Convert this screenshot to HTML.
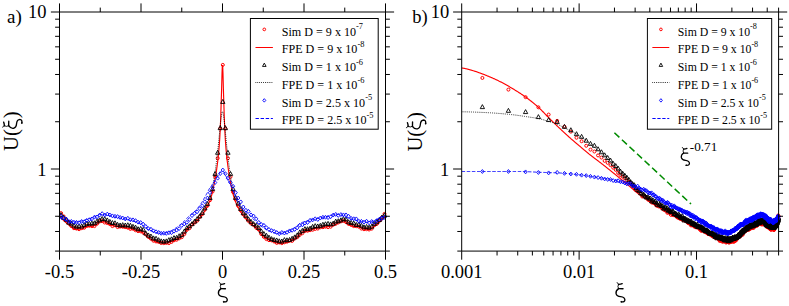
<!DOCTYPE html>
<html><head><meta charset="utf-8"><title>U(xi)</title>
<style>html,body{margin:0;padding:0;background:#fff}body{width:789px;height:306px;overflow:hidden;font-family:"Liberation Serif",serif}</style>
</head><body>
<svg width="789" height="306" viewBox="0 0 789 306" style="display:block">
<rect width="789" height="306" fill="#fff"/>
<defs><clipPath id="ca"><rect x="56.5" y="12" width="332" height="239.09"/></clipPath>
<g id="xi" transform="scale(0.08496) translate(-70.6 -216.6)" fill="none" stroke="#000" stroke-linecap="round" stroke-linejoin="round"><path d="M88 30Q92 46 106 50" stroke-width="10"/><path d="M104 51Q128 52 148 43" stroke-width="16"/><path d="M106 50Q88 76 104 100" stroke-width="11"/><path d="M104 102L158 103" stroke-width="16"/><path d="M106 102Q70 126 76 160Q84 192 130 195Q178 200 180 234Q178 262 138 258" stroke-width="15.5"/><circle cx="137" cy="257" r="6" fill="#000" stroke-width="6"/></g>
<clipPath id="cb"><rect x="461.7" y="12" width="319.9" height="239.09"/></clipPath></defs>
<g clip-path="url(#ca)" fill="none" stroke-width="1">
<g stroke="#ff0000">
<circle cx="61.08" cy="213.14" r="1.5"/>
<circle cx="63.65" cy="216.39" r="1.5"/>
<circle cx="66.22" cy="220.45" r="1.5"/>
<circle cx="68.78" cy="222.58" r="1.5"/>
<circle cx="71.35" cy="226.07" r="1.5"/>
<circle cx="73.92" cy="228.19" r="1.5"/>
<circle cx="76.49" cy="228.59" r="1.5"/>
<circle cx="79.05" cy="229.19" r="1.5"/>
<circle cx="81.62" cy="228.17" r="1.5"/>
<circle cx="84.19" cy="227.75" r="1.5"/>
<circle cx="86.75" cy="225.95" r="1.5"/>
<circle cx="89.32" cy="225.76" r="1.5"/>
<circle cx="91.89" cy="226.14" r="1.5"/>
<circle cx="94.45" cy="226.13" r="1.5"/>
<circle cx="97.02" cy="223.73" r="1.5"/>
<circle cx="99.59" cy="221.49" r="1.5"/>
<circle cx="102.15" cy="221.17" r="1.5"/>
<circle cx="104.72" cy="222.54" r="1.5"/>
<circle cx="107.29" cy="223.04" r="1.5"/>
<circle cx="109.86" cy="224.13" r="1.5"/>
<circle cx="112.42" cy="226.12" r="1.5"/>
<circle cx="114.99" cy="225.27" r="1.5"/>
<circle cx="117.56" cy="227.07" r="1.5"/>
<circle cx="120.12" cy="226.59" r="1.5"/>
<circle cx="122.69" cy="226.76" r="1.5"/>
<circle cx="125.26" cy="227.05" r="1.5"/>
<circle cx="127.82" cy="227.69" r="1.5"/>
<circle cx="130.39" cy="228.95" r="1.5"/>
<circle cx="132.96" cy="228.67" r="1.5"/>
<circle cx="135.52" cy="230.24" r="1.5"/>
<circle cx="138.09" cy="231.14" r="1.5"/>
<circle cx="140.66" cy="231.34" r="1.5"/>
<circle cx="143.23" cy="232.69" r="1.5"/>
<circle cx="145.79" cy="234.3" r="1.5"/>
<circle cx="148.36" cy="236.87" r="1.5"/>
<circle cx="150.93" cy="238.69" r="1.5"/>
<circle cx="153.49" cy="240.78" r="1.5"/>
<circle cx="156.06" cy="241.44" r="1.5"/>
<circle cx="158.63" cy="241.97" r="1.5"/>
<circle cx="161.19" cy="242.97" r="1.5"/>
<circle cx="163.76" cy="243.15" r="1.5"/>
<circle cx="166.33" cy="242.92" r="1.5"/>
<circle cx="168.89" cy="243.11" r="1.5"/>
<circle cx="171.46" cy="241.99" r="1.5"/>
<circle cx="174.03" cy="240.3" r="1.5"/>
<circle cx="176.6" cy="239.76" r="1.5"/>
<circle cx="179.16" cy="238.37" r="1.5"/>
<circle cx="181.73" cy="237.22" r="1.5"/>
<circle cx="184.3" cy="234.12" r="1.5"/>
<circle cx="186.86" cy="229.88" r="1.5"/>
<circle cx="189.43" cy="228.24" r="1.5"/>
<circle cx="192" cy="224.46" r="1.5"/>
<circle cx="194.56" cy="222.64" r="1.5"/>
<circle cx="197.13" cy="220.78" r="1.5"/>
<circle cx="199.7" cy="216.99" r="1.5"/>
<circle cx="202.26" cy="214.2" r="1.5"/>
<circle cx="204.83" cy="209.59" r="1.5"/>
<circle cx="207.4" cy="205.84" r="1.5"/>
<circle cx="209.97" cy="200.21" r="1.5"/>
<circle cx="212.53" cy="191.6" r="1.5"/>
<circle cx="215.1" cy="176.72" r="1.5"/>
<circle cx="217.67" cy="158.23" r="1.5"/>
<circle cx="220.23" cy="128.53" r="1.5"/>
<circle cx="222.8" cy="64.9" r="1.5"/>
<circle cx="225.37" cy="128.53" r="1.5"/>
<circle cx="227.93" cy="158.23" r="1.5"/>
<circle cx="230.5" cy="176.72" r="1.5"/>
<circle cx="233.07" cy="192.08" r="1.5"/>
<circle cx="235.63" cy="199.49" r="1.5"/>
<circle cx="238.2" cy="205.88" r="1.5"/>
<circle cx="240.77" cy="210.48" r="1.5"/>
<circle cx="243.34" cy="214.35" r="1.5"/>
<circle cx="245.9" cy="217.48" r="1.5"/>
<circle cx="248.47" cy="220.92" r="1.5"/>
<circle cx="251.04" cy="223.48" r="1.5"/>
<circle cx="253.6" cy="225.03" r="1.5"/>
<circle cx="256.17" cy="227.74" r="1.5"/>
<circle cx="258.74" cy="229.52" r="1.5"/>
<circle cx="261.3" cy="234.07" r="1.5"/>
<circle cx="263.87" cy="236.86" r="1.5"/>
<circle cx="266.44" cy="239.12" r="1.5"/>
<circle cx="269" cy="240.16" r="1.5"/>
<circle cx="271.57" cy="240.36" r="1.5"/>
<circle cx="274.14" cy="241.49" r="1.5"/>
<circle cx="276.71" cy="242.91" r="1.5"/>
<circle cx="279.27" cy="242.47" r="1.5"/>
<circle cx="281.84" cy="243.16" r="1.5"/>
<circle cx="284.41" cy="242.3" r="1.5"/>
<circle cx="286.97" cy="241.66" r="1.5"/>
<circle cx="289.54" cy="240.85" r="1.5"/>
<circle cx="292.11" cy="240.92" r="1.5"/>
<circle cx="294.67" cy="238.56" r="1.5"/>
<circle cx="297.24" cy="237.17" r="1.5"/>
<circle cx="299.81" cy="234.83" r="1.5"/>
<circle cx="302.37" cy="233.21" r="1.5"/>
<circle cx="304.94" cy="230.88" r="1.5"/>
<circle cx="307.51" cy="230.84" r="1.5"/>
<circle cx="310.08" cy="230.18" r="1.5"/>
<circle cx="312.64" cy="229.79" r="1.5"/>
<circle cx="315.21" cy="228.95" r="1.5"/>
<circle cx="317.78" cy="228.57" r="1.5"/>
<circle cx="320.34" cy="227.3" r="1.5"/>
<circle cx="322.91" cy="227.19" r="1.5"/>
<circle cx="325.48" cy="226.7" r="1.5"/>
<circle cx="328.04" cy="227.11" r="1.5"/>
<circle cx="330.61" cy="226.72" r="1.5"/>
<circle cx="333.18" cy="224.8" r="1.5"/>
<circle cx="335.74" cy="223.78" r="1.5"/>
<circle cx="338.31" cy="222.49" r="1.5"/>
<circle cx="340.88" cy="221.39" r="1.5"/>
<circle cx="343.45" cy="220.94" r="1.5"/>
<circle cx="346.01" cy="222.07" r="1.5"/>
<circle cx="348.58" cy="223.95" r="1.5"/>
<circle cx="351.15" cy="224.82" r="1.5"/>
<circle cx="353.71" cy="226.13" r="1.5"/>
<circle cx="356.28" cy="226.21" r="1.5"/>
<circle cx="358.85" cy="226.75" r="1.5"/>
<circle cx="361.41" cy="228.58" r="1.5"/>
<circle cx="363.98" cy="229.22" r="1.5"/>
<circle cx="366.55" cy="229.21" r="1.5"/>
<circle cx="369.11" cy="229.49" r="1.5"/>
<circle cx="371.68" cy="228.69" r="1.5"/>
<circle cx="374.25" cy="225.3" r="1.5"/>
<circle cx="376.82" cy="223.9" r="1.5"/>
<circle cx="379.38" cy="220.65" r="1.5"/>
<circle cx="381.95" cy="217.55" r="1.5"/>
<circle cx="384.52" cy="213.9" r="1.5"/>
</g>
<path d="M59.5 217.4L59.73 217.4L59.97 217.4L60.2 217.4L60.43 217.4L60.66 217.4L60.9 217.61L61.13 217.86L61.36 218.11L61.6 218.36L61.83 218.6L62.06 218.84L62.29 219.08L62.53 219.32L62.76 219.56L62.99 219.79L63.23 220.03L63.46 220.26L63.69 220.49L63.92 220.71L64.16 220.93L64.39 221.15L64.62 221.37L64.86 221.59L65.09 221.8L65.32 222.01L65.55 222.22L65.79 222.43L66.02 222.63L66.25 222.84L66.49 223.04L66.72 223.25L66.95 223.45L67.18 223.65L67.42 223.85L67.65 224.04L67.88 224.24L68.12 224.43L68.35 224.62L68.58 224.81L68.81 224.99L69.05 225.17L69.28 225.35L69.51 225.53L69.75 225.7L69.98 225.87L70.21 226.03L70.44 226.19L70.68 226.35L70.91 226.51L71.14 226.68L71.38 226.85L71.61 227.03L71.84 227.21L72.07 227.39L72.31 227.56L72.54 227.74L72.77 227.92L73.01 228.09L73.24 228.25L73.47 228.41L73.7 228.56L73.94 228.71L74.17 228.84L74.4 228.96L74.64 229.07L74.87 229.17L75.1 229.25L75.33 229.32L75.57 229.36L75.8 229.39L76.03 229.4L76.27 229.4L76.5 229.4L76.73 229.39L76.96 229.38L77.2 229.38L77.43 229.37L77.66 229.36L77.9 229.34L78.13 229.33L78.36 229.31L78.59 229.29L78.83 229.28L79.06 229.26L79.29 229.24L79.53 229.21L79.76 229.19L79.99 229.17L80.22 229.14L80.46 229.11L80.69 229.09L80.92 229.06L81.16 229.03L81.39 229L81.62 228.96L81.85 228.91L82.09 228.84L82.32 228.76L82.55 228.66L82.79 228.55L83.02 228.44L83.25 228.32L83.48 228.19L83.72 228.05L83.95 227.92L84.18 227.78L84.42 227.65L84.65 227.51L84.88 227.38L85.11 227.26L85.35 227.14L85.58 227.03L85.81 226.94L86.05 226.85L86.28 226.78L86.51 226.73L86.74 226.69L86.98 226.67L87.21 226.64L87.44 226.62L87.68 226.6L87.91 226.58L88.14 226.57L88.37 226.55L88.61 226.54L88.84 226.53L89.07 226.52L89.31 226.5L89.54 226.49L89.77 226.48L90 226.47L90.24 226.46L90.47 226.45L90.7 226.43L90.94 226.41L91.17 226.4L91.4 226.38L91.63 226.35L91.87 226.33L92.1 226.3L92.33 226.27L92.57 226.22L92.8 226.17L93.03 226.11L93.26 226.04L93.5 225.96L93.73 225.88L93.96 225.79L94.2 225.69L94.43 225.59L94.66 225.49L94.89 225.38L95.13 225.27L95.36 225.15L95.59 225.03L95.83 224.91L96.06 224.79L96.29 224.66L96.52 224.54L96.76 224.41L96.99 224.25L97.22 224.08L97.46 223.88L97.69 223.66L97.92 223.43L98.15 223.2L98.39 222.95L98.62 222.71L98.85 222.46L99.09 222.23L99.32 222L99.55 221.79L99.78 221.59L100.02 221.41L100.25 221.26L100.48 221.14L100.72 221.06L100.95 221.01L101.18 221L101.41 221.01L101.65 221.03L101.88 221.07L102.11 221.11L102.35 221.17L102.58 221.23L102.81 221.3L103.04 221.38L103.28 221.46L103.51 221.55L103.74 221.64L103.98 221.73L104.21 221.83L104.44 221.93L104.67 222.03L104.91 222.13L105.14 222.22L105.37 222.31L105.61 222.4L105.84 222.49L106.07 222.59L106.3 222.69L106.54 222.8L106.77 222.91L107 223.02L107.24 223.14L107.47 223.26L107.7 223.39L107.93 223.51L108.17 223.64L108.4 223.77L108.63 223.89L108.87 224.02L109.1 224.15L109.33 224.28L109.56 224.4L109.8 224.52L110.03 224.64L110.26 224.75L110.5 224.86L110.73 224.97L110.96 225.07L111.19 225.16L111.43 225.25L111.66 225.33L111.89 225.4L112.13 225.46L112.36 225.53L112.59 225.59L112.82 225.65L113.06 225.71L113.29 225.77L113.52 225.83L113.76 225.88L113.99 225.94L114.22 225.99L114.45 226.04L114.69 226.09L114.92 226.14L115.15 226.19L115.39 226.24L115.62 226.29L115.85 226.33L116.08 226.38L116.32 226.42L116.55 226.46L116.78 226.51L117.02 226.55L117.25 226.59L117.48 226.63L117.71 226.67L117.95 226.71L118.18 226.75L118.41 226.79L118.65 226.83L118.88 226.87L119.11 226.91L119.34 226.94L119.58 226.98L119.81 227.02L120.04 227.06L120.28 227.1L120.51 227.14L120.74 227.17L120.97 227.21L121.21 227.25L121.44 227.29L121.67 227.32L121.91 227.36L122.14 227.39L122.37 227.42L122.6 227.46L122.84 227.49L123.07 227.52L123.3 227.55L123.54 227.58L123.77 227.61L124 227.64L124.23 227.67L124.47 227.7L124.7 227.73L124.93 227.76L125.17 227.78L125.4 227.81L125.63 227.84L125.86 227.87L126.1 227.9L126.33 227.93L126.56 227.96L126.8 227.99L127.03 228.02L127.26 228.06L127.49 228.09L127.73 228.12L127.96 228.16L128.19 228.19L128.43 228.23L128.66 228.27L128.89 228.31L129.12 228.35L129.36 228.39L129.59 228.44L129.82 228.48L130.06 228.53L130.29 228.58L130.52 228.64L130.75 228.7L130.99 228.76L131.22 228.83L131.45 228.89L131.69 228.96L131.92 229.04L132.15 229.11L132.38 229.19L132.62 229.27L132.85 229.35L133.08 229.43L133.32 229.51L133.55 229.59L133.78 229.68L134.01 229.76L134.25 229.85L134.48 229.93L134.71 230.02L134.95 230.1L135.18 230.19L135.41 230.27L135.64 230.35L135.88 230.44L136.11 230.52L136.34 230.59L136.58 230.67L136.81 230.74L137.04 230.81L137.27 230.88L137.51 230.94L137.74 231.01L137.97 231.07L138.21 231.12L138.44 231.18L138.67 231.23L138.9 231.29L139.14 231.34L139.37 231.4L139.6 231.46L139.84 231.51L140.07 231.57L140.3 231.63L140.53 231.7L140.77 231.77L141 231.84L141.23 231.91L141.47 231.99L141.7 232.08L141.93 232.17L142.16 232.27L142.4 232.39L142.63 232.53L142.86 232.67L143.1 232.84L143.33 233.02L143.56 233.21L143.79 233.41L144.03 233.62L144.26 233.84L144.49 234.06L144.73 234.3L144.96 234.54L145.19 234.78L145.42 235.03L145.66 235.28L145.89 235.53L146.12 235.78L146.36 236.03L146.59 236.28L146.82 236.52L147.05 236.75L147.29 236.98L147.52 237.2L147.75 237.41L147.99 237.61L148.22 237.8L148.45 237.97L148.68 238.13L148.92 238.27L149.15 238.41L149.38 238.54L149.62 238.68L149.85 238.82L150.08 238.95L150.31 239.08L150.55 239.21L150.78 239.34L151.01 239.47L151.25 239.6L151.48 239.72L151.71 239.85L151.94 239.97L152.18 240.09L152.41 240.21L152.64 240.32L152.88 240.44L153.11 240.55L153.34 240.66L153.57 240.77L153.81 240.88L154.04 240.98L154.27 241.08L154.51 241.18L154.74 241.27L154.97 241.37L155.2 241.46L155.44 241.54L155.67 241.63L155.9 241.71L156.14 241.79L156.37 241.86L156.6 241.93L156.83 242L157.07 242.07L157.3 242.13L157.53 242.18L157.77 242.24L158 242.29L158.23 242.35L158.46 242.4L158.7 242.45L158.93 242.51L159.16 242.56L159.4 242.61L159.63 242.66L159.86 242.71L160.09 242.76L160.33 242.81L160.56 242.86L160.79 242.91L161.03 242.95L161.26 243L161.49 243.04L161.72 243.08L161.96 243.12L162.19 243.16L162.42 243.19L162.66 243.23L162.89 243.26L163.12 243.29L163.35 243.31L163.59 243.33L163.82 243.35L164.05 243.37L164.29 243.38L164.52 243.39L164.75 243.4L164.98 243.4L165.22 243.4L165.45 243.39L165.68 243.37L165.92 243.35L166.15 243.32L166.38 243.29L166.61 243.25L166.85 243.21L167.08 243.16L167.31 243.11L167.55 243.05L167.78 242.99L168.01 242.92L168.24 242.85L168.48 242.78L168.71 242.7L168.94 242.62L169.18 242.54L169.41 242.45L169.64 242.37L169.87 242.28L170.11 242.19L170.34 242.1L170.57 242.01L170.81 241.91L171.04 241.82L171.27 241.73L171.5 241.64L171.74 241.55L171.97 241.46L172.2 241.37L172.44 241.29L172.67 241.2L172.9 241.12L173.13 241.03L173.37 240.94L173.6 240.86L173.83 240.77L174.07 240.68L174.3 240.58L174.53 240.49L174.76 240.4L175 240.3L175.23 240.2L175.46 240.1L175.7 240L175.93 239.9L176.16 239.8L176.39 239.69L176.63 239.58L176.86 239.47L177.09 239.36L177.33 239.25L177.56 239.13L177.79 239.01L178.02 238.89L178.26 238.76L178.49 238.63L178.72 238.5L178.96 238.37L179.19 238.23L179.42 238.09L179.65 237.95L179.89 237.8L180.12 237.65L180.35 237.5L180.59 237.34L180.82 237.18L181.05 237.01L181.28 236.84L181.52 236.65L181.75 236.45L181.98 236.24L182.22 236.01L182.45 235.77L182.68 235.52L182.91 235.25L183.15 234.98L183.38 234.7L183.61 234.41L183.85 234.11L184.08 233.8L184.31 233.49L184.54 233.18L184.78 232.86L185.01 232.55L185.24 232.23L185.48 231.91L185.71 231.6L185.94 231.28L186.17 230.98L186.41 230.68L186.64 230.39L186.87 230.1L187.11 229.83L187.34 229.58L187.57 229.33L187.8 229.1L188.04 228.87L188.27 228.64L188.5 228.42L188.74 228.2L188.97 227.97L189.2 227.75L189.43 227.54L189.67 227.32L189.9 227.1L190.13 226.89L190.37 226.68L190.6 226.47L190.83 226.26L191.06 226.05L191.3 225.84L191.53 225.64L191.76 225.43L192 225.23L192.23 225.02L192.46 224.82L192.69 224.62L192.93 224.42L193.16 224.22L193.39 224.02L193.63 223.81L193.86 223.61L194.09 223.41L194.32 223.21L194.56 223.01L194.79 222.8L195.02 222.6L195.26 222.39L195.49 222.19L195.72 221.98L195.95 221.77L196.19 221.56L196.42 221.34L196.65 221.12L196.89 220.9L197.12 220.68L197.35 220.45L197.58 220.22L197.82 219.99L198.05 219.75L198.28 219.51L198.52 219.26L198.75 219.01L198.98 218.75L199.21 218.48L199.45 218.21L199.68 217.94L199.91 217.67L200.15 217.4L200.38 217.12L200.61 216.84L200.84 216.56L201.08 216.27L201.31 215.99L201.54 215.69L201.78 215.4L202.01 215.1L202.24 214.8L202.47 214.49L202.71 214.18L202.94 213.86L203.17 213.54L203.41 213.21L203.64 212.88L203.87 212.54L204.1 212.19L204.34 211.83L204.57 211.47L204.8 211.1L205.04 210.72L205.27 210.34L205.5 209.95L205.73 209.55L205.97 209.15L206.2 208.73L206.43 208.31L206.67 207.88L206.9 207.44L207.13 206.99L207.36 206.53L207.6 206.05L207.83 205.57L208.06 205.07L208.3 204.56L208.53 204.04L208.76 203.5L208.99 202.95L209.23 202.39L209.46 201.8L209.69 201.21L209.93 200.59L210.16 199.95L210.39 199.29L210.62 198.61L210.86 197.91L211.09 197.17L211.32 196.41L211.56 195.61L211.79 194.76L212.02 193.88L212.25 192.96L212.49 191.99L212.72 190.99L212.95 189.95L213.19 188.88L213.42 187.78L213.65 186.65L213.88 185.49L214.12 184.32L214.35 183.13L214.58 181.92L214.82 180.68L215.05 179.4L215.28 178.07L215.51 176.71L215.75 175.3L215.98 173.85L216.21 172.35L216.45 170.79L216.68 169.19L216.91 167.52L217.14 165.8L217.38 164.02L217.61 162.2L217.84 160.32L218.08 158.35L218.31 156.25L218.54 153.95L218.77 151.41L219.01 148.63L219.24 145.65L219.47 142.47L219.71 138.96L219.94 134.99L220.17 130.49L220.4 125.39L220.64 119.57L220.87 112.58L221.1 105.13L221.34 97.78L221.57 90.21L221.8 81.83L222.03 72.96L222.27 66.7L222.5 65L222.73 66.7L222.97 72.96L223.2 81.83L223.43 90.21L223.66 97.78L223.9 105.13L224.13 112.58L224.36 119.57L224.6 125.39L224.83 130.49L225.06 134.99L225.29 138.96L225.53 142.47L225.76 145.65L225.99 148.63L226.23 151.41L226.46 153.95L226.69 156.25L226.92 158.35L227.16 160.32L227.39 162.2L227.62 164.02L227.86 165.8L228.09 167.52L228.32 169.19L228.55 170.79L228.79 172.35L229.02 173.85L229.25 175.3L229.49 176.71L229.72 178.07L229.95 179.4L230.18 180.68L230.42 181.92L230.65 183.13L230.88 184.32L231.12 185.49L231.35 186.65L231.58 187.78L231.81 188.88L232.05 189.95L232.28 190.99L232.51 191.99L232.75 192.96L232.98 193.88L233.21 194.76L233.44 195.61L233.68 196.41L233.91 197.17L234.14 197.91L234.38 198.61L234.61 199.29L234.84 199.95L235.07 200.59L235.31 201.21L235.54 201.8L235.77 202.39L236.01 202.95L236.24 203.5L236.47 204.04L236.7 204.56L236.94 205.07L237.17 205.57L237.4 206.05L237.64 206.53L237.87 206.99L238.1 207.44L238.33 207.88L238.57 208.31L238.8 208.73L239.03 209.15L239.27 209.55L239.5 209.95L239.73 210.34L239.96 210.72L240.2 211.1L240.43 211.47L240.66 211.83L240.9 212.19L241.13 212.54L241.36 212.88L241.59 213.21L241.83 213.54L242.06 213.86L242.29 214.18L242.53 214.49L242.76 214.8L242.99 215.1L243.22 215.4L243.46 215.69L243.69 215.99L243.92 216.27L244.16 216.56L244.39 216.84L244.62 217.12L244.85 217.4L245.09 217.67L245.32 217.94L245.55 218.21L245.79 218.48L246.02 218.75L246.25 219.01L246.48 219.26L246.72 219.51L246.95 219.75L247.18 219.99L247.42 220.22L247.65 220.45L247.88 220.68L248.11 220.9L248.35 221.12L248.58 221.34L248.81 221.56L249.05 221.77L249.28 221.98L249.51 222.19L249.74 222.39L249.98 222.6L250.21 222.8L250.44 223.01L250.68 223.21L250.91 223.41L251.14 223.61L251.37 223.81L251.61 224.02L251.84 224.22L252.07 224.42L252.31 224.62L252.54 224.82L252.77 225.02L253 225.23L253.24 225.43L253.47 225.64L253.7 225.84L253.94 226.05L254.17 226.26L254.4 226.47L254.63 226.68L254.87 226.89L255.1 227.1L255.33 227.32L255.57 227.54L255.8 227.75L256.03 227.97L256.26 228.2L256.5 228.42L256.73 228.64L256.96 228.87L257.2 229.1L257.43 229.33L257.66 229.58L257.89 229.83L258.13 230.1L258.36 230.39L258.59 230.68L258.83 230.98L259.06 231.28L259.29 231.6L259.52 231.91L259.76 232.23L259.99 232.55L260.22 232.86L260.46 233.18L260.69 233.49L260.92 233.8L261.15 234.11L261.39 234.41L261.62 234.7L261.85 234.98L262.09 235.25L262.32 235.52L262.55 235.77L262.78 236.01L263.02 236.24L263.25 236.45L263.48 236.65L263.72 236.84L263.95 237.01L264.18 237.18L264.41 237.34L264.65 237.5L264.88 237.65L265.11 237.8L265.35 237.95L265.58 238.09L265.81 238.23L266.04 238.37L266.28 238.5L266.51 238.63L266.74 238.76L266.98 238.89L267.21 239.01L267.44 239.13L267.67 239.25L267.91 239.36L268.14 239.47L268.37 239.58L268.61 239.69L268.84 239.8L269.07 239.9L269.3 240L269.54 240.1L269.77 240.2L270 240.3L270.24 240.4L270.47 240.49L270.7 240.58L270.93 240.68L271.17 240.77L271.4 240.86L271.63 240.94L271.87 241.03L272.1 241.12L272.33 241.2L272.56 241.29L272.8 241.37L273.03 241.46L273.26 241.55L273.5 241.64L273.73 241.73L273.96 241.82L274.19 241.91L274.43 242.01L274.66 242.1L274.89 242.19L275.13 242.28L275.36 242.37L275.59 242.45L275.82 242.54L276.06 242.62L276.29 242.7L276.52 242.78L276.76 242.85L276.99 242.92L277.22 242.99L277.45 243.05L277.69 243.11L277.92 243.16L278.15 243.21L278.39 243.25L278.62 243.29L278.85 243.32L279.08 243.35L279.32 243.37L279.55 243.39L279.78 243.4L280.02 243.4L280.25 243.4L280.48 243.39L280.71 243.38L280.95 243.37L281.18 243.35L281.41 243.33L281.65 243.31L281.88 243.29L282.11 243.26L282.34 243.23L282.58 243.19L282.81 243.16L283.04 243.12L283.28 243.08L283.51 243.04L283.74 243L283.97 242.95L284.21 242.91L284.44 242.86L284.67 242.81L284.91 242.76L285.14 242.71L285.37 242.66L285.6 242.61L285.84 242.56L286.07 242.51L286.3 242.45L286.54 242.4L286.77 242.35L287 242.29L287.23 242.24L287.47 242.18L287.7 242.13L287.93 242.07L288.17 242L288.4 241.93L288.63 241.86L288.86 241.79L289.1 241.71L289.33 241.63L289.56 241.54L289.8 241.46L290.03 241.37L290.26 241.27L290.49 241.18L290.73 241.08L290.96 240.98L291.19 240.88L291.43 240.77L291.66 240.66L291.89 240.55L292.12 240.44L292.36 240.32L292.59 240.21L292.82 240.09L293.06 239.97L293.29 239.85L293.52 239.72L293.75 239.6L293.99 239.47L294.22 239.34L294.45 239.21L294.69 239.08L294.92 238.95L295.15 238.82L295.38 238.68L295.62 238.54L295.85 238.41L296.08 238.27L296.32 238.13L296.55 237.97L296.78 237.8L297.01 237.61L297.25 237.41L297.48 237.2L297.71 236.98L297.95 236.75L298.18 236.52L298.41 236.28L298.64 236.03L298.88 235.78L299.11 235.53L299.34 235.28L299.58 235.03L299.81 234.78L300.04 234.54L300.27 234.3L300.51 234.06L300.74 233.84L300.97 233.62L301.21 233.41L301.44 233.21L301.67 233.02L301.9 232.84L302.14 232.67L302.37 232.53L302.6 232.39L302.84 232.27L303.07 232.17L303.3 232.08L303.53 231.99L303.77 231.91L304 231.84L304.23 231.77L304.47 231.7L304.7 231.63L304.93 231.57L305.16 231.51L305.4 231.46L305.63 231.4L305.86 231.34L306.1 231.29L306.33 231.23L306.56 231.18L306.79 231.12L307.03 231.07L307.26 231.01L307.49 230.94L307.73 230.88L307.96 230.81L308.19 230.74L308.42 230.67L308.66 230.59L308.89 230.52L309.12 230.44L309.36 230.35L309.59 230.27L309.82 230.19L310.05 230.1L310.29 230.02L310.52 229.93L310.75 229.85L310.99 229.76L311.22 229.68L311.45 229.59L311.68 229.51L311.92 229.43L312.15 229.35L312.38 229.27L312.62 229.19L312.85 229.11L313.08 229.04L313.31 228.96L313.55 228.89L313.78 228.83L314.01 228.76L314.25 228.7L314.48 228.64L314.71 228.58L314.94 228.53L315.18 228.48L315.41 228.44L315.64 228.39L315.88 228.35L316.11 228.31L316.34 228.27L316.57 228.23L316.81 228.19L317.04 228.16L317.27 228.12L317.51 228.09L317.74 228.06L317.97 228.02L318.2 227.99L318.44 227.96L318.67 227.93L318.9 227.9L319.14 227.87L319.37 227.84L319.6 227.81L319.83 227.78L320.07 227.76L320.3 227.73L320.53 227.7L320.77 227.67L321 227.64L321.23 227.61L321.46 227.58L321.7 227.55L321.93 227.52L322.16 227.49L322.4 227.46L322.63 227.42L322.86 227.39L323.09 227.36L323.33 227.32L323.56 227.29L323.79 227.25L324.03 227.21L324.26 227.17L324.49 227.14L324.72 227.1L324.96 227.06L325.19 227.02L325.42 226.98L325.66 226.94L325.89 226.91L326.12 226.87L326.35 226.83L326.59 226.79L326.82 226.75L327.05 226.71L327.29 226.67L327.52 226.63L327.75 226.59L327.98 226.55L328.22 226.51L328.45 226.46L328.68 226.42L328.92 226.38L329.15 226.33L329.38 226.29L329.61 226.24L329.85 226.19L330.08 226.14L330.31 226.09L330.55 226.04L330.78 225.99L331.01 225.94L331.24 225.88L331.48 225.83L331.71 225.77L331.94 225.71L332.18 225.65L332.41 225.59L332.64 225.53L332.87 225.46L333.11 225.4L333.34 225.33L333.57 225.25L333.81 225.16L334.04 225.07L334.27 224.97L334.5 224.86L334.74 224.75L334.97 224.64L335.2 224.52L335.44 224.4L335.67 224.28L335.9 224.15L336.13 224.02L336.37 223.89L336.6 223.77L336.83 223.64L337.07 223.51L337.3 223.39L337.53 223.26L337.76 223.14L338 223.02L338.23 222.91L338.46 222.8L338.7 222.69L338.93 222.59L339.16 222.49L339.39 222.4L339.63 222.31L339.86 222.22L340.09 222.13L340.33 222.03L340.56 221.93L340.79 221.83L341.02 221.73L341.26 221.64L341.49 221.55L341.72 221.46L341.96 221.38L342.19 221.3L342.42 221.23L342.65 221.17L342.89 221.11L343.12 221.07L343.35 221.03L343.59 221.01L343.82 221L344.05 221.01L344.28 221.06L344.52 221.14L344.75 221.26L344.98 221.41L345.22 221.59L345.45 221.79L345.68 222L345.91 222.23L346.15 222.46L346.38 222.71L346.61 222.95L346.85 223.2L347.08 223.43L347.31 223.66L347.54 223.88L347.78 224.08L348.01 224.25L348.24 224.41L348.48 224.54L348.71 224.66L348.94 224.79L349.17 224.91L349.41 225.03L349.64 225.15L349.87 225.27L350.11 225.38L350.34 225.49L350.57 225.59L350.8 225.69L351.04 225.79L351.27 225.88L351.5 225.96L351.74 226.04L351.97 226.11L352.2 226.17L352.43 226.22L352.67 226.27L352.9 226.3L353.13 226.33L353.37 226.35L353.6 226.38L353.83 226.4L354.06 226.41L354.3 226.43L354.53 226.45L354.76 226.46L355 226.47L355.23 226.48L355.46 226.49L355.69 226.5L355.93 226.52L356.16 226.53L356.39 226.54L356.63 226.55L356.86 226.57L357.09 226.58L357.32 226.6L357.56 226.62L357.79 226.64L358.02 226.67L358.26 226.69L358.49 226.73L358.72 226.78L358.95 226.85L359.19 226.94L359.42 227.03L359.65 227.14L359.89 227.26L360.12 227.38L360.35 227.51L360.58 227.65L360.82 227.78L361.05 227.92L361.28 228.05L361.52 228.19L361.75 228.32L361.98 228.44L362.21 228.55L362.45 228.66L362.68 228.76L362.91 228.84L363.15 228.91L363.38 228.96L363.61 229L363.84 229.03L364.08 229.06L364.31 229.09L364.54 229.11L364.78 229.14L365.01 229.17L365.24 229.19L365.47 229.21L365.71 229.24L365.94 229.26L366.17 229.28L366.41 229.29L366.64 229.31L366.87 229.33L367.1 229.34L367.34 229.36L367.57 229.37L367.8 229.38L368.04 229.38L368.27 229.39L368.5 229.4L368.73 229.4L368.97 229.4L369.2 229.39L369.43 229.36L369.67 229.32L369.9 229.25L370.13 229.17L370.36 229.07L370.6 228.96L370.83 228.84L371.06 228.71L371.3 228.56L371.53 228.41L371.76 228.25L371.99 228.09L372.23 227.92L372.46 227.74L372.69 227.56L372.93 227.39L373.16 227.21L373.39 227.03L373.62 226.85L373.86 226.68L374.09 226.51L374.32 226.35L374.56 226.19L374.79 226.03L375.02 225.87L375.25 225.7L375.49 225.53L375.72 225.35L375.95 225.17L376.19 224.99L376.42 224.81L376.65 224.62L376.88 224.43L377.12 224.24L377.35 224.04L377.58 223.85L377.82 223.65L378.05 223.45L378.28 223.25L378.51 223.04L378.75 222.84L378.98 222.63L379.21 222.43L379.45 222.22L379.68 222.01L379.91 221.8L380.14 221.59L380.38 221.37L380.61 221.15L380.84 220.93L381.08 220.71L381.31 220.49L381.54 220.26L381.77 220.03L382.01 219.79L382.24 219.56L382.47 219.32L382.71 219.08L382.94 218.84L383.17 218.6L383.4 218.36L383.64 218.11L383.87 217.86L384.1 217.61L384.34 217.4L384.57 217.4L384.8 217.4L385.03 217.4L385.27 217.4L385.5 217.4" stroke="#ff0000" stroke-width="1.15"/>
<g stroke="#000000" stroke-width="0.9">
<path d="M61.08 212.59L58.93 216.57L63.23 216.57Z"/>
<path d="M63.65 215.26L61.5 219.24L65.8 219.24Z"/>
<path d="M66.22 217.24L64.07 221.21L68.37 221.21Z"/>
<path d="M68.78 220.17L66.63 224.14L70.93 224.14Z"/>
<path d="M71.35 221.25L69.2 225.23L73.5 225.23Z"/>
<path d="M73.92 223.15L71.77 227.13L76.07 227.13Z"/>
<path d="M76.49 224.24L74.34 228.22L78.64 228.22Z"/>
<path d="M79.05 224.06L76.9 228.04L81.2 228.04Z"/>
<path d="M81.62 224.04L79.47 228.01L83.77 228.01Z"/>
<path d="M84.19 222.58L82.04 226.56L86.34 226.56Z"/>
<path d="M86.75 221.29L84.6 225.27L88.9 225.27Z"/>
<path d="M89.32 221.28L87.17 225.26L91.47 225.26Z"/>
<path d="M91.89 221.05L89.74 225.03L94.04 225.03Z"/>
<path d="M94.45 220.77L92.3 224.75L96.6 224.75Z"/>
<path d="M97.02 219.02L94.87 223L99.17 223Z"/>
<path d="M99.59 217.8L97.44 221.78L101.74 221.78Z"/>
<path d="M102.15 216.47L100 220.45L104.3 220.45Z"/>
<path d="M104.72 216.68L102.57 220.66L106.87 220.66Z"/>
<path d="M107.29 217.92L105.14 221.9L109.44 221.9Z"/>
<path d="M109.86 219.43L107.71 223.41L112.01 223.41Z"/>
<path d="M112.42 220.52L110.27 224.5L114.57 224.5Z"/>
<path d="M114.99 220.81L112.84 224.79L117.14 224.79Z"/>
<path d="M117.56 222.33L115.41 226.31L119.71 226.31Z"/>
<path d="M120.12 222.96L117.97 226.94L122.27 226.94Z"/>
<path d="M122.69 222.63L120.54 226.61L124.84 226.61Z"/>
<path d="M125.26 222.99L123.11 226.96L127.41 226.96Z"/>
<path d="M127.82 222.76L125.67 226.74L129.97 226.74Z"/>
<path d="M130.39 223.23L128.24 227.21L132.54 227.21Z"/>
<path d="M132.96 224.31L130.81 228.29L135.11 228.29Z"/>
<path d="M135.52 225.13L133.37 229.1L137.67 229.1Z"/>
<path d="M138.09 226.73L135.94 230.71L140.24 230.71Z"/>
<path d="M140.66 226.43L138.51 230.4L142.81 230.4Z"/>
<path d="M143.23 227.3L141.08 231.28L145.38 231.28Z"/>
<path d="M145.79 230.99L143.64 234.96L147.94 234.96Z"/>
<path d="M148.36 232.96L146.21 236.94L150.51 236.94Z"/>
<path d="M150.93 234.01L148.78 237.99L153.08 237.99Z"/>
<path d="M153.49 235.9L151.34 239.88L155.64 239.88Z"/>
<path d="M156.06 236.25L153.91 240.23L158.21 240.23Z"/>
<path d="M158.63 237.66L156.48 241.64L160.78 241.64Z"/>
<path d="M161.19 238.85L159.04 242.83L163.34 242.83Z"/>
<path d="M163.76 239.08L161.61 243.06L165.91 243.06Z"/>
<path d="M166.33 238.86L164.18 242.84L168.48 242.84Z"/>
<path d="M168.89 237.65L166.74 241.63L171.04 241.63Z"/>
<path d="M171.46 236.84L169.31 240.81L173.61 240.81Z"/>
<path d="M174.03 235.59L171.88 239.57L176.18 239.57Z"/>
<path d="M176.6 235.36L174.45 239.34L178.75 239.34Z"/>
<path d="M179.16 233.71L177.01 237.69L181.31 237.69Z"/>
<path d="M181.73 232.37L179.58 236.34L183.88 236.34Z"/>
<path d="M184.3 229.05L182.15 233.02L186.45 233.02Z"/>
<path d="M186.86 225.62L184.71 229.6L189.01 229.6Z"/>
<path d="M189.43 223.8L187.28 227.77L191.58 227.77Z"/>
<path d="M192 221.66L189.85 225.64L194.15 225.64Z"/>
<path d="M194.56 219.16L192.41 223.14L196.71 223.14Z"/>
<path d="M197.13 216.67L194.98 220.65L199.28 220.65Z"/>
<path d="M199.7 213.85L197.55 217.82L201.85 217.82Z"/>
<path d="M202.26 210.41L200.11 214.38L204.41 214.38Z"/>
<path d="M204.83 205.8L202.68 209.78L206.98 209.78Z"/>
<path d="M207.4 201.44L205.25 205.41L209.55 205.41Z"/>
<path d="M209.97 195.49L207.82 199.46L212.12 199.46Z"/>
<path d="M212.53 186.62L210.38 190.6L214.68 190.6Z"/>
<path d="M215.1 171.43L212.95 175.41L217.25 175.41Z"/>
<path d="M217.67 150.3L215.52 154.28L219.82 154.28Z"/>
<path d="M220.23 125.68L218.08 129.66L222.38 129.66Z"/>
<path d="M222.8 99.45L220.65 103.43L224.95 103.43Z"/>
<path d="M225.37 125.68L223.22 129.66L227.52 129.66Z"/>
<path d="M227.93 150.3L225.78 154.28L230.08 154.28Z"/>
<path d="M230.5 171.43L228.35 175.41L232.65 175.41Z"/>
<path d="M233.07 186.62L230.92 190.6L235.22 190.6Z"/>
<path d="M235.63 195.38L233.48 199.36L237.78 199.36Z"/>
<path d="M238.2 201.07L236.05 205.05L240.35 205.05Z"/>
<path d="M240.77 206.45L238.62 210.43L242.92 210.43Z"/>
<path d="M243.34 210.71L241.19 214.69L245.49 214.69Z"/>
<path d="M245.9 213.33L243.75 217.3L248.05 217.3Z"/>
<path d="M248.47 216.85L246.32 220.83L250.62 220.83Z"/>
<path d="M251.04 219.35L248.89 223.33L253.19 223.33Z"/>
<path d="M253.6 221.62L251.45 225.6L255.75 225.6Z"/>
<path d="M256.17 223.17L254.02 227.15L258.32 227.15Z"/>
<path d="M258.74 225.62L256.59 229.6L260.89 229.6Z"/>
<path d="M261.3 228.9L259.15 232.88L263.45 232.88Z"/>
<path d="M263.87 231.55L261.72 235.53L266.02 235.53Z"/>
<path d="M266.44 233.25L264.29 237.23L268.59 237.23Z"/>
<path d="M269 235.15L266.85 239.13L271.15 239.13Z"/>
<path d="M271.57 236.62L269.42 240.59L273.72 240.59Z"/>
<path d="M274.14 237.5L271.99 241.48L276.29 241.48Z"/>
<path d="M276.71 237.96L274.56 241.94L278.86 241.94Z"/>
<path d="M279.27 238.8L277.12 242.78L281.42 242.78Z"/>
<path d="M281.84 238.99L279.69 242.97L283.99 242.97Z"/>
<path d="M284.41 237.6L282.26 241.58L286.56 241.58Z"/>
<path d="M286.97 237.84L284.82 241.82L289.12 241.82Z"/>
<path d="M289.54 237.48L287.39 241.46L291.69 241.46Z"/>
<path d="M292.11 236.24L289.96 240.21L294.26 240.21Z"/>
<path d="M294.67 234.86L292.52 238.83L296.82 238.83Z"/>
<path d="M297.24 232.89L295.09 236.87L299.39 236.87Z"/>
<path d="M299.81 229.9L297.66 233.88L301.96 233.88Z"/>
<path d="M302.37 228.37L300.22 232.35L304.52 232.35Z"/>
<path d="M304.94 226.66L302.79 230.64L307.09 230.64Z"/>
<path d="M307.51 226.69L305.36 230.67L309.66 230.67Z"/>
<path d="M310.08 226.12L307.93 230.09L312.23 230.09Z"/>
<path d="M312.64 224.38L310.49 228.36L314.79 228.36Z"/>
<path d="M315.21 223.65L313.06 227.63L317.36 227.63Z"/>
<path d="M317.78 223.97L315.63 227.95L319.93 227.95Z"/>
<path d="M320.34 223.32L318.19 227.3L322.49 227.3Z"/>
<path d="M322.91 222.22L320.76 226.19L325.06 226.19Z"/>
<path d="M325.48 221.75L323.33 225.73L327.63 225.73Z"/>
<path d="M328.04 221.35L325.89 225.33L330.19 225.33Z"/>
<path d="M330.61 221.91L328.46 225.89L332.76 225.89Z"/>
<path d="M333.18 221.14L331.03 225.12L335.33 225.12Z"/>
<path d="M335.74 219.15L333.59 223.13L337.89 223.13Z"/>
<path d="M338.31 218.72L336.16 222.7L340.46 222.7Z"/>
<path d="M340.88 217.84L338.73 221.82L343.03 221.82Z"/>
<path d="M343.45 216.53L341.3 220.51L345.6 220.51Z"/>
<path d="M346.01 217.07L343.86 221.05L348.16 221.05Z"/>
<path d="M348.58 219.75L346.43 223.73L350.73 223.73Z"/>
<path d="M351.15 220.44L349 224.42L353.3 224.42Z"/>
<path d="M353.71 220.93L351.56 224.91L355.86 224.91Z"/>
<path d="M356.28 222.43L354.13 226.41L358.43 226.41Z"/>
<path d="M358.85 222.2L356.7 226.18L361 226.18Z"/>
<path d="M361.41 223.24L359.26 227.22L363.56 227.22Z"/>
<path d="M363.98 224.87L361.83 228.84L366.13 228.84Z"/>
<path d="M366.55 224.44L364.4 228.42L368.7 228.42Z"/>
<path d="M369.11 225.17L366.96 229.15L371.26 229.15Z"/>
<path d="M371.68 224.22L369.53 228.19L373.83 228.19Z"/>
<path d="M374.25 221.46L372.1 225.44L376.4 225.44Z"/>
<path d="M376.82 219.63L374.67 223.61L378.97 223.61Z"/>
<path d="M379.38 217.5L377.23 221.48L381.53 221.48Z"/>
<path d="M381.95 215.04L379.8 219.01L384.1 219.01Z"/>
<path d="M384.52 212.86L382.37 216.84L386.67 216.84Z"/>
</g>
<path d="M59.5 215.1L59.73 215.1L59.97 215.1L60.2 215.1L60.43 215.1L60.66 215.1L60.9 215.31L61.13 215.56L61.36 215.81L61.6 216.06L61.83 216.3L62.06 216.54L62.29 216.78L62.53 217.02L62.76 217.26L62.99 217.49L63.23 217.73L63.46 217.96L63.69 218.19L63.92 218.41L64.16 218.63L64.39 218.85L64.62 219.07L64.86 219.29L65.09 219.5L65.32 219.71L65.55 219.92L65.79 220.13L66.02 220.33L66.25 220.54L66.49 220.74L66.72 220.95L66.95 221.15L67.18 221.35L67.42 221.55L67.65 221.74L67.88 221.94L68.12 222.13L68.35 222.32L68.58 222.51L68.81 222.69L69.05 222.87L69.28 223.05L69.51 223.23L69.75 223.4L69.98 223.57L70.21 223.73L70.44 223.89L70.68 224.05L70.91 224.21L71.14 224.38L71.38 224.55L71.61 224.73L71.84 224.91L72.07 225.09L72.31 225.26L72.54 225.44L72.77 225.62L73.01 225.79L73.24 225.95L73.47 226.11L73.7 226.26L73.94 226.41L74.17 226.54L74.4 226.66L74.64 226.77L74.87 226.87L75.1 226.95L75.33 227.02L75.57 227.06L75.8 227.09L76.03 227.1L76.27 227.1L76.5 227.1L76.73 227.09L76.96 227.08L77.2 227.08L77.43 227.07L77.66 227.06L77.9 227.04L78.13 227.03L78.36 227.01L78.59 226.99L78.83 226.98L79.06 226.96L79.29 226.94L79.53 226.91L79.76 226.89L79.99 226.87L80.22 226.84L80.46 226.81L80.69 226.79L80.92 226.76L81.16 226.73L81.39 226.7L81.62 226.66L81.85 226.61L82.09 226.54L82.32 226.46L82.55 226.36L82.79 226.25L83.02 226.14L83.25 226.02L83.48 225.89L83.72 225.75L83.95 225.62L84.18 225.48L84.42 225.35L84.65 225.21L84.88 225.08L85.11 224.96L85.35 224.84L85.58 224.73L85.81 224.64L86.05 224.55L86.28 224.48L86.51 224.43L86.74 224.39L86.98 224.37L87.21 224.34L87.44 224.32L87.68 224.3L87.91 224.28L88.14 224.27L88.37 224.25L88.61 224.24L88.84 224.23L89.07 224.22L89.31 224.2L89.54 224.19L89.77 224.18L90 224.17L90.24 224.16L90.47 224.15L90.7 224.13L90.94 224.11L91.17 224.1L91.4 224.08L91.63 224.05L91.87 224.03L92.1 224L92.33 223.97L92.57 223.92L92.8 223.87L93.03 223.81L93.26 223.74L93.5 223.66L93.73 223.58L93.96 223.49L94.2 223.39L94.43 223.29L94.66 223.19L94.89 223.08L95.13 222.97L95.36 222.85L95.59 222.73L95.83 222.61L96.06 222.49L96.29 222.36L96.52 222.24L96.76 222.11L96.99 221.95L97.22 221.78L97.46 221.58L97.69 221.36L97.92 221.13L98.15 220.9L98.39 220.65L98.62 220.41L98.85 220.16L99.09 219.93L99.32 219.7L99.55 219.49L99.78 219.29L100.02 219.11L100.25 218.96L100.48 218.84L100.72 218.76L100.95 218.71L101.18 218.7L101.41 218.71L101.65 218.73L101.88 218.77L102.11 218.81L102.35 218.87L102.58 218.93L102.81 219L103.04 219.08L103.28 219.16L103.51 219.25L103.74 219.34L103.98 219.43L104.21 219.53L104.44 219.63L104.67 219.73L104.91 219.83L105.14 219.92L105.37 220.01L105.61 220.1L105.84 220.19L106.07 220.29L106.3 220.39L106.54 220.5L106.77 220.61L107 220.72L107.24 220.84L107.47 220.96L107.7 221.09L107.93 221.21L108.17 221.34L108.4 221.47L108.63 221.59L108.87 221.72L109.1 221.85L109.33 221.98L109.56 222.1L109.8 222.22L110.03 222.34L110.26 222.45L110.5 222.56L110.73 222.67L110.96 222.77L111.19 222.86L111.43 222.95L111.66 223.03L111.89 223.1L112.13 223.16L112.36 223.23L112.59 223.29L112.82 223.35L113.06 223.41L113.29 223.47L113.52 223.53L113.76 223.58L113.99 223.64L114.22 223.69L114.45 223.74L114.69 223.79L114.92 223.84L115.15 223.89L115.39 223.94L115.62 223.99L115.85 224.03L116.08 224.08L116.32 224.12L116.55 224.16L116.78 224.21L117.02 224.25L117.25 224.29L117.48 224.33L117.71 224.37L117.95 224.41L118.18 224.45L118.41 224.49L118.65 224.53L118.88 224.57L119.11 224.61L119.34 224.64L119.58 224.68L119.81 224.72L120.04 224.76L120.28 224.8L120.51 224.84L120.74 224.87L120.97 224.91L121.21 224.95L121.44 224.99L121.67 225.02L121.91 225.06L122.14 225.09L122.37 225.12L122.6 225.16L122.84 225.19L123.07 225.22L123.3 225.25L123.54 225.28L123.77 225.31L124 225.34L124.23 225.37L124.47 225.4L124.7 225.43L124.93 225.46L125.17 225.48L125.4 225.51L125.63 225.54L125.86 225.57L126.1 225.6L126.33 225.63L126.56 225.66L126.8 225.69L127.03 225.72L127.26 225.76L127.49 225.79L127.73 225.82L127.96 225.86L128.19 225.89L128.43 225.93L128.66 225.97L128.89 226.01L129.12 226.05L129.36 226.09L129.59 226.14L129.82 226.18L130.06 226.23L130.29 226.28L130.52 226.34L130.75 226.4L130.99 226.46L131.22 226.53L131.45 226.59L131.69 226.66L131.92 226.74L132.15 226.81L132.38 226.89L132.62 226.97L132.85 227.05L133.08 227.13L133.32 227.21L133.55 227.29L133.78 227.38L134.01 227.46L134.25 227.55L134.48 227.63L134.71 227.72L134.95 227.8L135.18 227.89L135.41 227.97L135.64 228.05L135.88 228.14L136.11 228.22L136.34 228.29L136.58 228.37L136.81 228.44L137.04 228.51L137.27 228.58L137.51 228.64L137.74 228.71L137.97 228.77L138.21 228.82L138.44 228.88L138.67 228.93L138.9 228.99L139.14 229.04L139.37 229.1L139.6 229.16L139.84 229.21L140.07 229.27L140.3 229.33L140.53 229.4L140.77 229.47L141 229.54L141.23 229.61L141.47 229.69L141.7 229.78L141.93 229.87L142.16 229.97L142.4 230.09L142.63 230.23L142.86 230.37L143.1 230.54L143.33 230.72L143.56 230.91L143.79 231.11L144.03 231.32L144.26 231.54L144.49 231.76L144.73 232L144.96 232.24L145.19 232.48L145.42 232.73L145.66 232.98L145.89 233.23L146.12 233.48L146.36 233.73L146.59 233.98L146.82 234.22L147.05 234.45L147.29 234.68L147.52 234.9L147.75 235.11L147.99 235.31L148.22 235.5L148.45 235.67L148.68 235.83L148.92 235.97L149.15 236.11L149.38 236.24L149.62 236.38L149.85 236.52L150.08 236.65L150.31 236.78L150.55 236.91L150.78 237.04L151.01 237.17L151.25 237.3L151.48 237.42L151.71 237.55L151.94 237.67L152.18 237.79L152.41 237.91L152.64 238.02L152.88 238.14L153.11 238.25L153.34 238.36L153.57 238.47L153.81 238.58L154.04 238.68L154.27 238.78L154.51 238.88L154.74 238.97L154.97 239.07L155.2 239.16L155.44 239.24L155.67 239.33L155.9 239.41L156.14 239.49L156.37 239.56L156.6 239.63L156.83 239.7L157.07 239.77L157.3 239.83L157.53 239.88L157.77 239.94L158 239.99L158.23 240.05L158.46 240.1L158.7 240.15L158.93 240.21L159.16 240.26L159.4 240.31L159.63 240.36L159.86 240.41L160.09 240.46L160.33 240.51L160.56 240.56L160.79 240.61L161.03 240.65L161.26 240.7L161.49 240.74L161.72 240.78L161.96 240.82L162.19 240.86L162.42 240.89L162.66 240.93L162.89 240.96L163.12 240.99L163.35 241.01L163.59 241.03L163.82 241.05L164.05 241.07L164.29 241.08L164.52 241.09L164.75 241.1L164.98 241.1L165.22 241.1L165.45 241.09L165.68 241.07L165.92 241.05L166.15 241.02L166.38 240.99L166.61 240.95L166.85 240.91L167.08 240.86L167.31 240.81L167.55 240.75L167.78 240.69L168.01 240.62L168.24 240.55L168.48 240.48L168.71 240.4L168.94 240.32L169.18 240.24L169.41 240.15L169.64 240.07L169.87 239.98L170.11 239.89L170.34 239.8L170.57 239.71L170.81 239.61L171.04 239.52L171.27 239.43L171.5 239.34L171.74 239.25L171.97 239.16L172.2 239.07L172.44 238.99L172.67 238.9L172.9 238.82L173.13 238.73L173.37 238.64L173.6 238.55L173.83 238.47L174.07 238.37L174.3 238.28L174.53 238.19L174.76 238.09L175 238L175.23 237.9L175.46 237.8L175.7 237.7L175.93 237.6L176.16 237.49L176.39 237.39L176.63 237.28L176.86 237.17L177.09 237.05L177.33 236.94L177.56 236.82L177.79 236.7L178.02 236.58L178.26 236.45L178.49 236.33L178.72 236.2L178.96 236.06L179.19 235.93L179.42 235.79L179.65 235.64L179.89 235.5L180.12 235.35L180.35 235.19L180.59 235.03L180.82 234.87L181.05 234.71L181.28 234.54L181.52 234.35L181.75 234.16L181.98 233.95L182.22 233.73L182.45 233.49L182.68 233.25L182.91 232.99L183.15 232.73L183.38 232.46L183.61 232.17L183.85 231.89L184.08 231.59L184.31 231.3L184.54 230.99L184.78 230.69L185.01 230.38L185.24 230.07L185.48 229.77L185.71 229.46L185.94 229.16L186.17 228.86L186.41 228.57L186.64 228.28L186.87 228L187.11 227.73L187.34 227.48L187.57 227.23L187.8 227L188.04 226.77L188.27 226.54L188.5 226.31L188.74 226.08L188.97 225.86L189.2 225.63L189.43 225.41L189.67 225.19L189.9 224.97L190.13 224.76L190.37 224.54L190.6 224.32L190.83 224.11L191.06 223.89L191.3 223.68L191.53 223.47L191.76 223.26L192 223.05L192.23 222.84L192.46 222.63L192.69 222.42L192.93 222.21L193.16 222L193.39 221.79L193.63 221.58L193.86 221.37L194.09 221.16L194.32 220.95L194.56 220.74L194.79 220.53L195.02 220.31L195.26 220.1L195.49 219.88L195.72 219.66L195.95 219.44L196.19 219.22L196.42 218.99L196.65 218.76L196.89 218.53L197.12 218.3L197.35 218.06L197.58 217.81L197.82 217.57L198.05 217.32L198.28 217.06L198.52 216.8L198.75 216.53L198.98 216.25L199.21 215.97L199.45 215.69L199.68 215.4L199.91 215.11L200.15 214.82L200.38 214.53L200.61 214.23L200.84 213.93L201.08 213.62L201.31 213.31L201.54 213L201.78 212.68L202.01 212.36L202.24 212.03L202.47 211.7L202.71 211.37L202.94 211.03L203.17 210.68L203.41 210.33L203.64 209.97L203.87 209.6L204.1 209.23L204.34 208.85L204.57 208.47L204.8 208.07L205.04 207.67L205.27 207.26L205.5 206.85L205.73 206.42L205.97 205.99L206.2 205.55L206.43 205.1L206.67 204.64L206.9 204.17L207.13 203.69L207.36 203.21L207.6 202.71L207.83 202.21L208.06 201.7L208.3 201.17L208.53 200.64L208.76 200.1L208.99 199.57L209.23 199.04L209.46 198.51L209.69 197.97L209.93 197.42L210.16 196.85L210.39 196.26L210.62 195.64L210.86 194.99L211.09 194.28L211.32 193.53L211.56 192.71L211.79 191.81L212.02 190.75L212.25 189.53L212.49 188.2L212.72 186.79L212.95 185.38L213.19 184.02L213.42 182.66L213.65 181.27L213.88 179.85L214.12 178.4L214.35 176.92L214.58 175.41L214.82 173.86L215.05 172.28L215.28 170.65L215.51 168.97L215.75 167.22L215.98 165.41L216.21 163.54L216.45 161.63L216.68 159.67L216.91 157.67L217.14 155.66L217.38 153.64L217.61 151.65L217.84 149.66L218.08 147.65L218.31 145.53L218.54 143.24L218.77 140.75L219.01 138.23L219.24 135.84L219.47 133.5L219.71 131.23L219.94 129.03L220.17 126.56L220.4 123.91L220.64 121.99L220.87 119.91L221.1 118.11L221.34 116.68L221.57 115.03L221.8 113.56L222.03 112.32L222.27 111.68L222.5 111.5L222.73 111.68L222.97 112.32L223.2 113.56L223.43 115.03L223.66 116.68L223.9 118.11L224.13 119.91L224.36 121.99L224.6 123.91L224.83 126.56L225.06 129.03L225.29 131.23L225.53 133.5L225.76 135.84L225.99 138.23L226.23 140.75L226.46 143.24L226.69 145.53L226.92 147.65L227.16 149.66L227.39 151.65L227.62 153.64L227.86 155.66L228.09 157.67L228.32 159.67L228.55 161.63L228.79 163.54L229.02 165.41L229.25 167.22L229.49 168.97L229.72 170.65L229.95 172.28L230.18 173.86L230.42 175.41L230.65 176.92L230.88 178.4L231.12 179.85L231.35 181.27L231.58 182.66L231.81 184.02L232.05 185.38L232.28 186.79L232.51 188.2L232.75 189.53L232.98 190.75L233.21 191.81L233.44 192.71L233.68 193.53L233.91 194.28L234.14 194.99L234.38 195.64L234.61 196.26L234.84 196.85L235.07 197.42L235.31 197.97L235.54 198.51L235.77 199.04L236.01 199.57L236.24 200.1L236.47 200.64L236.7 201.17L236.94 201.7L237.17 202.21L237.4 202.71L237.64 203.21L237.87 203.69L238.1 204.17L238.33 204.64L238.57 205.1L238.8 205.55L239.03 205.99L239.27 206.42L239.5 206.85L239.73 207.26L239.96 207.67L240.2 208.07L240.43 208.47L240.66 208.85L240.9 209.23L241.13 209.6L241.36 209.97L241.59 210.33L241.83 210.68L242.06 211.03L242.29 211.37L242.53 211.7L242.76 212.03L242.99 212.36L243.22 212.68L243.46 213L243.69 213.31L243.92 213.62L244.16 213.93L244.39 214.23L244.62 214.53L244.85 214.82L245.09 215.11L245.32 215.4L245.55 215.69L245.79 215.97L246.02 216.25L246.25 216.53L246.48 216.8L246.72 217.06L246.95 217.32L247.18 217.57L247.42 217.81L247.65 218.06L247.88 218.3L248.11 218.53L248.35 218.76L248.58 218.99L248.81 219.22L249.05 219.44L249.28 219.66L249.51 219.88L249.74 220.1L249.98 220.31L250.21 220.53L250.44 220.74L250.68 220.95L250.91 221.16L251.14 221.37L251.37 221.58L251.61 221.79L251.84 222L252.07 222.21L252.31 222.42L252.54 222.63L252.77 222.84L253 223.05L253.24 223.26L253.47 223.47L253.7 223.68L253.94 223.89L254.17 224.11L254.4 224.32L254.63 224.54L254.87 224.76L255.1 224.97L255.33 225.19L255.57 225.41L255.8 225.63L256.03 225.86L256.26 226.08L256.5 226.31L256.73 226.54L256.96 226.77L257.2 227L257.43 227.23L257.66 227.48L257.89 227.73L258.13 228L258.36 228.28L258.59 228.57L258.83 228.86L259.06 229.16L259.29 229.46L259.52 229.77L259.76 230.07L259.99 230.38L260.22 230.69L260.46 230.99L260.69 231.3L260.92 231.59L261.15 231.89L261.39 232.17L261.62 232.46L261.85 232.73L262.09 232.99L262.32 233.25L262.55 233.49L262.78 233.73L263.02 233.95L263.25 234.16L263.48 234.35L263.72 234.54L263.95 234.71L264.18 234.87L264.41 235.03L264.65 235.19L264.88 235.35L265.11 235.5L265.35 235.64L265.58 235.79L265.81 235.93L266.04 236.06L266.28 236.2L266.51 236.33L266.74 236.45L266.98 236.58L267.21 236.7L267.44 236.82L267.67 236.94L267.91 237.05L268.14 237.17L268.37 237.28L268.61 237.39L268.84 237.49L269.07 237.6L269.3 237.7L269.54 237.8L269.77 237.9L270 238L270.24 238.09L270.47 238.19L270.7 238.28L270.93 238.37L271.17 238.47L271.4 238.55L271.63 238.64L271.87 238.73L272.1 238.82L272.33 238.9L272.56 238.99L272.8 239.07L273.03 239.16L273.26 239.25L273.5 239.34L273.73 239.43L273.96 239.52L274.19 239.61L274.43 239.71L274.66 239.8L274.89 239.89L275.13 239.98L275.36 240.07L275.59 240.15L275.82 240.24L276.06 240.32L276.29 240.4L276.52 240.48L276.76 240.55L276.99 240.62L277.22 240.69L277.45 240.75L277.69 240.81L277.92 240.86L278.15 240.91L278.39 240.95L278.62 240.99L278.85 241.02L279.08 241.05L279.32 241.07L279.55 241.09L279.78 241.1L280.02 241.1L280.25 241.1L280.48 241.09L280.71 241.08L280.95 241.07L281.18 241.05L281.41 241.03L281.65 241.01L281.88 240.99L282.11 240.96L282.34 240.93L282.58 240.89L282.81 240.86L283.04 240.82L283.28 240.78L283.51 240.74L283.74 240.7L283.97 240.65L284.21 240.61L284.44 240.56L284.67 240.51L284.91 240.46L285.14 240.41L285.37 240.36L285.6 240.31L285.84 240.26L286.07 240.21L286.3 240.15L286.54 240.1L286.77 240.05L287 239.99L287.23 239.94L287.47 239.88L287.7 239.83L287.93 239.77L288.17 239.7L288.4 239.63L288.63 239.56L288.86 239.49L289.1 239.41L289.33 239.33L289.56 239.24L289.8 239.16L290.03 239.07L290.26 238.97L290.49 238.88L290.73 238.78L290.96 238.68L291.19 238.58L291.43 238.47L291.66 238.36L291.89 238.25L292.12 238.14L292.36 238.02L292.59 237.91L292.82 237.79L293.06 237.67L293.29 237.55L293.52 237.42L293.75 237.3L293.99 237.17L294.22 237.04L294.45 236.91L294.69 236.78L294.92 236.65L295.15 236.52L295.38 236.38L295.62 236.24L295.85 236.11L296.08 235.97L296.32 235.83L296.55 235.67L296.78 235.5L297.01 235.31L297.25 235.11L297.48 234.9L297.71 234.68L297.95 234.45L298.18 234.22L298.41 233.98L298.64 233.73L298.88 233.48L299.11 233.23L299.34 232.98L299.58 232.73L299.81 232.48L300.04 232.24L300.27 232L300.51 231.76L300.74 231.54L300.97 231.32L301.21 231.11L301.44 230.91L301.67 230.72L301.9 230.54L302.14 230.37L302.37 230.23L302.6 230.09L302.84 229.97L303.07 229.87L303.3 229.78L303.53 229.69L303.77 229.61L304 229.54L304.23 229.47L304.47 229.4L304.7 229.33L304.93 229.27L305.16 229.21L305.4 229.16L305.63 229.1L305.86 229.04L306.1 228.99L306.33 228.93L306.56 228.88L306.79 228.82L307.03 228.77L307.26 228.71L307.49 228.64L307.73 228.58L307.96 228.51L308.19 228.44L308.42 228.37L308.66 228.29L308.89 228.22L309.12 228.14L309.36 228.05L309.59 227.97L309.82 227.89L310.05 227.8L310.29 227.72L310.52 227.63L310.75 227.55L310.99 227.46L311.22 227.38L311.45 227.29L311.68 227.21L311.92 227.13L312.15 227.05L312.38 226.97L312.62 226.89L312.85 226.81L313.08 226.74L313.31 226.66L313.55 226.59L313.78 226.53L314.01 226.46L314.25 226.4L314.48 226.34L314.71 226.28L314.94 226.23L315.18 226.18L315.41 226.14L315.64 226.09L315.88 226.05L316.11 226.01L316.34 225.97L316.57 225.93L316.81 225.89L317.04 225.86L317.27 225.82L317.51 225.79L317.74 225.76L317.97 225.72L318.2 225.69L318.44 225.66L318.67 225.63L318.9 225.6L319.14 225.57L319.37 225.54L319.6 225.51L319.83 225.48L320.07 225.46L320.3 225.43L320.53 225.4L320.77 225.37L321 225.34L321.23 225.31L321.46 225.28L321.7 225.25L321.93 225.22L322.16 225.19L322.4 225.16L322.63 225.12L322.86 225.09L323.09 225.06L323.33 225.02L323.56 224.99L323.79 224.95L324.03 224.91L324.26 224.87L324.49 224.84L324.72 224.8L324.96 224.76L325.19 224.72L325.42 224.68L325.66 224.64L325.89 224.61L326.12 224.57L326.35 224.53L326.59 224.49L326.82 224.45L327.05 224.41L327.29 224.37L327.52 224.33L327.75 224.29L327.98 224.25L328.22 224.21L328.45 224.16L328.68 224.12L328.92 224.08L329.15 224.03L329.38 223.99L329.61 223.94L329.85 223.89L330.08 223.84L330.31 223.79L330.55 223.74L330.78 223.69L331.01 223.64L331.24 223.58L331.48 223.53L331.71 223.47L331.94 223.41L332.18 223.35L332.41 223.29L332.64 223.23L332.87 223.16L333.11 223.1L333.34 223.03L333.57 222.95L333.81 222.86L334.04 222.77L334.27 222.67L334.5 222.56L334.74 222.45L334.97 222.34L335.2 222.22L335.44 222.1L335.67 221.98L335.9 221.85L336.13 221.72L336.37 221.59L336.6 221.47L336.83 221.34L337.07 221.21L337.3 221.09L337.53 220.96L337.76 220.84L338 220.72L338.23 220.61L338.46 220.5L338.7 220.39L338.93 220.29L339.16 220.19L339.39 220.1L339.63 220.01L339.86 219.92L340.09 219.83L340.33 219.73L340.56 219.63L340.79 219.53L341.02 219.43L341.26 219.34L341.49 219.25L341.72 219.16L341.96 219.08L342.19 219L342.42 218.93L342.65 218.87L342.89 218.81L343.12 218.77L343.35 218.73L343.59 218.71L343.82 218.7L344.05 218.71L344.28 218.76L344.52 218.84L344.75 218.96L344.98 219.11L345.22 219.29L345.45 219.49L345.68 219.7L345.91 219.93L346.15 220.16L346.38 220.41L346.61 220.65L346.85 220.9L347.08 221.13L347.31 221.36L347.54 221.58L347.78 221.78L348.01 221.95L348.24 222.11L348.48 222.24L348.71 222.36L348.94 222.49L349.17 222.61L349.41 222.73L349.64 222.85L349.87 222.97L350.11 223.08L350.34 223.19L350.57 223.29L350.8 223.39L351.04 223.49L351.27 223.58L351.5 223.66L351.74 223.74L351.97 223.81L352.2 223.87L352.43 223.92L352.67 223.97L352.9 224L353.13 224.03L353.37 224.05L353.6 224.08L353.83 224.1L354.06 224.11L354.3 224.13L354.53 224.15L354.76 224.16L355 224.17L355.23 224.18L355.46 224.19L355.69 224.2L355.93 224.22L356.16 224.23L356.39 224.24L356.63 224.25L356.86 224.27L357.09 224.28L357.32 224.3L357.56 224.32L357.79 224.34L358.02 224.37L358.26 224.39L358.49 224.43L358.72 224.48L358.95 224.55L359.19 224.64L359.42 224.73L359.65 224.84L359.89 224.96L360.12 225.08L360.35 225.21L360.58 225.35L360.82 225.48L361.05 225.62L361.28 225.75L361.52 225.89L361.75 226.02L361.98 226.14L362.21 226.25L362.45 226.36L362.68 226.46L362.91 226.54L363.15 226.61L363.38 226.66L363.61 226.7L363.84 226.73L364.08 226.76L364.31 226.79L364.54 226.81L364.78 226.84L365.01 226.87L365.24 226.89L365.47 226.91L365.71 226.94L365.94 226.96L366.17 226.98L366.41 226.99L366.64 227.01L366.87 227.03L367.1 227.04L367.34 227.06L367.57 227.07L367.8 227.08L368.04 227.08L368.27 227.09L368.5 227.1L368.73 227.1L368.97 227.1L369.2 227.09L369.43 227.06L369.67 227.02L369.9 226.95L370.13 226.87L370.36 226.77L370.6 226.66L370.83 226.54L371.06 226.41L371.3 226.26L371.53 226.11L371.76 225.95L371.99 225.79L372.23 225.62L372.46 225.44L372.69 225.26L372.93 225.09L373.16 224.91L373.39 224.73L373.62 224.55L373.86 224.38L374.09 224.21L374.32 224.05L374.56 223.89L374.79 223.73L375.02 223.57L375.25 223.4L375.49 223.23L375.72 223.05L375.95 222.87L376.19 222.69L376.42 222.51L376.65 222.32L376.88 222.13L377.12 221.94L377.35 221.74L377.58 221.55L377.82 221.35L378.05 221.15L378.28 220.95L378.51 220.74L378.75 220.54L378.98 220.33L379.21 220.13L379.45 219.92L379.68 219.71L379.91 219.5L380.14 219.29L380.38 219.07L380.61 218.85L380.84 218.63L381.08 218.41L381.31 218.19L381.54 217.96L381.77 217.73L382.01 217.49L382.24 217.26L382.47 217.02L382.71 216.78L382.94 216.54L383.17 216.3L383.4 216.06L383.64 215.81L383.87 215.56L384.1 215.31L384.34 215.1L384.57 215.1L384.8 215.1L385.03 215.1L385.27 215.1L385.5 215.1" stroke="#000000" stroke-dasharray="0.75 1.15"/>
<g stroke="#0000ff" stroke-width="0.9">
<path d="M61.08 214.27L59.43 216.22L61.08 218.17L62.74 216.22Z"/>
<path d="M63.65 216.17L61.99 218.12L63.65 220.07L65.31 218.12Z"/>
<path d="M66.22 217.02L64.56 218.97L66.22 220.92L67.87 218.97Z"/>
<path d="M68.78 219.5L67.13 221.45L68.78 223.4L70.44 221.45Z"/>
<path d="M71.35 219.49L69.69 221.44L71.35 223.39L73.01 221.44Z"/>
<path d="M73.92 220.25L72.26 222.2L73.92 224.15L75.58 222.2Z"/>
<path d="M76.49 220.43L74.83 222.38L76.49 224.33L78.14 222.38Z"/>
<path d="M79.05 220.74L77.39 222.69L79.05 224.64L80.71 222.69Z"/>
<path d="M81.62 219.52L79.96 221.47L81.62 223.42L83.28 221.47Z"/>
<path d="M84.19 219.91L82.53 221.86L84.19 223.81L85.84 221.86Z"/>
<path d="M86.75 218.45L85.1 220.4L86.75 222.35L88.41 220.4Z"/>
<path d="M89.32 217.76L87.66 219.71L89.32 221.66L90.98 219.71Z"/>
<path d="M91.89 216.98L90.23 218.93L91.89 220.88L93.54 218.93Z"/>
<path d="M94.45 215.23L92.8 217.18L94.45 219.13L96.11 217.18Z"/>
<path d="M97.02 215L95.36 216.95L97.02 218.9L98.68 216.95Z"/>
<path d="M99.59 213.13L97.93 215.08L99.59 217.03L101.24 215.08Z"/>
<path d="M102.15 211.69L100.5 213.64L102.15 215.59L103.81 213.64Z"/>
<path d="M104.72 213.03L103.06 214.98L104.72 216.93L106.38 214.98Z"/>
<path d="M107.29 212.14L105.63 214.09L107.29 216.04L108.95 214.09Z"/>
<path d="M109.86 213.02L108.2 214.97L109.86 216.92L111.51 214.97Z"/>
<path d="M112.42 213.95L110.76 215.9L112.42 217.85L114.08 215.9Z"/>
<path d="M114.99 214.36L113.33 216.31L114.99 218.26L116.65 216.31Z"/>
<path d="M117.56 214.63L115.9 216.58L117.56 218.53L119.21 216.58Z"/>
<path d="M120.12 215.5L118.47 217.45L120.12 219.4L121.78 217.45Z"/>
<path d="M122.69 216.06L121.03 218.01L122.69 219.96L124.35 218.01Z"/>
<path d="M125.26 216.97L123.6 218.92L125.26 220.87L126.91 218.92Z"/>
<path d="M127.82 216.32L126.17 218.27L127.82 220.22L129.48 218.27Z"/>
<path d="M130.39 217.78L128.73 219.73L130.39 221.68L132.05 219.73Z"/>
<path d="M132.96 217.9L131.3 219.85L132.96 221.8L134.61 219.85Z"/>
<path d="M135.52 218.66L133.87 220.61L135.52 222.56L137.18 220.61Z"/>
<path d="M138.09 220.23L136.43 222.18L138.09 224.13L139.75 222.18Z"/>
<path d="M140.66 220.61L139 222.56L140.66 224.51L142.32 222.56Z"/>
<path d="M143.23 222.22L141.57 224.17L143.23 226.12L144.88 224.17Z"/>
<path d="M145.79 224.52L144.13 226.47L145.79 228.42L147.45 226.47Z"/>
<path d="M148.36 226.66L146.7 228.61L148.36 230.56L150.02 228.61Z"/>
<path d="M150.93 227.24L149.27 229.19L150.93 231.14L152.58 229.19Z"/>
<path d="M153.49 228.88L151.84 230.83L153.49 232.78L155.15 230.83Z"/>
<path d="M156.06 229.82L154.4 231.77L156.06 233.72L157.72 231.77Z"/>
<path d="M158.63 230.53L156.97 232.48L158.63 234.43L160.28 232.48Z"/>
<path d="M161.19 231.37L159.54 233.32L161.19 235.27L162.85 233.32Z"/>
<path d="M163.76 231.29L162.1 233.24L163.76 235.19L165.42 233.24Z"/>
<path d="M166.33 231.45L164.67 233.4L166.33 235.35L167.99 233.4Z"/>
<path d="M168.89 230.8L167.24 232.75L168.89 234.7L170.55 232.75Z"/>
<path d="M171.46 230.72L169.8 232.67L171.46 234.62L173.12 232.67Z"/>
<path d="M174.03 229.25L172.37 231.2L174.03 233.15L175.69 231.2Z"/>
<path d="M176.6 228.2L174.94 230.15L176.6 232.1L178.25 230.15Z"/>
<path d="M179.16 226.63L177.5 228.58L179.16 230.53L180.82 228.58Z"/>
<path d="M181.73 223.55L180.07 225.5L181.73 227.45L183.39 225.5Z"/>
<path d="M184.3 222.02L182.64 223.97L184.3 225.92L185.95 223.97Z"/>
<path d="M186.86 220.36L185.21 222.31L186.86 224.26L188.52 222.31Z"/>
<path d="M189.43 217.55L187.77 219.5L189.43 221.45L191.09 219.5Z"/>
<path d="M192 213.66L190.34 215.61L192 217.56L193.65 215.61Z"/>
<path d="M194.56 211.41L192.91 213.36L194.56 215.31L196.22 213.36Z"/>
<path d="M197.13 209.83L195.47 211.78L197.13 213.73L198.79 211.78Z"/>
<path d="M199.7 206.66L198.04 208.61L199.7 210.56L201.36 208.61Z"/>
<path d="M202.26 203.86L200.61 205.81L202.26 207.76L203.92 205.81Z"/>
<path d="M204.83 199.81L203.17 201.76L204.83 203.71L206.49 201.76Z"/>
<path d="M207.4 196.08L205.74 198.03L207.4 199.98L209.06 198.03Z"/>
<path d="M209.97 190.8L208.31 192.75L209.97 194.7L211.62 192.75Z"/>
<path d="M212.53 185.63L210.87 187.58L212.53 189.53L214.19 187.58Z"/>
<path d="M215.1 180.61L213.44 182.56L215.1 184.51L216.76 182.56Z"/>
<path d="M217.67 176.23L216.01 178.18L217.67 180.13L219.32 178.18Z"/>
<path d="M220.23 171.69L218.58 173.64L220.23 175.59L221.89 173.64Z"/>
<path d="M222.8 168.05L221.14 170L222.8 171.95L224.46 170Z"/>
<path d="M225.37 171.69L223.71 173.64L225.37 175.59L227.02 173.64Z"/>
<path d="M227.93 176.23L226.28 178.18L227.93 180.13L229.59 178.18Z"/>
<path d="M230.5 180.61L228.84 182.56L230.5 184.51L232.16 182.56Z"/>
<path d="M233.07 184.29L231.41 186.24L233.07 188.19L234.73 186.24Z"/>
<path d="M235.63 190.68L233.98 192.63L235.63 194.58L237.29 192.63Z"/>
<path d="M238.2 196.06L236.54 198.01L238.2 199.96L239.86 198.01Z"/>
<path d="M240.77 199.94L239.11 201.89L240.77 203.84L242.43 201.89Z"/>
<path d="M243.34 205.01L241.68 206.96L243.34 208.91L244.99 206.96Z"/>
<path d="M245.9 208.28L244.24 210.23L245.9 212.18L247.56 210.23Z"/>
<path d="M248.47 209.43L246.81 211.38L248.47 213.33L250.13 211.38Z"/>
<path d="M251.04 212.91L249.38 214.86L251.04 216.81L252.69 214.86Z"/>
<path d="M253.6 214.13L251.95 216.08L253.6 218.03L255.26 216.08Z"/>
<path d="M256.17 216.92L254.51 218.87L256.17 220.82L257.83 218.87Z"/>
<path d="M258.74 220.44L257.08 222.39L258.74 224.34L260.39 222.39Z"/>
<path d="M261.3 222.51L259.65 224.46L261.3 226.41L262.96 224.46Z"/>
<path d="M263.87 223.37L262.21 225.32L263.87 227.27L265.53 225.32Z"/>
<path d="M266.44 225.71L264.78 227.66L266.44 229.61L268.1 227.66Z"/>
<path d="M269 227.55L267.35 229.5L269 231.45L270.66 229.5Z"/>
<path d="M271.57 228.61L269.91 230.56L271.57 232.51L273.23 230.56Z"/>
<path d="M274.14 229.38L272.48 231.33L274.14 233.28L275.8 231.33Z"/>
<path d="M276.71 230.52L275.05 232.47L276.71 234.42L278.36 232.47Z"/>
<path d="M279.27 231.79L277.61 233.74L279.27 235.69L280.93 233.74Z"/>
<path d="M281.84 230.51L280.18 232.46L281.84 234.41L283.5 232.46Z"/>
<path d="M284.41 231.12L282.75 233.07L284.41 235.02L286.06 233.07Z"/>
<path d="M286.97 230.4L285.32 232.35L286.97 234.3L288.63 232.35Z"/>
<path d="M289.54 228.94L287.88 230.89L289.54 232.84L291.2 230.89Z"/>
<path d="M292.11 228.38L290.45 230.33L292.11 232.28L293.76 230.33Z"/>
<path d="M294.67 227.56L293.02 229.51L294.67 231.46L296.33 229.51Z"/>
<path d="M297.24 225.94L295.58 227.89L297.24 229.84L298.9 227.89Z"/>
<path d="M299.81 223.27L298.15 225.22L299.81 227.17L301.47 225.22Z"/>
<path d="M302.37 222.98L300.72 224.93L302.37 226.88L304.03 224.93Z"/>
<path d="M304.94 221.12L303.28 223.07L304.94 225.02L306.6 223.07Z"/>
<path d="M307.51 220.58L305.85 222.53L307.51 224.48L309.17 222.53Z"/>
<path d="M310.08 218.35L308.42 220.3L310.08 222.25L311.73 220.3Z"/>
<path d="M312.64 217.93L310.99 219.88L312.64 221.83L314.3 219.88Z"/>
<path d="M315.21 216.84L313.55 218.79L315.21 220.74L316.87 218.79Z"/>
<path d="M317.78 217.54L316.12 219.49L317.78 221.44L319.43 219.49Z"/>
<path d="M320.34 216.05L318.69 218L320.34 219.95L322 218Z"/>
<path d="M322.91 215.29L321.25 217.24L322.91 219.19L324.57 217.24Z"/>
<path d="M325.48 215.33L323.82 217.28L325.48 219.23L327.13 217.28Z"/>
<path d="M328.04 215.68L326.39 217.63L328.04 219.58L329.7 217.63Z"/>
<path d="M330.61 214.83L328.95 216.78L330.61 218.73L332.27 216.78Z"/>
<path d="M333.18 213.11L331.52 215.06L333.18 217.01L334.84 215.06Z"/>
<path d="M335.74 212.44L334.09 214.39L335.74 216.34L337.4 214.39Z"/>
<path d="M338.31 213.48L336.65 215.43L338.31 217.38L339.97 215.43Z"/>
<path d="M340.88 212.62L339.22 214.57L340.88 216.52L342.54 214.57Z"/>
<path d="M343.45 212.95L341.79 214.9L343.45 216.85L345.1 214.9Z"/>
<path d="M346.01 212.96L344.36 214.91L346.01 216.86L347.67 214.91Z"/>
<path d="M348.58 214.31L346.92 216.26L348.58 218.21L350.24 216.26Z"/>
<path d="M351.15 216.44L349.49 218.39L351.15 220.34L352.8 218.39Z"/>
<path d="M353.71 216.8L352.06 218.75L353.71 220.7L355.37 218.75Z"/>
<path d="M356.28 216.93L354.62 218.88L356.28 220.83L357.94 218.88Z"/>
<path d="M358.85 219.24L357.19 221.19L358.85 223.14L360.5 221.19Z"/>
<path d="M361.41 219.4L359.76 221.35L361.41 223.3L363.07 221.35Z"/>
<path d="M363.98 220.2L362.32 222.15L363.98 224.1L365.64 222.15Z"/>
<path d="M366.55 219.27L364.89 221.22L366.55 223.17L368.21 221.22Z"/>
<path d="M369.11 220.92L367.46 222.87L369.11 224.82L370.77 222.87Z"/>
<path d="M371.68 219.55L370.02 221.5L371.68 223.45L373.34 221.5Z"/>
<path d="M374.25 220.41L372.59 222.36L374.25 224.31L375.91 222.36Z"/>
<path d="M376.82 218.67L375.16 220.62L376.82 222.57L378.47 220.62Z"/>
<path d="M379.38 217.39L377.73 219.34L379.38 221.29L381.04 219.34Z"/>
<path d="M381.95 216.42L380.29 218.37L381.95 220.32L383.61 218.37Z"/>
<path d="M384.52 215.47L382.86 217.42L384.52 219.37L386.17 217.42Z"/>
</g>
<path d="M59.5 217.63L59.73 217.78L59.97 217.92L60.2 218.06L60.43 218.2L60.66 218.34L60.9 218.47L61.13 218.6L61.36 218.74L61.6 218.86L61.83 218.99L62.06 219.11L62.29 219.23L62.53 219.35L62.76 219.46L62.99 219.58L63.23 219.68L63.46 219.79L63.69 219.89L63.92 219.99L64.16 220.08L64.39 220.18L64.62 220.27L64.86 220.36L65.09 220.46L65.32 220.56L65.55 220.65L65.79 220.75L66.02 220.85L66.25 220.94L66.49 221.04L66.72 221.13L66.95 221.23L67.18 221.32L67.42 221.41L67.65 221.49L67.88 221.58L68.12 221.66L68.35 221.74L68.58 221.81L68.81 221.88L69.05 221.95L69.28 222.01L69.51 222.07L69.75 222.12L69.98 222.16L70.21 222.2L70.44 222.24L70.68 222.26L70.91 222.28L71.14 222.3L71.38 222.3L71.61 222.3L71.84 222.3L72.07 222.29L72.31 222.28L72.54 222.27L72.77 222.26L73.01 222.25L73.24 222.24L73.47 222.22L73.7 222.2L73.94 222.18L74.17 222.16L74.4 222.14L74.64 222.12L74.87 222.09L75.1 222.07L75.33 222.04L75.57 222.01L75.8 221.99L76.03 221.96L76.27 221.93L76.5 221.89L76.73 221.86L76.96 221.83L77.2 221.8L77.43 221.77L77.66 221.73L77.9 221.7L78.13 221.67L78.36 221.63L78.59 221.6L78.83 221.57L79.06 221.53L79.29 221.49L79.53 221.45L79.76 221.4L79.99 221.36L80.22 221.31L80.46 221.25L80.69 221.2L80.92 221.15L81.16 221.09L81.39 221.03L81.62 220.97L81.85 220.91L82.09 220.85L82.32 220.78L82.55 220.72L82.79 220.65L83.02 220.58L83.25 220.52L83.48 220.45L83.72 220.38L83.95 220.31L84.18 220.24L84.42 220.17L84.65 220.1L84.88 220.04L85.11 219.97L85.35 219.9L85.58 219.83L85.81 219.77L86.05 219.7L86.28 219.64L86.51 219.57L86.74 219.5L86.98 219.43L87.21 219.36L87.44 219.29L87.68 219.23L87.91 219.16L88.14 219.08L88.37 219.01L88.61 218.94L88.84 218.87L89.07 218.8L89.31 218.72L89.54 218.65L89.77 218.58L90 218.5L90.24 218.42L90.47 218.35L90.7 218.27L90.94 218.19L91.17 218.11L91.4 218.03L91.63 217.95L91.87 217.87L92.1 217.79L92.33 217.71L92.57 217.62L92.8 217.54L93.03 217.45L93.26 217.36L93.5 217.26L93.73 217.15L93.96 217.04L94.2 216.92L94.43 216.8L94.66 216.68L94.89 216.55L95.13 216.42L95.36 216.29L95.59 216.15L95.83 216.02L96.06 215.89L96.29 215.75L96.52 215.63L96.76 215.5L96.99 215.37L97.22 215.25L97.46 215.14L97.69 215.03L97.92 214.92L98.15 214.83L98.39 214.74L98.62 214.66L98.85 214.59L99.09 214.53L99.32 214.48L99.55 214.44L99.78 214.41L100.02 214.4L100.25 214.4L100.48 214.4L100.72 214.41L100.95 214.41L101.18 214.42L101.41 214.43L101.65 214.45L101.88 214.46L102.11 214.47L102.35 214.49L102.58 214.51L102.81 214.53L103.04 214.55L103.28 214.58L103.51 214.6L103.74 214.63L103.98 214.65L104.21 214.68L104.44 214.71L104.67 214.74L104.91 214.77L105.14 214.8L105.37 214.83L105.61 214.86L105.84 214.89L106.07 214.93L106.3 214.96L106.54 214.99L106.77 215.02L107 215.06L107.24 215.09L107.47 215.12L107.7 215.16L107.93 215.2L108.17 215.25L108.4 215.29L108.63 215.34L108.87 215.39L109.1 215.45L109.33 215.5L109.56 215.56L109.8 215.62L110.03 215.68L110.26 215.74L110.5 215.81L110.73 215.87L110.96 215.94L111.19 216.01L111.43 216.07L111.66 216.14L111.89 216.21L112.13 216.27L112.36 216.34L112.59 216.41L112.82 216.47L113.06 216.54L113.29 216.6L113.52 216.66L113.76 216.72L113.99 216.78L114.22 216.84L114.45 216.89L114.69 216.94L114.92 216.99L115.15 217.04L115.39 217.09L115.62 217.14L115.85 217.19L116.08 217.24L116.32 217.28L116.55 217.33L116.78 217.37L117.02 217.42L117.25 217.47L117.48 217.51L117.71 217.56L117.95 217.6L118.18 217.64L118.41 217.69L118.65 217.73L118.88 217.78L119.11 217.82L119.34 217.86L119.58 217.91L119.81 217.95L120.04 218L120.28 218.04L120.51 218.08L120.74 218.13L120.97 218.17L121.21 218.22L121.44 218.27L121.67 218.31L121.91 218.36L122.14 218.41L122.37 218.46L122.6 218.5L122.84 218.55L123.07 218.6L123.3 218.66L123.54 218.71L123.77 218.76L124 218.81L124.23 218.87L124.47 218.92L124.7 218.98L124.93 219.03L125.17 219.09L125.4 219.15L125.63 219.2L125.86 219.26L126.1 219.32L126.33 219.38L126.56 219.43L126.8 219.49L127.03 219.55L127.26 219.61L127.49 219.67L127.73 219.73L127.96 219.79L128.19 219.85L128.43 219.92L128.66 219.98L128.89 220.04L129.12 220.1L129.36 220.16L129.59 220.23L129.82 220.29L130.06 220.35L130.29 220.42L130.52 220.48L130.75 220.54L130.99 220.61L131.22 220.67L131.45 220.74L131.69 220.8L131.92 220.87L132.15 220.93L132.38 221L132.62 221.06L132.85 221.12L133.08 221.18L133.32 221.25L133.55 221.31L133.78 221.37L134.01 221.43L134.25 221.49L134.48 221.55L134.71 221.61L134.95 221.67L135.18 221.74L135.41 221.8L135.64 221.87L135.88 221.94L136.11 222.02L136.34 222.09L136.58 222.17L136.81 222.25L137.04 222.34L137.27 222.43L137.51 222.53L137.74 222.63L137.97 222.74L138.21 222.86L138.44 222.99L138.67 223.12L138.9 223.26L139.14 223.4L139.37 223.55L139.6 223.7L139.84 223.85L140.07 224.02L140.3 224.18L140.53 224.35L140.77 224.52L141 224.69L141.23 224.87L141.47 225.05L141.7 225.23L141.93 225.41L142.16 225.59L142.4 225.77L142.63 225.96L142.86 226.14L143.1 226.32L143.33 226.5L143.56 226.68L143.79 226.85L144.03 227.02L144.26 227.19L144.49 227.36L144.73 227.52L144.96 227.67L145.19 227.82L145.42 227.97L145.66 228.11L145.89 228.24L146.12 228.37L146.36 228.49L146.59 228.62L146.82 228.74L147.05 228.87L147.29 229L147.52 229.12L147.75 229.25L147.99 229.37L148.22 229.5L148.45 229.63L148.68 229.75L148.92 229.87L149.15 230L149.38 230.12L149.62 230.24L149.85 230.36L150.08 230.48L150.31 230.59L150.55 230.71L150.78 230.82L151.01 230.93L151.25 231.04L151.48 231.15L151.71 231.25L151.94 231.35L152.18 231.45L152.41 231.54L152.64 231.64L152.88 231.72L153.11 231.81L153.34 231.89L153.57 231.97L153.81 232.04L154.04 232.11L154.27 232.17L154.51 232.23L154.74 232.29L154.97 232.34L155.2 232.39L155.44 232.44L155.67 232.49L155.9 232.54L156.14 232.59L156.37 232.64L156.6 232.68L156.83 232.73L157.07 232.78L157.3 232.82L157.53 232.87L157.77 232.91L158 232.96L158.23 233L158.46 233.04L158.7 233.08L158.93 233.11L159.16 233.15L159.4 233.18L159.63 233.21L159.86 233.24L160.09 233.27L160.33 233.3L160.56 233.32L160.79 233.34L161.03 233.36L161.26 233.37L161.49 233.38L161.72 233.39L161.96 233.4L162.19 233.4L162.42 233.4L162.66 233.39L162.89 233.37L163.12 233.36L163.35 233.33L163.59 233.3L163.82 233.27L164.05 233.23L164.29 233.18L164.52 233.13L164.75 233.08L164.98 233.02L165.22 232.96L165.45 232.9L165.68 232.83L165.92 232.76L166.15 232.68L166.38 232.61L166.61 232.53L166.85 232.44L167.08 232.36L167.31 232.27L167.55 232.19L167.78 232.1L168.01 232.01L168.24 231.92L168.48 231.83L168.71 231.74L168.94 231.65L169.18 231.56L169.41 231.47L169.64 231.38L169.87 231.3L170.11 231.2L170.34 231.11L170.57 231.01L170.81 230.9L171.04 230.79L171.27 230.68L171.5 230.57L171.74 230.45L171.97 230.33L172.2 230.21L172.44 230.08L172.67 229.95L172.9 229.82L173.13 229.69L173.37 229.55L173.6 229.41L173.83 229.27L174.07 229.12L174.3 228.97L174.53 228.82L174.76 228.67L175 228.51L175.23 228.36L175.46 228.2L175.7 228.04L175.93 227.88L176.16 227.72L176.39 227.55L176.63 227.39L176.86 227.22L177.09 227.05L177.33 226.88L177.56 226.71L177.79 226.54L178.02 226.37L178.26 226.2L178.49 226.03L178.72 225.86L178.96 225.69L179.19 225.51L179.42 225.33L179.65 225.14L179.89 224.96L180.12 224.77L180.35 224.58L180.59 224.38L180.82 224.18L181.05 223.98L181.28 223.78L181.52 223.58L181.75 223.37L181.98 223.16L182.22 222.95L182.45 222.74L182.68 222.53L182.91 222.31L183.15 222.09L183.38 221.87L183.61 221.65L183.85 221.43L184.08 221.21L184.31 220.98L184.54 220.75L184.78 220.53L185.01 220.3L185.24 220.06L185.48 219.82L185.71 219.57L185.94 219.32L186.17 219.06L186.41 218.81L186.64 218.55L186.87 218.29L187.11 218.04L187.34 217.79L187.57 217.54L187.8 217.3L188.04 217.06L188.27 216.84L188.5 216.62L188.74 216.41L188.97 216.19L189.2 215.98L189.43 215.78L189.67 215.57L189.9 215.37L190.13 215.17L190.37 214.97L190.6 214.77L190.83 214.57L191.06 214.38L191.3 214.18L191.53 213.99L191.76 213.79L192 213.6L192.23 213.41L192.46 213.21L192.69 213.02L192.93 212.83L193.16 212.63L193.39 212.43L193.63 212.24L193.86 212.04L194.09 211.83L194.32 211.63L194.56 211.42L194.79 211.21L195.02 210.99L195.26 210.77L195.49 210.54L195.72 210.31L195.95 210.08L196.19 209.83L196.42 209.58L196.65 209.32L196.89 209.06L197.12 208.79L197.35 208.52L197.58 208.25L197.82 207.97L198.05 207.69L198.28 207.4L198.52 207.11L198.75 206.82L198.98 206.51L199.21 206.21L199.45 205.9L199.68 205.58L199.91 205.26L200.15 204.93L200.38 204.6L200.61 204.26L200.84 203.91L201.08 203.56L201.31 203.2L201.54 202.83L201.78 202.46L202.01 202.08L202.24 201.68L202.47 201.27L202.71 200.85L202.94 200.42L203.17 200.04L203.41 199.66L203.64 199.26L203.87 198.87L204.1 198.46L204.34 198.06L204.57 197.64L204.8 197.23L205.04 196.81L205.27 196.39L205.5 195.97L205.73 195.55L205.97 195.13L206.2 194.72L206.43 194.3L206.67 193.88L206.9 193.44L207.13 193L207.36 192.55L207.6 192.09L207.83 191.64L208.06 191.18L208.3 190.72L208.53 190.26L208.76 189.81L208.99 189.36L209.23 188.93L209.46 188.51L209.69 188.11L209.93 187.73L210.16 187.37L210.39 187.04L210.62 186.71L210.86 186.4L211.09 186.1L211.32 185.79L211.56 185.47L211.79 185.14L212.02 184.8L212.25 184.46L212.49 184.12L212.72 183.77L212.95 183.42L213.19 183.06L213.42 182.71L213.65 182.35L213.88 182L214.12 181.65L214.35 181.3L214.58 180.95L214.82 180.6L215.05 180.24L215.28 179.9L215.51 179.55L215.75 179.22L215.98 178.89L216.21 178.57L216.45 178.26L216.68 177.94L216.91 177.61L217.14 177.27L217.38 176.92L217.61 176.55L217.84 176.17L218.08 175.79L218.31 175.41L218.54 175.03L218.77 174.67L219.01 174.3L219.24 173.92L219.47 173.54L219.71 173.21L219.94 172.95L220.17 172.75L220.4 172.58L220.64 172.39L220.87 172.12L221.1 171.71L221.34 171.5L221.57 171.5L221.8 171.5L222.03 171.5L222.27 171.5L222.5 171.5L222.73 171.5L222.97 171.5L223.2 171.5L223.43 171.52L223.66 171.99L223.9 172.4L224.13 172.63L224.36 172.88L224.6 173.21L224.83 173.67L225.06 174.18L225.29 174.68L225.53 175.16L225.76 175.66L225.99 176.18L226.23 176.68L226.46 177.16L226.69 177.62L226.92 178.05L227.16 178.47L227.39 178.9L227.62 179.34L227.86 179.79L228.09 180.25L228.32 180.72L228.55 181.19L228.79 181.66L229.02 182.12L229.25 182.6L229.49 183.07L229.72 183.54L229.95 184.01L230.18 184.47L230.42 184.92L230.65 185.37L230.88 185.8L231.12 186.21L231.35 186.62L231.58 187.05L231.81 187.5L232.05 187.99L232.28 188.52L232.51 189.09L232.75 189.67L232.98 190.28L233.21 190.89L233.44 191.5L233.68 192.11L233.91 192.72L234.14 193.31L234.38 193.89L234.61 194.46L234.84 195.01L235.07 195.57L235.31 196.13L235.54 196.69L235.77 197.25L236.01 197.8L236.24 198.35L236.47 198.89L236.7 199.41L236.94 199.93L237.17 200.44L237.4 200.93L237.64 201.41L237.87 201.87L238.1 202.31L238.33 202.74L238.57 203.16L238.8 203.57L239.03 203.98L239.27 204.37L239.5 204.76L239.73 205.13L239.96 205.5L240.2 205.87L240.43 206.22L240.66 206.57L240.9 206.92L241.13 207.25L241.36 207.58L241.59 207.91L241.83 208.22L242.06 208.54L242.29 208.81L242.53 209.07L242.76 209.34L242.99 209.59L243.22 209.84L243.46 210.09L243.69 210.32L243.92 210.56L244.16 210.78L244.39 211L244.62 211.22L244.85 211.43L245.09 211.64L245.32 211.84L245.55 212.05L245.79 212.25L246.02 212.44L246.25 212.64L246.48 212.84L246.72 213.03L246.95 213.22L247.18 213.42L247.42 213.61L247.65 213.8L247.88 214L248.11 214.19L248.35 214.39L248.58 214.58L248.81 214.78L249.05 214.98L249.28 215.18L249.51 215.38L249.74 215.58L249.98 215.79L250.21 215.99L250.44 216.2L250.68 216.42L250.91 216.63L251.14 216.85L251.37 217.08L251.61 217.31L251.84 217.55L252.07 217.8L252.31 218.05L252.54 218.3L252.77 218.56L253 218.82L253.24 219.07L253.47 219.33L253.7 219.58L253.94 219.83L254.17 220.07L254.4 220.31L254.63 220.54L254.87 220.77L255.1 220.99L255.33 221.22L255.57 221.44L255.8 221.66L256.03 221.88L256.26 222.1L256.5 222.32L256.73 222.54L256.96 222.75L257.2 222.96L257.43 223.17L257.66 223.38L257.89 223.59L258.13 223.79L258.36 223.99L258.59 224.19L258.83 224.39L259.06 224.59L259.29 224.78L259.52 224.97L259.76 225.15L259.99 225.34L260.22 225.52L260.46 225.69L260.69 225.87L260.92 226.04L261.15 226.21L261.39 226.38L261.62 226.55L261.85 226.72L262.09 226.89L262.32 227.06L262.55 227.23L262.78 227.39L263.02 227.56L263.25 227.72L263.48 227.89L263.72 228.05L263.95 228.21L264.18 228.37L264.41 228.52L264.65 228.68L264.88 228.83L265.11 228.98L265.35 229.13L265.58 229.27L265.81 229.42L266.04 229.56L266.28 229.69L266.51 229.83L266.74 229.96L266.98 230.09L267.21 230.22L267.44 230.34L267.67 230.46L267.91 230.58L268.14 230.69L268.37 230.8L268.61 230.91L268.84 231.01L269.07 231.11L269.3 231.21L269.54 231.3L269.77 231.39L270 231.48L270.24 231.56L270.47 231.65L270.7 231.74L270.93 231.83L271.17 231.92L271.4 232.01L271.63 232.1L271.87 232.19L272.1 232.28L272.33 232.36L272.56 232.45L272.8 232.53L273.03 232.61L273.26 232.69L273.5 232.76L273.73 232.83L273.96 232.9L274.19 232.96L274.43 233.02L274.66 233.08L274.89 233.13L275.13 233.18L275.36 233.23L275.59 233.27L275.82 233.3L276.06 233.33L276.29 233.36L276.52 233.38L276.76 233.39L276.99 233.4L277.22 233.4L277.45 233.4L277.69 233.39L277.92 233.38L278.15 233.37L278.39 233.36L278.62 233.34L278.85 233.32L279.08 233.3L279.32 233.27L279.55 233.24L279.78 233.21L280.02 233.18L280.25 233.15L280.48 233.11L280.71 233.07L280.95 233.04L281.18 233L281.41 232.95L281.65 232.91L281.88 232.87L282.11 232.82L282.34 232.78L282.58 232.73L282.81 232.68L283.04 232.63L283.28 232.58L283.51 232.53L283.74 232.49L283.97 232.44L284.21 232.38L284.44 232.33L284.67 232.28L284.91 232.23L285.14 232.17L285.37 232.11L285.6 232.04L285.84 231.96L286.07 231.89L286.3 231.81L286.54 231.72L286.77 231.63L287 231.54L287.23 231.44L287.47 231.35L287.7 231.24L287.93 231.14L288.17 231.03L288.4 230.93L288.63 230.82L288.86 230.7L289.1 230.59L289.33 230.47L289.56 230.35L289.8 230.23L290.03 230.11L290.26 229.99L290.49 229.87L290.73 229.74L290.96 229.62L291.19 229.49L291.43 229.37L291.66 229.24L291.89 229.12L292.12 228.99L292.36 228.86L292.59 228.74L292.82 228.61L293.06 228.49L293.29 228.36L293.52 228.23L293.75 228.1L293.99 227.96L294.22 227.82L294.45 227.67L294.69 227.51L294.92 227.35L295.15 227.18L295.38 227.01L295.62 226.84L295.85 226.67L296.08 226.49L296.32 226.31L296.55 226.13L296.78 225.95L297.01 225.77L297.25 225.58L297.48 225.4L297.71 225.22L297.95 225.04L298.18 224.86L298.41 224.69L298.64 224.51L298.88 224.34L299.11 224.17L299.34 224.01L299.58 223.85L299.81 223.69L300.04 223.54L300.27 223.39L300.51 223.25L300.74 223.11L300.97 222.98L301.21 222.86L301.44 222.74L301.67 222.63L301.9 222.52L302.14 222.42L302.37 222.33L302.6 222.25L302.84 222.17L303.07 222.09L303.3 222.01L303.53 221.94L303.77 221.87L304 221.8L304.23 221.73L304.47 221.67L304.7 221.61L304.93 221.55L305.16 221.48L305.4 221.42L305.63 221.36L305.86 221.3L306.1 221.24L306.33 221.18L306.56 221.12L306.79 221.06L307.03 220.99L307.26 220.93L307.49 220.86L307.73 220.8L307.96 220.73L308.19 220.67L308.42 220.61L308.66 220.54L308.89 220.48L309.12 220.41L309.36 220.35L309.59 220.29L309.82 220.22L310.05 220.16L310.29 220.1L310.52 220.04L310.75 219.97L310.99 219.91L311.22 219.85L311.45 219.79L311.68 219.73L311.92 219.67L312.15 219.61L312.38 219.55L312.62 219.49L312.85 219.43L313.08 219.37L313.31 219.31L313.55 219.26L313.78 219.2L314.01 219.14L314.25 219.09L314.48 219.03L314.71 218.98L314.94 218.92L315.18 218.87L315.41 218.81L315.64 218.76L315.88 218.71L316.11 218.65L316.34 218.6L316.57 218.55L316.81 218.5L317.04 218.45L317.27 218.4L317.51 218.36L317.74 218.31L317.97 218.26L318.2 218.22L318.44 218.17L318.67 218.13L318.9 218.08L319.14 218.04L319.37 217.99L319.6 217.95L319.83 217.91L320.07 217.86L320.3 217.82L320.53 217.77L320.77 217.73L321 217.69L321.23 217.64L321.46 217.6L321.7 217.55L321.93 217.51L322.16 217.46L322.4 217.42L322.63 217.37L322.86 217.33L323.09 217.28L323.33 217.23L323.56 217.19L323.79 217.14L324.03 217.09L324.26 217.04L324.49 216.99L324.72 216.94L324.96 216.89L325.19 216.83L325.42 216.78L325.66 216.72L325.89 216.66L326.12 216.6L326.35 216.53L326.59 216.47L326.82 216.4L327.05 216.34L327.29 216.27L327.52 216.2L327.75 216.14L327.98 216.07L328.22 216L328.45 215.94L328.68 215.87L328.92 215.8L329.15 215.74L329.38 215.68L329.61 215.62L329.85 215.56L330.08 215.5L330.31 215.44L330.55 215.39L330.78 215.34L331.01 215.29L331.24 215.24L331.48 215.2L331.71 215.16L331.94 215.12L332.18 215.09L332.41 215.06L332.64 215.02L332.87 214.99L333.11 214.96L333.34 214.92L333.57 214.89L333.81 214.86L334.04 214.83L334.27 214.8L334.5 214.77L334.74 214.74L334.97 214.71L335.2 214.68L335.44 214.65L335.67 214.62L335.9 214.6L336.13 214.57L336.37 214.55L336.6 214.53L336.83 214.51L337.07 214.49L337.3 214.47L337.53 214.46L337.76 214.44L338 214.43L338.23 214.42L338.46 214.41L338.7 214.41L338.93 214.4L339.16 214.4L339.39 214.4L339.63 214.41L339.86 214.44L340.09 214.48L340.33 214.53L340.56 214.59L340.79 214.66L341.02 214.74L341.26 214.83L341.49 214.93L341.72 215.03L341.96 215.14L342.19 215.26L342.42 215.38L342.65 215.5L342.89 215.63L343.12 215.76L343.35 215.89L343.59 216.03L343.82 216.16L344.05 216.29L344.28 216.42L344.52 216.55L344.75 216.68L344.98 216.81L345.22 216.93L345.45 217.04L345.68 217.16L345.91 217.26L346.15 217.36L346.38 217.45L346.61 217.54L346.85 217.63L347.08 217.71L347.31 217.79L347.54 217.87L347.78 217.96L348.01 218.04L348.24 218.12L348.48 218.2L348.71 218.27L348.94 218.35L349.17 218.43L349.41 218.5L349.64 218.58L349.87 218.65L350.11 218.73L350.34 218.8L350.57 218.87L350.8 218.95L351.04 219.02L351.27 219.09L351.5 219.16L351.74 219.23L351.97 219.3L352.2 219.37L352.43 219.44L352.67 219.5L352.9 219.57L353.13 219.64L353.37 219.71L353.6 219.77L353.83 219.84L354.06 219.9L354.3 219.97L354.53 220.04L354.76 220.11L355 220.18L355.23 220.25L355.46 220.31L355.69 220.38L355.93 220.45L356.16 220.52L356.39 220.59L356.63 220.65L356.86 220.72L357.09 220.78L357.32 220.85L357.56 220.91L357.79 220.97L358.02 221.03L358.26 221.09L358.49 221.15L358.72 221.2L358.95 221.26L359.19 221.31L359.42 221.36L359.65 221.4L359.89 221.45L360.12 221.49L360.35 221.53L360.58 221.57L360.82 221.6L361.05 221.64L361.28 221.67L361.52 221.7L361.75 221.73L361.98 221.77L362.21 221.8L362.45 221.83L362.68 221.86L362.91 221.9L363.15 221.93L363.38 221.96L363.61 221.99L363.84 222.02L364.08 222.04L364.31 222.07L364.54 222.09L364.78 222.12L365.01 222.14L365.24 222.16L365.47 222.19L365.71 222.2L365.94 222.22L366.17 222.24L366.41 222.25L366.64 222.26L366.87 222.28L367.1 222.28L367.34 222.29L367.57 222.3L367.8 222.3L368.04 222.3L368.27 222.29L368.5 222.28L368.73 222.26L368.97 222.23L369.2 222.2L369.43 222.16L369.67 222.11L369.9 222.06L370.13 222.01L370.36 221.94L370.6 221.88L370.83 221.81L371.06 221.73L371.3 221.66L371.53 221.57L371.76 221.49L371.99 221.4L372.23 221.31L372.46 221.22L372.69 221.13L372.93 221.03L373.16 220.94L373.39 220.84L373.62 220.75L373.86 220.65L374.09 220.55L374.32 220.46L374.56 220.36L374.79 220.26L375.02 220.17L375.25 220.08L375.49 219.98L375.72 219.89L375.95 219.78L376.19 219.68L376.42 219.57L376.65 219.46L376.88 219.34L377.12 219.23L377.35 219.11L377.58 218.98L377.82 218.86L378.05 218.73L378.28 218.6L378.51 218.47L378.75 218.33L378.98 218.19L379.21 218.05L379.45 217.91L379.68 217.77L379.91 217.62L380.14 217.48L380.38 217.33L380.61 217.18L380.84 217.03L381.08 216.88L381.31 216.73L381.54 216.6L381.77 216.6L382.01 216.6L382.24 216.6L382.47 216.6L382.71 216.6L382.94 216.6L383.17 216.6L383.4 216.6L383.64 216.6L383.87 216.6L384.1 216.6L384.34 216.6L384.57 216.6L384.8 216.6L385.03 216.6L385.27 216.6L385.5 216.6" stroke="#0000ff" stroke-dasharray="3.4 1.7"/>
</g>
<g clip-path="url(#cb)" fill="none" stroke-width="1">
<g stroke="#ff0000">
<circle cx="482.38" cy="77.95" r="1.5"/>
<circle cx="508.42" cy="89.61" r="1.5"/>
<circle cx="525.58" cy="97.16" r="1.5"/>
<circle cx="538.4" cy="107.32" r="1.5"/>
<circle cx="548.63" cy="114.55" r="1.5"/>
<circle cx="557.15" cy="120.88" r="1.5"/>
<circle cx="564.45" cy="126.68" r="1.5"/>
<circle cx="570.83" cy="131.62" r="1.5"/>
<circle cx="576.5" cy="137.72" r="1.5"/>
<circle cx="581.6" cy="141.22" r="1.5"/>
<circle cx="586.24" cy="145.75" r="1.5"/>
<circle cx="590.49" cy="149.64" r="1.5"/>
<circle cx="594.42" cy="151.53" r="1.5"/>
<circle cx="598.06" cy="155.41" r="1.5"/>
<circle cx="601.46" cy="157.58" r="1.5"/>
<circle cx="604.65" cy="160.86" r="1.5"/>
<circle cx="607.65" cy="162.84" r="1.5"/>
<circle cx="610.49" cy="165.14" r="1.5"/>
<circle cx="613.17" cy="167.66" r="1.5"/>
<circle cx="615.72" cy="169.88" r="1.5"/>
<circle cx="618.15" cy="172.9" r="1.5"/>
<circle cx="620.47" cy="175.17" r="1.5"/>
<circle cx="622.68" cy="176.69" r="1.5"/>
<circle cx="624.81" cy="178.3" r="1.5"/>
<circle cx="626.85" cy="180.56" r="1.5"/>
<circle cx="628.81" cy="181.84" r="1.5"/>
<circle cx="630.7" cy="183.28" r="1.5"/>
<circle cx="632.52" cy="186.14" r="1.5"/>
<circle cx="634.28" cy="187.42" r="1.5"/>
<circle cx="635.98" cy="190.21" r="1.5"/>
<circle cx="637.62" cy="190.93" r="1.5"/>
<circle cx="639.22" cy="191.56" r="1.5"/>
<circle cx="640.76" cy="193.77" r="1.5"/>
<circle cx="642.26" cy="196.52" r="1.5"/>
<circle cx="643.72" cy="196.3" r="1.5"/>
<circle cx="645.14" cy="196.57" r="1.5"/>
<circle cx="646.52" cy="197.82" r="1.5"/>
<circle cx="647.86" cy="199.5" r="1.5"/>
<circle cx="649.16" cy="200.26" r="1.5"/>
<circle cx="650.44" cy="200.8" r="1.5"/>
<circle cx="651.68" cy="202.46" r="1.5"/>
<circle cx="652.9" cy="202.67" r="1.5"/>
<circle cx="654.08" cy="202.91" r="1.5"/>
<circle cx="655.24" cy="204.07" r="1.5"/>
<circle cx="656.38" cy="205.52" r="1.5"/>
<circle cx="657.48" cy="205.74" r="1.5"/>
<circle cx="658.57" cy="206.45" r="1.5"/>
<circle cx="659.63" cy="205.63" r="1.5"/>
<circle cx="660.67" cy="206.93" r="1.5"/>
<circle cx="661.69" cy="208.17" r="1.5"/>
<circle cx="662.69" cy="208.06" r="1.5"/>
<circle cx="663.67" cy="209.6" r="1.5"/>
<circle cx="664.63" cy="209.85" r="1.5"/>
<circle cx="665.58" cy="210.63" r="1.5"/>
<circle cx="666.51" cy="210.39" r="1.5"/>
<circle cx="667.42" cy="212.85" r="1.5"/>
<circle cx="668.31" cy="212.45" r="1.5"/>
<circle cx="669.19" cy="211.94" r="1.5"/>
<circle cx="670.06" cy="212.65" r="1.5"/>
<circle cx="670.91" cy="214.88" r="1.5"/>
<circle cx="671.74" cy="213.3" r="1.5"/>
<circle cx="672.56" cy="214.61" r="1.5"/>
<circle cx="673.37" cy="215.14" r="1.5"/>
<circle cx="674.17" cy="214.9" r="1.5"/>
<circle cx="674.95" cy="214.51" r="1.5"/>
<circle cx="675.73" cy="215.89" r="1.5"/>
<circle cx="676.49" cy="216.43" r="1.5"/>
<circle cx="677.24" cy="217.38" r="1.5"/>
<circle cx="677.98" cy="217.55" r="1.5"/>
<circle cx="678.71" cy="217.42" r="1.5"/>
<circle cx="679.42" cy="218.4" r="1.5"/>
<circle cx="680.13" cy="218.57" r="1.5"/>
<circle cx="680.83" cy="218.72" r="1.5"/>
<circle cx="681.52" cy="219" r="1.5"/>
<circle cx="682.2" cy="219.16" r="1.5"/>
<circle cx="682.87" cy="220.18" r="1.5"/>
<circle cx="683.53" cy="219.33" r="1.5"/>
<circle cx="684.19" cy="219.98" r="1.5"/>
<circle cx="684.83" cy="220.78" r="1.5"/>
<circle cx="685.47" cy="220.09" r="1.5"/>
<circle cx="686.1" cy="221.16" r="1.5"/>
<circle cx="686.72" cy="220.39" r="1.5"/>
<circle cx="687.34" cy="221.65" r="1.5"/>
<circle cx="687.94" cy="222.86" r="1.5"/>
<circle cx="688.54" cy="223.18" r="1.5"/>
<circle cx="689.14" cy="223.07" r="1.5"/>
<circle cx="689.72" cy="223.26" r="1.5"/>
<circle cx="690.3" cy="222.75" r="1.5"/>
<circle cx="690.87" cy="225.33" r="1.5"/>
<circle cx="691.44" cy="224.72" r="1.5"/>
<circle cx="692" cy="225.42" r="1.5"/>
<circle cx="692.55" cy="224.34" r="1.5"/>
<circle cx="693.1" cy="225.12" r="1.5"/>
<circle cx="693.65" cy="224.27" r="1.5"/>
<circle cx="694.18" cy="226.38" r="1.5"/>
<circle cx="694.71" cy="226.78" r="1.5"/>
<circle cx="695.24" cy="225.08" r="1.5"/>
<circle cx="695.76" cy="226.66" r="1.5"/>
<circle cx="696.27" cy="227.41" r="1.5"/>
<circle cx="696.78" cy="226.01" r="1.5"/>
<circle cx="697.29" cy="226.24" r="1.5"/>
<circle cx="697.79" cy="227.05" r="1.5"/>
<circle cx="698.28" cy="227.62" r="1.5"/>
<circle cx="698.77" cy="227.35" r="1.5"/>
<circle cx="699.26" cy="228.62" r="1.5"/>
<circle cx="699.74" cy="229.03" r="1.5"/>
<circle cx="700.22" cy="229.56" r="1.5"/>
<circle cx="700.69" cy="229.87" r="1.5"/>
<circle cx="701.16" cy="230.69" r="1.5"/>
<circle cx="701.62" cy="230.71" r="1.5"/>
<circle cx="702.08" cy="229.24" r="1.5"/>
<circle cx="702.54" cy="230.06" r="1.5"/>
<circle cx="702.99" cy="229.92" r="1.5"/>
<circle cx="703.43" cy="230.17" r="1.5"/>
<circle cx="703.88" cy="231.11" r="1.5"/>
<circle cx="704.32" cy="231.42" r="1.5"/>
<circle cx="704.75" cy="232.01" r="1.5"/>
<circle cx="705.19" cy="230.8" r="1.5"/>
<circle cx="705.61" cy="231.29" r="1.5"/>
<circle cx="706.04" cy="232.38" r="1.5"/>
<circle cx="706.46" cy="232.5" r="1.5"/>
<circle cx="706.88" cy="232.65" r="1.5"/>
<circle cx="707.29" cy="233.06" r="1.5"/>
<circle cx="707.7" cy="232.8" r="1.5"/>
<circle cx="708.11" cy="234.05" r="1.5"/>
<circle cx="708.52" cy="234.03" r="1.5"/>
<circle cx="708.92" cy="233.95" r="1.5"/>
<circle cx="709.32" cy="233.75" r="1.5"/>
<circle cx="709.71" cy="234.32" r="1.5"/>
<circle cx="710.1" cy="232.75" r="1.5"/>
<circle cx="710.49" cy="234.17" r="1.5"/>
<circle cx="710.88" cy="235.09" r="1.5"/>
<circle cx="711.26" cy="234.21" r="1.5"/>
<circle cx="711.64" cy="235.6" r="1.5"/>
<circle cx="712.02" cy="235.76" r="1.5"/>
<circle cx="712.4" cy="234.88" r="1.5"/>
<circle cx="712.77" cy="235.86" r="1.5"/>
<circle cx="713.14" cy="236" r="1.5"/>
<circle cx="713.51" cy="236.72" r="1.5"/>
<circle cx="713.87" cy="237.02" r="1.5"/>
<circle cx="714.23" cy="236.75" r="1.5"/>
<circle cx="714.59" cy="236.36" r="1.5"/>
<circle cx="714.95" cy="237.04" r="1.5"/>
<circle cx="715.3" cy="237.28" r="1.5"/>
<circle cx="715.65" cy="238.02" r="1.5"/>
<circle cx="716" cy="237.89" r="1.5"/>
<circle cx="716.35" cy="237.36" r="1.5"/>
<circle cx="716.69" cy="237.09" r="1.5"/>
<circle cx="717.04" cy="237.95" r="1.5"/>
<circle cx="717.38" cy="237.85" r="1.5"/>
<circle cx="717.71" cy="237.76" r="1.5"/>
<circle cx="718.05" cy="238.61" r="1.5"/>
<circle cx="718.38" cy="238.49" r="1.5"/>
<circle cx="718.71" cy="239.06" r="1.5"/>
<circle cx="719.04" cy="239.49" r="1.5"/>
<circle cx="719.37" cy="238.96" r="1.5"/>
<circle cx="719.69" cy="241" r="1.5"/>
<circle cx="720.02" cy="239.27" r="1.5"/>
<circle cx="720.34" cy="240.37" r="1.5"/>
<circle cx="720.66" cy="239.79" r="1.5"/>
<circle cx="720.97" cy="240.57" r="1.5"/>
<circle cx="721.29" cy="238.22" r="1.5"/>
<circle cx="721.6" cy="239.44" r="1.5"/>
<circle cx="721.91" cy="240.23" r="1.5"/>
<circle cx="722.22" cy="240.57" r="1.5"/>
<circle cx="722.53" cy="241.87" r="1.5"/>
<circle cx="722.83" cy="240.54" r="1.5"/>
<circle cx="723.14" cy="241.29" r="1.5"/>
<circle cx="723.44" cy="241.02" r="1.5"/>
<circle cx="723.74" cy="241.22" r="1.5"/>
<circle cx="724.04" cy="240.99" r="1.5"/>
<circle cx="724.33" cy="240.6" r="1.5"/>
<circle cx="724.63" cy="241.14" r="1.5"/>
<circle cx="724.92" cy="240.09" r="1.5"/>
<circle cx="725.21" cy="241.74" r="1.5"/>
<circle cx="725.5" cy="240.26" r="1.5"/>
<circle cx="725.79" cy="241.2" r="1.5"/>
<circle cx="726.08" cy="242.56" r="1.5"/>
<circle cx="726.36" cy="240.97" r="1.5"/>
<circle cx="726.64" cy="241.18" r="1.5"/>
<circle cx="726.93" cy="242.02" r="1.5"/>
<circle cx="727.21" cy="241.25" r="1.5"/>
<circle cx="727.49" cy="240.69" r="1.5"/>
<circle cx="727.76" cy="241.46" r="1.5"/>
<circle cx="728.04" cy="241.7" r="1.5"/>
<circle cx="728.31" cy="241.8" r="1.5"/>
<circle cx="728.58" cy="240.76" r="1.5"/>
<circle cx="728.86" cy="242.52" r="1.5"/>
<circle cx="729.13" cy="242.45" r="1.5"/>
<circle cx="729.39" cy="241.27" r="1.5"/>
<circle cx="729.66" cy="241.42" r="1.5"/>
<circle cx="729.93" cy="240.9" r="1.5"/>
<circle cx="730.19" cy="242.16" r="1.5"/>
<circle cx="730.45" cy="240.63" r="1.5"/>
<circle cx="730.72" cy="241.55" r="1.5"/>
<circle cx="730.98" cy="240.69" r="1.5"/>
<circle cx="731.23" cy="240.48" r="1.5"/>
<circle cx="731.49" cy="241.41" r="1.5"/>
<circle cx="731.75" cy="241.78" r="1.5"/>
<circle cx="732" cy="240.78" r="1.5"/>
<circle cx="732.26" cy="240.24" r="1.5"/>
<circle cx="732.51" cy="241.21" r="1.5"/>
<circle cx="732.76" cy="240.53" r="1.5"/>
<circle cx="733.01" cy="240.71" r="1.5"/>
<circle cx="733.26" cy="241.48" r="1.5"/>
<circle cx="733.51" cy="241.13" r="1.5"/>
<circle cx="733.75" cy="239.89" r="1.5"/>
<circle cx="734" cy="241.77" r="1.5"/>
<circle cx="734.24" cy="240.09" r="1.5"/>
<circle cx="734.49" cy="240.56" r="1.5"/>
<circle cx="734.73" cy="239.46" r="1.5"/>
<circle cx="734.97" cy="239.78" r="1.5"/>
<circle cx="735.21" cy="238.46" r="1.5"/>
<circle cx="735.44" cy="240.81" r="1.5"/>
<circle cx="735.68" cy="240.37" r="1.5"/>
<circle cx="735.92" cy="238.4" r="1.5"/>
<circle cx="736.15" cy="238.04" r="1.5"/>
<circle cx="736.39" cy="237.78" r="1.5"/>
<circle cx="736.62" cy="239.56" r="1.5"/>
<circle cx="736.85" cy="238.22" r="1.5"/>
<circle cx="737.08" cy="238.31" r="1.5"/>
<circle cx="737.31" cy="237.93" r="1.5"/>
<circle cx="737.54" cy="237.86" r="1.5"/>
<circle cx="737.77" cy="236.98" r="1.5"/>
<circle cx="738" cy="237.55" r="1.5"/>
<circle cx="738.22" cy="236.31" r="1.5"/>
<circle cx="738.45" cy="237.06" r="1.5"/>
<circle cx="738.67" cy="237.12" r="1.5"/>
<circle cx="738.89" cy="237.02" r="1.5"/>
<circle cx="739.11" cy="236.32" r="1.5"/>
<circle cx="739.33" cy="235.64" r="1.5"/>
<circle cx="739.55" cy="236.15" r="1.5"/>
<circle cx="739.77" cy="235.46" r="1.5"/>
<circle cx="739.99" cy="236.63" r="1.5"/>
<circle cx="740.21" cy="235.81" r="1.5"/>
<circle cx="740.42" cy="234.93" r="1.5"/>
<circle cx="740.64" cy="234.42" r="1.5"/>
<circle cx="740.85" cy="234" r="1.5"/>
<circle cx="741.07" cy="233.59" r="1.5"/>
<circle cx="741.28" cy="233.77" r="1.5"/>
<circle cx="741.49" cy="234.02" r="1.5"/>
<circle cx="741.7" cy="233.97" r="1.5"/>
<circle cx="741.91" cy="233.82" r="1.5"/>
<circle cx="742.12" cy="234.7" r="1.5"/>
<circle cx="742.33" cy="232.55" r="1.5"/>
<circle cx="742.54" cy="232.87" r="1.5"/>
<circle cx="742.74" cy="234.63" r="1.5"/>
<circle cx="742.95" cy="231.19" r="1.5"/>
<circle cx="743.15" cy="231.96" r="1.5"/>
<circle cx="743.36" cy="232.27" r="1.5"/>
<circle cx="743.56" cy="232.09" r="1.5"/>
<circle cx="743.76" cy="232.1" r="1.5"/>
<circle cx="743.96" cy="231.48" r="1.5"/>
<circle cx="744.16" cy="231.74" r="1.5"/>
<circle cx="744.36" cy="231.36" r="1.5"/>
<circle cx="744.56" cy="231.71" r="1.5"/>
<circle cx="744.76" cy="229.69" r="1.5"/>
<circle cx="744.96" cy="230.25" r="1.5"/>
<circle cx="745.16" cy="230.72" r="1.5"/>
<circle cx="745.35" cy="229.86" r="1.5"/>
<circle cx="745.55" cy="229.71" r="1.5"/>
<circle cx="745.74" cy="230.74" r="1.5"/>
<circle cx="745.94" cy="229.71" r="1.5"/>
<circle cx="746.13" cy="230.47" r="1.5"/>
<circle cx="746.32" cy="230.42" r="1.5"/>
<circle cx="746.51" cy="229.98" r="1.5"/>
<circle cx="746.7" cy="230" r="1.5"/>
<circle cx="746.89" cy="229.45" r="1.5"/>
<circle cx="747.08" cy="228.42" r="1.5"/>
<circle cx="747.27" cy="229.26" r="1.5"/>
<circle cx="747.46" cy="229.49" r="1.5"/>
<circle cx="747.65" cy="228.69" r="1.5"/>
<circle cx="747.84" cy="228.88" r="1.5"/>
<circle cx="748.02" cy="229.37" r="1.5"/>
<circle cx="748.21" cy="228.13" r="1.5"/>
<circle cx="748.39" cy="229.09" r="1.5"/>
<circle cx="748.58" cy="229.85" r="1.5"/>
<circle cx="748.76" cy="228.06" r="1.5"/>
<circle cx="748.94" cy="228.46" r="1.5"/>
<circle cx="749.12" cy="228.16" r="1.5"/>
<circle cx="749.31" cy="229.25" r="1.5"/>
<circle cx="749.49" cy="228.31" r="1.5"/>
<circle cx="749.67" cy="228.64" r="1.5"/>
<circle cx="749.85" cy="227.44" r="1.5"/>
<circle cx="750.03" cy="227.84" r="1.5"/>
<circle cx="750.2" cy="227.76" r="1.5"/>
<circle cx="750.38" cy="226.45" r="1.5"/>
<circle cx="750.56" cy="228.62" r="1.5"/>
<circle cx="750.73" cy="228.17" r="1.5"/>
<circle cx="750.91" cy="226.24" r="1.5"/>
<circle cx="751.09" cy="227.92" r="1.5"/>
<circle cx="751.26" cy="227.23" r="1.5"/>
<circle cx="751.43" cy="227.57" r="1.5"/>
<circle cx="751.61" cy="227.44" r="1.5"/>
<circle cx="751.78" cy="226.06" r="1.5"/>
<circle cx="751.95" cy="226.89" r="1.5"/>
<circle cx="752.12" cy="228.02" r="1.5"/>
<circle cx="752.3" cy="226.5" r="1.5"/>
<circle cx="752.47" cy="226.12" r="1.5"/>
<circle cx="752.64" cy="225.81" r="1.5"/>
<circle cx="752.81" cy="225.84" r="1.5"/>
<circle cx="752.97" cy="226.86" r="1.5"/>
<circle cx="753.14" cy="227.74" r="1.5"/>
<circle cx="753.31" cy="226.78" r="1.5"/>
<circle cx="753.48" cy="226.58" r="1.5"/>
<circle cx="753.64" cy="227.9" r="1.5"/>
<circle cx="753.81" cy="225.9" r="1.5"/>
<circle cx="753.98" cy="225.72" r="1.5"/>
<circle cx="754.14" cy="226.49" r="1.5"/>
<circle cx="754.31" cy="226.42" r="1.5"/>
<circle cx="754.47" cy="225.25" r="1.5"/>
<circle cx="754.63" cy="225.06" r="1.5"/>
<circle cx="754.8" cy="226.01" r="1.5"/>
<circle cx="754.96" cy="225.89" r="1.5"/>
<circle cx="755.12" cy="224.72" r="1.5"/>
<circle cx="755.28" cy="225.41" r="1.5"/>
<circle cx="755.44" cy="225.08" r="1.5"/>
<circle cx="755.6" cy="225.69" r="1.5"/>
<circle cx="755.76" cy="225.2" r="1.5"/>
<circle cx="755.92" cy="225.13" r="1.5"/>
<circle cx="756.08" cy="224.85" r="1.5"/>
<circle cx="756.24" cy="225.74" r="1.5"/>
<circle cx="756.4" cy="225.88" r="1.5"/>
<circle cx="756.55" cy="224.56" r="1.5"/>
<circle cx="756.71" cy="225.32" r="1.5"/>
<circle cx="756.87" cy="224.11" r="1.5"/>
<circle cx="757.02" cy="224.6" r="1.5"/>
<circle cx="757.18" cy="224.99" r="1.5"/>
<circle cx="757.33" cy="225.44" r="1.5"/>
<circle cx="757.49" cy="224.02" r="1.5"/>
<circle cx="757.64" cy="224.16" r="1.5"/>
<circle cx="757.8" cy="224.27" r="1.5"/>
<circle cx="757.95" cy="223" r="1.5"/>
<circle cx="758.1" cy="223.99" r="1.5"/>
<circle cx="758.25" cy="223.43" r="1.5"/>
<circle cx="758.41" cy="224.1" r="1.5"/>
<circle cx="758.56" cy="222.98" r="1.5"/>
<circle cx="758.71" cy="222.33" r="1.5"/>
<circle cx="758.86" cy="223.68" r="1.5"/>
<circle cx="759.01" cy="223.78" r="1.5"/>
<circle cx="759.16" cy="223.16" r="1.5"/>
<circle cx="759.31" cy="224.11" r="1.5"/>
<circle cx="759.46" cy="223.24" r="1.5"/>
<circle cx="759.6" cy="222.96" r="1.5"/>
<circle cx="759.75" cy="223.66" r="1.5"/>
<circle cx="759.9" cy="222.17" r="1.5"/>
<circle cx="760.05" cy="222.74" r="1.5"/>
<circle cx="760.19" cy="223.15" r="1.5"/>
<circle cx="760.34" cy="223.7" r="1.5"/>
<circle cx="760.48" cy="222.94" r="1.5"/>
<circle cx="760.63" cy="223.22" r="1.5"/>
<circle cx="760.78" cy="222.5" r="1.5"/>
<circle cx="760.92" cy="223.13" r="1.5"/>
<circle cx="761.06" cy="224.04" r="1.5"/>
<circle cx="761.21" cy="222.35" r="1.5"/>
<circle cx="761.35" cy="224.45" r="1.5"/>
<circle cx="761.49" cy="222.31" r="1.5"/>
<circle cx="761.64" cy="222.74" r="1.5"/>
<circle cx="761.78" cy="222.82" r="1.5"/>
<circle cx="761.92" cy="223.39" r="1.5"/>
<circle cx="762.06" cy="221.78" r="1.5"/>
<circle cx="762.2" cy="221.16" r="1.5"/>
<circle cx="762.34" cy="223.04" r="1.5"/>
<circle cx="762.48" cy="223.16" r="1.5"/>
<circle cx="762.62" cy="223.04" r="1.5"/>
<circle cx="762.76" cy="224.44" r="1.5"/>
<circle cx="762.9" cy="222.76" r="1.5"/>
<circle cx="763.04" cy="222.82" r="1.5"/>
<circle cx="763.18" cy="223.32" r="1.5"/>
<circle cx="763.31" cy="222.98" r="1.5"/>
<circle cx="763.45" cy="223.94" r="1.5"/>
<circle cx="763.59" cy="221.98" r="1.5"/>
<circle cx="763.73" cy="222.66" r="1.5"/>
<circle cx="763.86" cy="220.59" r="1.5"/>
<circle cx="764" cy="223.67" r="1.5"/>
<circle cx="764.13" cy="222.93" r="1.5"/>
<circle cx="764.27" cy="223.95" r="1.5"/>
<circle cx="764.4" cy="224.92" r="1.5"/>
<circle cx="764.54" cy="223.52" r="1.5"/>
<circle cx="764.67" cy="223.47" r="1.5"/>
<circle cx="764.81" cy="223.42" r="1.5"/>
<circle cx="764.94" cy="223.31" r="1.5"/>
<circle cx="765.07" cy="223.58" r="1.5"/>
<circle cx="765.21" cy="224.61" r="1.5"/>
<circle cx="765.34" cy="224.32" r="1.5"/>
<circle cx="765.47" cy="224.47" r="1.5"/>
<circle cx="765.6" cy="224.44" r="1.5"/>
<circle cx="765.73" cy="225.34" r="1.5"/>
<circle cx="765.86" cy="225.18" r="1.5"/>
<circle cx="766" cy="224.86" r="1.5"/>
<circle cx="766.13" cy="225.56" r="1.5"/>
<circle cx="766.26" cy="225.12" r="1.5"/>
<circle cx="766.39" cy="224.55" r="1.5"/>
<circle cx="766.52" cy="226.5" r="1.5"/>
<circle cx="766.64" cy="225.92" r="1.5"/>
<circle cx="766.77" cy="225.04" r="1.5"/>
<circle cx="766.9" cy="226.58" r="1.5"/>
<circle cx="767.03" cy="226.17" r="1.5"/>
<circle cx="767.16" cy="224.94" r="1.5"/>
<circle cx="767.28" cy="227.26" r="1.5"/>
<circle cx="767.41" cy="226.45" r="1.5"/>
<circle cx="767.54" cy="226.93" r="1.5"/>
<circle cx="767.67" cy="226.52" r="1.5"/>
<circle cx="767.79" cy="226.35" r="1.5"/>
<circle cx="767.92" cy="225.44" r="1.5"/>
<circle cx="768.04" cy="227.28" r="1.5"/>
<circle cx="768.17" cy="226.69" r="1.5"/>
<circle cx="768.29" cy="226.54" r="1.5"/>
<circle cx="768.42" cy="227.06" r="1.5"/>
<circle cx="768.54" cy="226.95" r="1.5"/>
<circle cx="768.67" cy="227.44" r="1.5"/>
<circle cx="768.79" cy="226.78" r="1.5"/>
<circle cx="768.91" cy="227.09" r="1.5"/>
<circle cx="769.04" cy="225.69" r="1.5"/>
<circle cx="769.16" cy="226.96" r="1.5"/>
<circle cx="769.28" cy="227.81" r="1.5"/>
<circle cx="769.4" cy="228.34" r="1.5"/>
<circle cx="769.53" cy="227.22" r="1.5"/>
<circle cx="769.65" cy="227.46" r="1.5"/>
<circle cx="769.77" cy="228.72" r="1.5"/>
<circle cx="769.89" cy="227.45" r="1.5"/>
<circle cx="770.01" cy="228.26" r="1.5"/>
<circle cx="770.13" cy="228.99" r="1.5"/>
<circle cx="770.25" cy="227.9" r="1.5"/>
<circle cx="770.37" cy="228.8" r="1.5"/>
<circle cx="770.49" cy="227.5" r="1.5"/>
<circle cx="770.61" cy="228.2" r="1.5"/>
<circle cx="770.73" cy="228.05" r="1.5"/>
<circle cx="770.85" cy="228.24" r="1.5"/>
<circle cx="770.97" cy="229" r="1.5"/>
<circle cx="771.09" cy="229.93" r="1.5"/>
<circle cx="771.2" cy="227.84" r="1.5"/>
<circle cx="771.32" cy="227.94" r="1.5"/>
<circle cx="771.44" cy="228.73" r="1.5"/>
<circle cx="771.56" cy="227.68" r="1.5"/>
<circle cx="771.67" cy="228.8" r="1.5"/>
<circle cx="771.79" cy="228.88" r="1.5"/>
<circle cx="771.91" cy="228.32" r="1.5"/>
<circle cx="772.02" cy="228.91" r="1.5"/>
<circle cx="772.14" cy="227.47" r="1.5"/>
<circle cx="772.25" cy="229.1" r="1.5"/>
<circle cx="772.37" cy="227.5" r="1.5"/>
<circle cx="772.49" cy="228.11" r="1.5"/>
<circle cx="772.6" cy="228.21" r="1.5"/>
<circle cx="772.71" cy="228.32" r="1.5"/>
<circle cx="772.83" cy="229.2" r="1.5"/>
<circle cx="772.94" cy="228.64" r="1.5"/>
<circle cx="773.06" cy="228.29" r="1.5"/>
<circle cx="773.17" cy="228.93" r="1.5"/>
<circle cx="773.28" cy="229.63" r="1.5"/>
<circle cx="773.4" cy="228.5" r="1.5"/>
<circle cx="773.51" cy="228.71" r="1.5"/>
<circle cx="773.62" cy="229.28" r="1.5"/>
<circle cx="773.73" cy="228.56" r="1.5"/>
<circle cx="773.85" cy="227.42" r="1.5"/>
<circle cx="773.96" cy="230.01" r="1.5"/>
<circle cx="774.07" cy="229.75" r="1.5"/>
<circle cx="774.18" cy="226.76" r="1.5"/>
<circle cx="774.29" cy="228.05" r="1.5"/>
<circle cx="774.4" cy="228.25" r="1.5"/>
<circle cx="774.51" cy="228.45" r="1.5"/>
<circle cx="774.62" cy="228.06" r="1.5"/>
<circle cx="774.73" cy="227.21" r="1.5"/>
<circle cx="774.84" cy="226.47" r="1.5"/>
<circle cx="774.95" cy="227.09" r="1.5"/>
<circle cx="775.06" cy="227.55" r="1.5"/>
<circle cx="775.17" cy="225.86" r="1.5"/>
<circle cx="775.28" cy="225.71" r="1.5"/>
<circle cx="775.39" cy="226.21" r="1.5"/>
<circle cx="775.5" cy="224.67" r="1.5"/>
<circle cx="775.61" cy="225.64" r="1.5"/>
<circle cx="775.72" cy="225.31" r="1.5"/>
<circle cx="775.82" cy="225.71" r="1.5"/>
<circle cx="775.93" cy="224.66" r="1.5"/>
<circle cx="776.04" cy="224.28" r="1.5"/>
<circle cx="776.15" cy="224.35" r="1.5"/>
<circle cx="776.25" cy="224.29" r="1.5"/>
<circle cx="776.36" cy="223.56" r="1.5"/>
<circle cx="776.47" cy="223.71" r="1.5"/>
<circle cx="776.57" cy="223.89" r="1.5"/>
<circle cx="776.68" cy="223.84" r="1.5"/>
<circle cx="776.78" cy="223.84" r="1.5"/>
<circle cx="776.89" cy="221.73" r="1.5"/>
<circle cx="776.99" cy="221.6" r="1.5"/>
<circle cx="777.1" cy="219.76" r="1.5"/>
<circle cx="777.2" cy="222.42" r="1.5"/>
<circle cx="777.31" cy="220.17" r="1.5"/>
<circle cx="777.41" cy="220.23" r="1.5"/>
<circle cx="777.52" cy="220.19" r="1.5"/>
<circle cx="777.62" cy="218.44" r="1.5"/>
<circle cx="777.73" cy="219.27" r="1.5"/>
<circle cx="777.83" cy="218.48" r="1.5"/>
<circle cx="777.93" cy="216.77" r="1.5"/>
<circle cx="778.04" cy="217.8" r="1.5"/>
<circle cx="778.14" cy="217.98" r="1.5"/>
<circle cx="778.24" cy="215.38" r="1.5"/>
<circle cx="778.34" cy="216.94" r="1.5"/>
<circle cx="778.45" cy="216.41" r="1.5"/>
<circle cx="778.55" cy="216.49" r="1.5"/>
</g>
<path d="M461.7 67.99L462.15 68.04L462.61 68.1L463.06 68.17L463.51 68.24L463.96 68.32L464.42 68.41L464.87 68.5L465.32 68.6L465.77 68.7L466.23 68.8L466.68 68.91L467.13 69.03L467.59 69.14L468.04 69.26L468.49 69.38L468.94 69.51L469.4 69.63L469.85 69.76L470.3 69.89L470.75 70.02L471.21 70.15L471.66 70.28L472.11 70.42L472.57 70.55L473.02 70.68L473.47 70.81L473.92 70.94L474.38 71.08L474.83 71.22L475.28 71.36L475.73 71.51L476.19 71.65L476.64 71.81L477.09 71.96L477.55 72.12L478 72.27L478.45 72.43L478.9 72.6L479.36 72.76L479.81 72.93L480.26 73.09L480.71 73.26L481.17 73.44L481.62 73.61L482.07 73.78L482.52 73.96L482.98 74.13L483.43 74.31L483.88 74.48L484.34 74.66L484.79 74.84L485.24 75.02L485.69 75.2L486.15 75.38L486.6 75.56L487.05 75.74L487.5 75.92L487.96 76.11L488.41 76.29L488.86 76.48L489.32 76.67L489.77 76.86L490.22 77.05L490.67 77.24L491.13 77.43L491.58 77.63L492.03 77.83L492.48 78.02L492.94 78.22L493.39 78.43L493.84 78.63L494.3 78.83L494.75 79.04L495.2 79.25L495.65 79.46L496.11 79.67L496.56 79.88L497.01 80.09L497.46 80.31L497.92 80.53L498.37 80.74L498.82 80.97L499.28 81.19L499.73 81.41L500.18 81.64L500.63 81.87L501.09 82.1L501.54 82.34L501.99 82.57L502.44 82.81L502.9 83.05L503.35 83.3L503.8 83.54L504.26 83.79L504.71 84.04L505.16 84.29L505.61 84.54L506.07 84.8L506.52 85.06L506.97 85.31L507.42 85.57L507.88 85.83L508.33 86.1L508.78 86.36L509.24 86.62L509.69 86.89L510.14 87.16L510.59 87.42L511.05 87.69L511.5 87.96L511.95 88.23L512.4 88.5L512.86 88.77L513.31 89.05L513.76 89.32L514.21 89.59L514.67 89.87L515.12 90.15L515.57 90.42L516.03 90.7L516.48 90.98L516.93 91.26L517.38 91.55L517.84 91.83L518.29 92.12L518.74 92.41L519.19 92.7L519.65 92.99L520.1 93.29L520.55 93.58L521.01 93.88L521.46 94.18L521.91 94.48L522.36 94.79L522.82 95.1L523.27 95.41L523.72 95.72L524.17 96.03L524.63 96.35L525.08 96.67L525.53 97L525.99 97.32L526.44 97.65L526.89 97.98L527.34 98.31L527.8 98.65L528.25 98.99L528.7 99.33L529.15 99.67L529.61 100.02L530.06 100.37L530.51 100.72L530.97 101.07L531.42 101.43L531.87 101.79L532.32 102.15L532.78 102.52L533.23 102.89L533.68 103.26L534.13 103.63L534.59 104.01L535.04 104.39L535.49 104.78L535.95 105.16L536.4 105.55L536.85 105.94L537.3 106.34L537.76 106.74L538.21 107.14L538.66 107.55L539.11 107.96L539.57 108.38L540.02 108.81L540.47 109.24L540.92 109.69L541.38 110.14L541.83 110.59L542.28 111.05L542.74 111.51L543.19 111.98L543.64 112.45L544.09 112.92L544.55 113.39L545 113.87L545.45 114.34L545.9 114.82L546.36 115.29L546.81 115.76L547.26 116.23L547.72 116.7L548.17 117.16L548.62 117.63L549.07 118.08L549.53 118.53L549.98 118.98L550.43 119.42L550.88 119.86L551.34 120.31L551.79 120.75L552.24 121.19L552.7 121.63L553.15 122.07L553.6 122.51L554.05 122.95L554.51 123.39L554.96 123.82L555.41 124.26L555.86 124.7L556.32 125.13L556.77 125.57L557.22 126L557.68 126.43L558.13 126.87L558.58 127.3L559.03 127.73L559.49 128.16L559.94 128.59L560.39 129.02L560.84 129.45L561.3 129.87L561.75 130.3L562.2 130.72L562.66 131.15L563.11 131.57L563.56 131.99L564.01 132.41L564.47 132.83L564.92 133.25L565.37 133.67L565.82 134.08L566.28 134.5L566.73 134.91L567.18 135.32L567.64 135.73L568.09 136.14L568.54 136.55L568.99 136.96L569.45 137.36L569.9 137.77L570.35 138.17L570.8 138.57L571.26 138.96L571.71 139.36L572.16 139.75L572.62 140.14L573.07 140.53L573.52 140.92L573.97 141.31L574.43 141.69L574.88 142.08L575.33 142.46L575.78 142.84L576.24 143.23L576.69 143.61L577.14 143.99L577.59 144.37L578.05 144.75L578.5 145.13L578.95 145.52L579.41 145.9L579.86 146.28L580.31 146.66L580.76 147.05L581.22 147.43L581.67 147.82L582.12 148.2L582.57 148.58L583.03 148.97L583.48 149.35L583.93 149.74L584.39 150.12L584.84 150.5L585.29 150.88L585.74 151.26L586.2 151.64L586.65 152.02L587.1 152.39L587.55 152.76L588.01 153.13L588.46 153.5L588.91 153.87L589.37 154.23L589.82 154.59L590.27 154.95L590.72 155.31L591.18 155.66L591.63 156.01L592.08 156.36L592.53 156.71L592.99 157.06L593.44 157.41L593.89 157.75L594.35 158.09L594.8 158.44L595.25 158.78L595.7 159.12L596.16 159.46L596.61 159.8L597.06 160.14L597.51 160.48L597.97 160.82L598.42 161.16L598.87 161.51L599.33 161.85L599.78 162.19L600.23 162.54L600.68 162.88L601.14 163.23L601.59 163.58L602.04 163.93L602.49 164.28L602.95 164.64L603.4 164.99L603.85 165.35L604.31 165.71L604.76 166.06L605.21 166.42L605.66 166.78L606.12 167.14L606.57 167.5L607.02 167.86L607.47 168.22L607.93 168.58L608.38 168.94L608.83 169.31L609.28 169.67L609.74 170.03L610.19 170.4L610.64 170.76L611.1 171.13L611.55 171.49L612 171.86L612.45 172.22L612.91 172.59L613.36 172.96L613.81 173.32L614.26 173.69L614.72 174.06L615.17 174.42L615.62 174.79L616.08 175.16L616.53 175.53L616.98 175.9L617.43 176.27L617.89 176.64L618.34 177L618.79 177.37L619.24 177.74L619.7 178.11L620.15 178.48L620.6 178.85L621.06 179.22L621.51 179.59L621.96 179.96L622.41 180.33L622.87 180.7L623.32 181.07L623.77 181.44L624.22 181.81L624.68 182.18L625.13 182.55L625.58 182.92L626.04 183.29L626.49 183.67L626.94 184.05L627.39 184.43L627.85 184.81L628.3 185.2L628.75 185.59L629.2 185.99L629.66 186.38L630.11 186.78L630.56 187.18L631.02 187.57L631.47 187.97L631.92 188.37L632.37 188.77L632.83 189.17L633.28 189.56L633.73 189.96L634.18 190.35L634.64 190.74L635.09 191.13L635.54 191.51L636 191.89L636.45 192.27L636.9 192.64L637.35 193.01L637.81 193.37L638.26 193.73L638.71 194.08L639.16 194.43L639.62 194.77L640.07 195.1L640.52 195.43L640.97 195.74L641.43 196.05L641.88 196.35L642.33 196.65L642.79 196.93L643.24 197.21L643.69 197.48L644.14 197.74L644.6 198L645.05 198.26L645.5 198.51L645.95 198.76L646.41 199L646.86 199.24L647.31 199.48L647.77 199.72L648.22 199.96L648.67 200.19L649.12 200.43L649.58 200.67L650.03 200.91L650.48 201.15L650.93 201.39L651.39 201.63L651.84 201.88L652.29 202.14L652.75 202.39L653.2 202.66L653.65 202.92L654.1 203.19L654.56 203.46L655.01 203.74L655.46 204.01L655.91 204.29L656.37 204.57L656.82 204.85L657.27 205.13L657.73 205.42L658.18 205.7L658.63 205.98L659.08 206.27L659.54 206.55L659.99 206.84L660.44 207.12L660.89 207.41L661.35 207.69L661.8 207.98L662.25 208.26L662.71 208.54L663.16 208.82L663.61 209.1L664.06 209.38L664.52 209.65L664.97 209.93L665.42 210.2L665.87 210.47L666.33 210.73L666.78 211L667.23 211.26L667.69 211.52L668.14 211.79L668.59 212.05L669.04 212.31L669.5 212.57L669.95 212.82L670.4 213.08L670.85 213.34L671.31 213.59L671.76 213.85L672.21 214.1L672.66 214.35L673.12 214.61L673.57 214.86L674.02 215.11L674.48 215.36L674.93 215.61L675.38 215.87L675.83 216.12L676.29 216.37L676.74 216.62L677.19 216.87L677.64 217.12L678.1 217.37L678.55 217.62L679 217.87L679.46 218.12L679.91 218.37L680.36 218.62L680.81 218.87L681.27 219.12L681.72 219.37L682.17 219.62L682.62 219.87L683.08 220.11L683.53 220.36L683.98 220.61L684.44 220.86L684.89 221.1L685.34 221.35L685.79 221.6L686.25 221.84L686.7 222.09L687.15 222.33L687.6 222.58L688.06 222.82L688.51 223.07L688.96 223.31L689.42 223.56L689.87 223.8L690.32 224.05L690.77 224.29L691.23 224.54L691.68 224.78L692.13 225.03L692.58 225.27L693.04 225.52L693.49 225.76L693.94 226.01L694.4 226.25L694.85 226.5L695.3 226.74L695.75 226.99L696.21 227.23L696.66 227.48L697.11 227.73L697.56 227.97L698.02 228.22L698.47 228.46L698.92 228.71L699.38 228.96L699.83 229.21L700.28 229.45L700.73 229.7L701.19 229.95L701.64 230.21L702.09 230.46L702.54 230.72L703 230.97L703.45 231.23L703.9 231.48L704.35 231.74L704.81 232L705.26 232.26L705.71 232.51L706.17 232.77L706.62 233.02L707.07 233.28L707.52 233.53L707.98 233.79L708.43 234.04L708.88 234.29L709.33 234.53L709.79 234.78L710.24 235.02L710.69 235.26L711.15 235.5L711.6 235.74L712.05 235.97L712.5 236.2L712.96 236.43L713.41 236.65L713.86 236.88L714.31 237.12L714.77 237.35L715.22 237.58L715.67 237.82L716.13 238.05L716.58 238.28L717.03 238.51L717.48 238.72L717.94 238.94L718.39 239.14L718.84 239.34L719.29 239.52L719.75 239.69L720.2 239.85L720.65 240L721.11 240.13L721.56 240.26L722.01 240.38L722.46 240.51L722.92 240.64L723.37 240.76L723.82 240.88L724.27 241L724.73 241.1L725.18 241.21L725.63 241.3L726.09 241.38L726.54 241.45L726.99 241.51L727.44 241.55L727.9 241.58L728.35 241.6L728.8 241.6L729.25 241.57L729.71 241.53L730.16 241.47L730.61 241.4L731.07 241.31L731.52 241.2L731.97 241.09L732.42 240.97L732.88 240.83L733.33 240.69L733.78 240.54L734.23 240.39L734.69 240.23L735.14 240.02L735.59 239.77L736.04 239.47L736.5 239.13L736.95 238.76L737.4 238.37L737.86 237.96L738.31 237.54L738.76 237.11L739.21 236.69L739.67 236.22L740.12 235.68L740.57 235.13L741.02 234.59L741.48 234.12L741.93 233.7L742.38 233.29L742.84 232.89L743.29 232.51L743.74 232.13L744.19 231.76L744.65 231.41L745.1 231.06L745.55 230.73L746 230.41L746.46 230.11L746.91 229.81L747.36 229.53L747.82 229.26L748.27 229.01L748.72 228.77L749.17 228.54L749.63 228.33L750.08 228.12L750.53 227.93L750.98 227.74L751.44 227.55L751.89 227.37L752.34 227.18L752.8 227L753.25 226.81L753.7 226.61L754.15 226.41L754.61 226.2L755.06 225.97L755.51 225.72L755.96 225.46L756.42 225.2L756.87 224.94L757.32 224.68L757.78 224.44L758.23 224.22L758.68 224.02L759.13 223.85L759.59 223.69L760.04 223.52L760.49 223.36L760.94 223.21L761.4 223.08L761.85 222.98L762.3 222.92L762.76 222.9L763.21 222.98L763.66 223.18L764.11 223.48L764.57 223.85L765.02 224.27L765.47 224.73L765.92 225.19L766.38 225.64L766.83 226.06L767.28 226.43L767.73 226.72L768.19 226.98L768.64 227.25L769.09 227.52L769.55 227.79L770 228.04L770.45 228.28L770.9 228.48L771.36 228.66L771.81 228.79L772.26 228.87L772.71 228.9L773.17 228.85L773.62 228.72L774.07 228.51L774.53 228.23L774.98 227.9L775.43 227.54L775.88 227.11L776.34 226.4L776.79 225.41L777.24 224.2L777.69 222.81L778.15 221.32L778.6 220.8" stroke="#ff0000" stroke-width="1.15"/>
<g stroke="#000000" stroke-width="0.9">
<path d="M482.38 104.63L480.23 108.61L484.53 108.61Z"/>
<path d="M508.42 108.35L506.27 112.33L510.57 112.33Z"/>
<path d="M525.58 109.6L523.43 113.57L527.73 113.57Z"/>
<path d="M538.4 114.62L536.25 118.59L540.55 118.59Z"/>
<path d="M548.63 117.58L546.48 121.56L550.78 121.56Z"/>
<path d="M557.15 119.6L555 123.57L559.3 123.57Z"/>
<path d="M564.45 124.36L562.3 128.34L566.6 128.34Z"/>
<path d="M570.83 127.73L568.68 131.7L572.98 131.7Z"/>
<path d="M576.5 131.69L574.35 135.67L578.65 135.67Z"/>
<path d="M581.6 134.36L579.45 138.34L583.75 138.34Z"/>
<path d="M586.24 138.21L584.09 142.19L588.39 142.19Z"/>
<path d="M590.49 141.37L588.34 145.34L592.64 145.34Z"/>
<path d="M594.42 143.26L592.27 147.24L596.57 147.24Z"/>
<path d="M598.06 146.77L595.91 150.75L600.21 150.75Z"/>
<path d="M601.46 149.77L599.31 153.75L603.61 153.75Z"/>
<path d="M604.65 152.82L602.5 156.8L606.8 156.8Z"/>
<path d="M607.65 155.5L605.5 159.47L609.8 159.47Z"/>
<path d="M610.49 158.07L608.34 162.05L612.64 162.05Z"/>
<path d="M613.17 161.33L611.02 165.31L615.32 165.31Z"/>
<path d="M615.72 163.57L613.57 167.55L617.87 167.55Z"/>
<path d="M618.15 166.17L616 170.15L620.3 170.15Z"/>
<path d="M620.47 169.18L618.32 173.16L622.62 173.16Z"/>
<path d="M622.68 171.18L620.53 175.16L624.83 175.16Z"/>
<path d="M624.81 173.24L622.66 177.22L626.96 177.22Z"/>
<path d="M626.85 175.22L624.7 179.2L629 179.2Z"/>
<path d="M628.81 177.39L626.66 181.37L630.96 181.37Z"/>
<path d="M630.7 179.79L628.55 183.77L632.85 183.77Z"/>
<path d="M632.52 181.6L630.37 185.58L634.67 185.58Z"/>
<path d="M634.28 182.76L632.13 186.73L636.43 186.73Z"/>
<path d="M635.98 185.6L633.83 189.58L638.13 189.58Z"/>
<path d="M637.62 187.38L635.47 191.36L639.77 191.36Z"/>
<path d="M639.22 188.39L637.07 192.37L641.37 192.37Z"/>
<path d="M640.76 190.71L638.61 194.69L642.91 194.69Z"/>
<path d="M642.26 191.26L640.11 195.23L644.41 195.23Z"/>
<path d="M643.72 192.24L641.57 196.22L645.87 196.22Z"/>
<path d="M645.14 193.85L642.99 197.83L647.29 197.83Z"/>
<path d="M646.52 195.04L644.37 199.02L648.67 199.02Z"/>
<path d="M647.86 194.58L645.71 198.56L650.01 198.56Z"/>
<path d="M649.16 196.07L647.01 200.05L651.31 200.05Z"/>
<path d="M650.44 195.97L648.29 199.94L652.59 199.94Z"/>
<path d="M651.68 198.78L649.53 202.76L653.83 202.76Z"/>
<path d="M652.9 197.7L650.75 201.68L655.05 201.68Z"/>
<path d="M654.08 199.55L651.93 203.53L656.23 203.53Z"/>
<path d="M655.24 199.08L653.09 203.06L657.39 203.06Z"/>
<path d="M656.38 200.74L654.23 204.72L658.53 204.72Z"/>
<path d="M657.48 202.35L655.33 206.33L659.63 206.33Z"/>
<path d="M658.57 199.93L656.42 203.91L660.72 203.91Z"/>
<path d="M659.63 201.96L657.48 205.94L661.78 205.94Z"/>
<path d="M660.67 203.21L658.52 207.18L662.82 207.18Z"/>
<path d="M661.69 203.45L659.54 207.42L663.84 207.42Z"/>
<path d="M662.69 203.68L660.54 207.66L664.84 207.66Z"/>
<path d="M663.67 206.1L661.52 210.08L665.82 210.08Z"/>
<path d="M664.63 205.33L662.48 209.31L666.78 209.31Z"/>
<path d="M665.58 204.77L663.43 208.75L667.73 208.75Z"/>
<path d="M666.51 206.94L664.36 210.92L668.66 210.92Z"/>
<path d="M667.42 205.8L665.27 209.78L669.57 209.78Z"/>
<path d="M668.31 208.18L666.16 212.16L670.46 212.16Z"/>
<path d="M669.19 207.57L667.04 211.54L671.34 211.54Z"/>
<path d="M670.06 208.53L667.91 212.51L672.21 212.51Z"/>
<path d="M670.91 209.73L668.76 213.71L673.06 213.71Z"/>
<path d="M671.74 209.46L669.59 213.44L673.89 213.44Z"/>
<path d="M672.56 208.94L670.41 212.92L674.71 212.92Z"/>
<path d="M673.37 209.2L671.22 213.17L675.52 213.17Z"/>
<path d="M674.17 211.51L672.02 215.49L676.32 215.49Z"/>
<path d="M674.95 211.66L672.8 215.64L677.1 215.64Z"/>
<path d="M675.73 211.08L673.58 215.05L677.88 215.05Z"/>
<path d="M676.49 212.59L674.34 216.56L678.64 216.56Z"/>
<path d="M677.24 212.77L675.09 216.74L679.39 216.74Z"/>
<path d="M677.98 213.27L675.83 217.25L680.13 217.25Z"/>
<path d="M678.71 211.79L676.56 215.76L680.86 215.76Z"/>
<path d="M679.42 213.46L677.27 217.43L681.57 217.43Z"/>
<path d="M680.13 214.63L677.98 218.61L682.28 218.61Z"/>
<path d="M680.83 214.91L678.68 218.88L682.98 218.88Z"/>
<path d="M681.52 215.38L679.37 219.36L683.67 219.36Z"/>
<path d="M682.2 213.59L680.05 217.56L684.35 217.56Z"/>
<path d="M682.87 215.66L680.72 219.64L685.02 219.64Z"/>
<path d="M683.53 216.23L681.38 220.21L685.68 220.21Z"/>
<path d="M684.19 217.93L682.04 221.91L686.34 221.91Z"/>
<path d="M684.83 216L682.68 219.98L686.98 219.98Z"/>
<path d="M685.47 216.76L683.32 220.73L687.62 220.73Z"/>
<path d="M686.1 217.34L683.95 221.31L688.25 221.31Z"/>
<path d="M686.72 218.23L684.57 222.2L688.87 222.2Z"/>
<path d="M687.34 217.69L685.19 221.67L689.49 221.67Z"/>
<path d="M687.94 219.06L685.79 223.04L690.09 223.04Z"/>
<path d="M688.54 218.12L686.39 222.1L690.69 222.1Z"/>
<path d="M689.14 219.13L686.99 223.11L691.29 223.11Z"/>
<path d="M689.72 218.93L687.57 222.91L691.87 222.91Z"/>
<path d="M690.3 219.69L688.15 223.67L692.45 223.67Z"/>
<path d="M690.87 219.45L688.72 223.43L693.02 223.43Z"/>
<path d="M691.44 219.17L689.29 223.14L693.59 223.14Z"/>
<path d="M692 221.22L689.85 225.2L694.15 225.2Z"/>
<path d="M692.55 221L690.4 224.98L694.7 224.98Z"/>
<path d="M693.1 220.74L690.95 224.72L695.25 224.72Z"/>
<path d="M693.65 221.53L691.5 225.51L695.8 225.51Z"/>
<path d="M694.18 222.33L692.03 226.31L696.33 226.31Z"/>
<path d="M694.71 221.34L692.56 225.32L696.86 225.32Z"/>
<path d="M695.24 222.19L693.09 226.17L697.39 226.17Z"/>
<path d="M695.76 222.89L693.61 226.87L697.91 226.87Z"/>
<path d="M696.27 223.16L694.12 227.14L698.42 227.14Z"/>
<path d="M696.78 222.88L694.63 226.86L698.93 226.86Z"/>
<path d="M697.29 222L695.14 225.98L699.44 225.98Z"/>
<path d="M697.79 224.45L695.64 228.43L699.94 228.43Z"/>
<path d="M698.28 224.13L696.13 228.1L700.43 228.1Z"/>
<path d="M698.77 224.19L696.62 228.17L700.92 228.17Z"/>
<path d="M699.26 224.26L697.11 228.24L701.41 228.24Z"/>
<path d="M699.74 224.88L697.59 228.86L701.89 228.86Z"/>
<path d="M700.22 224.69L698.07 228.67L702.37 228.67Z"/>
<path d="M700.69 224.56L698.54 228.54L702.84 228.54Z"/>
<path d="M701.16 225.01L699.01 228.99L703.31 228.99Z"/>
<path d="M701.62 225.36L699.47 229.34L703.77 229.34Z"/>
<path d="M702.08 225.61L699.93 229.58L704.23 229.58Z"/>
<path d="M702.54 225.51L700.39 229.49L704.69 229.49Z"/>
<path d="M702.99 226.93L700.84 230.91L705.14 230.91Z"/>
<path d="M703.43 225.92L701.28 229.9L705.58 229.9Z"/>
<path d="M703.88 227.45L701.73 231.43L706.03 231.43Z"/>
<path d="M704.32 226.61L702.17 230.59L706.47 230.59Z"/>
<path d="M704.75 227.75L702.6 231.73L706.9 231.73Z"/>
<path d="M705.19 228.66L703.04 232.63L707.34 232.63Z"/>
<path d="M705.61 228.14L703.46 232.12L707.76 232.12Z"/>
<path d="M706.04 227.77L703.89 231.75L708.19 231.75Z"/>
<path d="M706.46 228.52L704.31 232.49L708.61 232.49Z"/>
<path d="M706.88 228.82L704.73 232.8L709.03 232.8Z"/>
<path d="M707.29 227.83L705.14 231.8L709.44 231.8Z"/>
<path d="M707.7 228.79L705.55 232.77L709.85 232.77Z"/>
<path d="M708.11 229.52L705.96 233.49L710.26 233.49Z"/>
<path d="M708.52 229.33L706.37 233.31L710.67 233.31Z"/>
<path d="M708.92 229.91L706.77 233.89L711.07 233.89Z"/>
<path d="M709.32 230.55L707.17 234.53L711.47 234.53Z"/>
<path d="M709.71 230.79L707.56 234.76L711.86 234.76Z"/>
<path d="M710.1 231.09L707.95 235.07L712.25 235.07Z"/>
<path d="M710.49 231.09L708.34 235.07L712.64 235.07Z"/>
<path d="M710.88 230.73L708.73 234.7L713.03 234.7Z"/>
<path d="M711.26 231.1L709.11 235.08L713.41 235.08Z"/>
<path d="M711.64 231.14L709.49 235.11L713.79 235.11Z"/>
<path d="M712.02 231.3L709.87 235.28L714.17 235.28Z"/>
<path d="M712.4 231.58L710.25 235.56L714.55 235.56Z"/>
<path d="M712.77 230.76L710.62 234.74L714.92 234.74Z"/>
<path d="M713.14 231.85L710.99 235.83L715.29 235.83Z"/>
<path d="M713.51 232.24L711.36 236.21L715.66 236.21Z"/>
<path d="M713.87 231.8L711.72 235.78L716.02 235.78Z"/>
<path d="M714.23 232.61L712.08 236.58L716.38 236.58Z"/>
<path d="M714.59 233.14L712.44 237.12L716.74 237.12Z"/>
<path d="M714.95 232.89L712.8 236.86L717.1 236.86Z"/>
<path d="M715.3 234.53L713.15 238.5L717.45 238.5Z"/>
<path d="M715.65 231.66L713.5 235.64L717.8 235.64Z"/>
<path d="M716 233.4L713.85 237.38L718.15 237.38Z"/>
<path d="M716.35 232.53L714.2 236.51L718.5 236.51Z"/>
<path d="M716.69 234.53L714.54 238.5L718.84 238.5Z"/>
<path d="M717.04 235.78L714.89 239.76L719.19 239.76Z"/>
<path d="M717.38 232.6L715.23 236.57L719.53 236.57Z"/>
<path d="M717.71 234.47L715.56 238.44L719.86 238.44Z"/>
<path d="M718.05 234.88L715.9 238.85L720.2 238.85Z"/>
<path d="M718.38 234.49L716.23 238.47L720.53 238.47Z"/>
<path d="M718.71 235.19L716.56 239.17L720.86 239.17Z"/>
<path d="M719.04 233.51L716.89 237.49L721.19 237.49Z"/>
<path d="M719.37 235.65L717.22 239.63L721.52 239.63Z"/>
<path d="M719.69 235.47L717.54 239.44L721.84 239.44Z"/>
<path d="M720.02 235.36L717.87 239.33L722.17 239.33Z"/>
<path d="M720.34 235.07L718.19 239.04L722.49 239.04Z"/>
<path d="M720.66 235.97L718.51 239.94L722.81 239.94Z"/>
<path d="M720.97 235.33L718.82 239.3L723.12 239.3Z"/>
<path d="M721.29 235.88L719.14 239.85L723.44 239.85Z"/>
<path d="M721.6 235.49L719.45 239.46L723.75 239.46Z"/>
<path d="M721.91 234.45L719.76 238.42L724.06 238.42Z"/>
<path d="M722.22 235.97L720.07 239.95L724.37 239.95Z"/>
<path d="M722.53 236.21L720.38 240.19L724.68 240.19Z"/>
<path d="M722.83 236.66L720.68 240.63L724.98 240.63Z"/>
<path d="M723.14 235.68L720.99 239.66L725.29 239.66Z"/>
<path d="M723.44 236.31L721.29 240.29L725.59 240.29Z"/>
<path d="M723.74 236.81L721.59 240.79L725.89 240.79Z"/>
<path d="M724.04 236.58L721.89 240.56L726.19 240.56Z"/>
<path d="M724.33 237.37L722.18 241.35L726.48 241.35Z"/>
<path d="M724.63 237.93L722.48 241.9L726.78 241.9Z"/>
<path d="M724.92 236.11L722.77 240.09L727.07 240.09Z"/>
<path d="M725.21 235.51L723.06 239.49L727.36 239.49Z"/>
<path d="M725.5 237.38L723.35 241.36L727.65 241.36Z"/>
<path d="M725.79 237.87L723.64 241.85L727.94 241.85Z"/>
<path d="M726.08 237.53L723.93 241.51L728.23 241.51Z"/>
<path d="M726.36 237.5L724.21 241.48L728.51 241.48Z"/>
<path d="M726.64 236.61L724.49 240.59L728.79 240.59Z"/>
<path d="M726.93 236.59L724.78 240.57L729.08 240.57Z"/>
<path d="M727.21 237.66L725.06 241.64L729.36 241.64Z"/>
<path d="M727.49 236.52L725.34 240.49L729.64 240.49Z"/>
<path d="M727.76 235.95L725.61 239.93L729.91 239.93Z"/>
<path d="M728.04 236.49L725.89 240.47L730.19 240.47Z"/>
<path d="M728.31 238.77L726.16 242.75L730.46 242.75Z"/>
<path d="M728.58 238.4L726.43 242.38L730.73 242.38Z"/>
<path d="M728.86 236.7L726.71 240.67L731.01 240.67Z"/>
<path d="M729.13 236.66L726.98 240.63L731.28 240.63Z"/>
<path d="M729.39 237.26L727.24 241.24L731.54 241.24Z"/>
<path d="M729.66 236.6L727.51 240.58L731.81 240.58Z"/>
<path d="M729.93 237.91L727.78 241.88L732.08 241.88Z"/>
<path d="M730.19 236.97L728.04 240.94L732.34 240.94Z"/>
<path d="M730.45 236.27L728.3 240.25L732.6 240.25Z"/>
<path d="M730.72 237.78L728.57 241.76L732.87 241.76Z"/>
<path d="M730.98 236.5L728.83 240.47L733.13 240.47Z"/>
<path d="M731.23 236.96L729.08 240.94L733.38 240.94Z"/>
<path d="M731.49 236.75L729.34 240.73L733.64 240.73Z"/>
<path d="M731.75 236.49L729.6 240.47L733.9 240.47Z"/>
<path d="M732 236.84L729.85 240.82L734.15 240.82Z"/>
<path d="M732.26 236.11L730.11 240.09L734.41 240.09Z"/>
<path d="M732.51 235.29L730.36 239.27L734.66 239.27Z"/>
<path d="M732.76 234.98L730.61 238.96L734.91 238.96Z"/>
<path d="M733.01 235.52L730.86 239.5L735.16 239.5Z"/>
<path d="M733.26 235.77L731.11 239.75L735.41 239.75Z"/>
<path d="M733.51 236.17L731.36 240.15L735.66 240.15Z"/>
<path d="M733.75 236.14L731.6 240.12L735.9 240.12Z"/>
<path d="M734 236.38L731.85 240.36L736.15 240.36Z"/>
<path d="M734.24 236.02L732.09 239.99L736.39 239.99Z"/>
<path d="M734.49 235.34L732.34 239.32L736.64 239.32Z"/>
<path d="M734.73 235.3L732.58 239.28L736.88 239.28Z"/>
<path d="M734.97 234.28L732.82 238.26L737.12 238.26Z"/>
<path d="M735.21 235.43L733.06 239.41L737.36 239.41Z"/>
<path d="M735.44 235.72L733.29 239.7L737.59 239.7Z"/>
<path d="M735.68 235.6L733.53 239.58L737.83 239.58Z"/>
<path d="M735.92 235.03L733.77 239L738.07 239Z"/>
<path d="M736.15 234.83L734 238.8L738.3 238.8Z"/>
<path d="M736.39 235.37L734.24 239.35L738.54 239.35Z"/>
<path d="M736.62 234.59L734.47 238.57L738.77 238.57Z"/>
<path d="M736.85 234.87L734.7 238.85L739 238.85Z"/>
<path d="M737.08 234.58L734.93 238.56L739.23 238.56Z"/>
<path d="M737.31 234.14L735.16 238.12L739.46 238.12Z"/>
<path d="M737.54 234.65L735.39 238.62L739.69 238.62Z"/>
<path d="M737.77 233.22L735.62 237.2L739.92 237.2Z"/>
<path d="M738 233.15L735.85 237.13L740.15 237.13Z"/>
<path d="M738.22 232.65L736.07 236.62L740.37 236.62Z"/>
<path d="M738.45 232.44L736.3 236.42L740.6 236.42Z"/>
<path d="M738.67 233.76L736.52 237.74L740.82 237.74Z"/>
<path d="M738.89 233.68L736.74 237.66L741.04 237.66Z"/>
<path d="M739.11 232.35L736.96 236.32L741.26 236.32Z"/>
<path d="M739.33 232.49L737.18 236.47L741.48 236.47Z"/>
<path d="M739.55 232.65L737.4 236.63L741.7 236.63Z"/>
<path d="M739.77 232.17L737.62 236.15L741.92 236.15Z"/>
<path d="M739.99 232.17L737.84 236.15L742.14 236.15Z"/>
<path d="M740.21 230.3L738.06 234.28L742.36 234.28Z"/>
<path d="M740.42 230.44L738.27 234.42L742.57 234.42Z"/>
<path d="M740.64 230.89L738.49 234.87L742.79 234.87Z"/>
<path d="M740.85 231.28L738.7 235.25L743 235.25Z"/>
<path d="M741.07 230.17L738.92 234.14L743.22 234.14Z"/>
<path d="M741.28 229.31L739.13 233.29L743.43 233.29Z"/>
<path d="M741.49 229.43L739.34 233.41L743.64 233.41Z"/>
<path d="M741.7 229.03L739.55 233.01L743.85 233.01Z"/>
<path d="M741.91 228.71L739.76 232.69L744.06 232.69Z"/>
<path d="M742.12 230.05L739.97 234.03L744.27 234.03Z"/>
<path d="M742.33 228.48L740.18 232.46L744.48 232.46Z"/>
<path d="M742.54 228.72L740.39 232.7L744.69 232.7Z"/>
<path d="M742.74 229.93L740.59 233.91L744.89 233.91Z"/>
<path d="M742.95 229.12L740.8 233.09L745.1 233.09Z"/>
<path d="M743.15 228.39L741 232.37L745.3 232.37Z"/>
<path d="M743.36 227.6L741.21 231.58L745.51 231.58Z"/>
<path d="M743.56 228.09L741.41 232.07L745.71 232.07Z"/>
<path d="M743.76 228.72L741.61 232.69L745.91 232.69Z"/>
<path d="M743.96 227.9L741.81 231.88L746.11 231.88Z"/>
<path d="M744.16 228.16L742.01 232.13L746.31 232.13Z"/>
<path d="M744.36 227.24L742.21 231.22L746.51 231.22Z"/>
<path d="M744.56 227.36L742.41 231.33L746.71 231.33Z"/>
<path d="M744.76 226.74L742.61 230.72L746.91 230.72Z"/>
<path d="M744.96 227L742.81 230.97L747.11 230.97Z"/>
<path d="M745.16 227.42L743.01 231.39L747.31 231.39Z"/>
<path d="M745.35 225.5L743.2 229.48L747.5 229.48Z"/>
<path d="M745.55 226.25L743.4 230.22L747.7 230.22Z"/>
<path d="M745.74 226.3L743.59 230.28L747.89 230.28Z"/>
<path d="M745.94 225.64L743.79 229.62L748.09 229.62Z"/>
<path d="M746.13 225.68L743.98 229.66L748.28 229.66Z"/>
<path d="M746.32 226.26L744.17 230.24L748.47 230.24Z"/>
<path d="M746.51 226.92L744.36 230.9L748.66 230.9Z"/>
<path d="M746.7 225.9L744.55 229.88L748.85 229.88Z"/>
<path d="M746.89 225.58L744.74 229.56L749.04 229.56Z"/>
<path d="M747.08 224.24L744.93 228.22L749.23 228.22Z"/>
<path d="M747.27 226.39L745.12 230.37L749.42 230.37Z"/>
<path d="M747.46 225.07L745.31 229.05L749.61 229.05Z"/>
<path d="M747.65 224.89L745.5 228.87L749.8 228.87Z"/>
<path d="M747.84 224.07L745.69 228.05L749.99 228.05Z"/>
<path d="M748.02 224.66L745.87 228.63L750.17 228.63Z"/>
<path d="M748.21 223.88L746.06 227.86L750.36 227.86Z"/>
<path d="M748.39 224.54L746.24 228.51L750.54 228.51Z"/>
<path d="M748.58 224.69L746.43 228.67L750.73 228.67Z"/>
<path d="M748.76 224.32L746.61 228.29L750.91 228.29Z"/>
<path d="M748.94 224.39L746.79 228.36L751.09 228.36Z"/>
<path d="M749.12 223.56L746.97 227.54L751.27 227.54Z"/>
<path d="M749.31 224.96L747.16 228.93L751.46 228.93Z"/>
<path d="M749.49 223.52L747.34 227.49L751.64 227.49Z"/>
<path d="M749.67 222.68L747.52 226.65L751.82 226.65Z"/>
<path d="M749.85 223.65L747.7 227.63L752 227.63Z"/>
<path d="M750.03 223.2L747.88 227.18L752.18 227.18Z"/>
<path d="M750.2 222.96L748.05 226.94L752.35 226.94Z"/>
<path d="M750.38 223.31L748.23 227.29L752.53 227.29Z"/>
<path d="M750.56 223.65L748.41 227.63L752.71 227.63Z"/>
<path d="M750.73 222.62L748.58 226.6L752.88 226.6Z"/>
<path d="M750.91 223.23L748.76 227.21L753.06 227.21Z"/>
<path d="M751.09 224.17L748.94 228.15L753.24 228.15Z"/>
<path d="M751.26 223.62L749.11 227.59L753.41 227.59Z"/>
<path d="M751.43 223L749.28 226.98L753.58 226.98Z"/>
<path d="M751.61 223.12L749.46 227.09L753.76 227.09Z"/>
<path d="M751.78 222.88L749.63 226.86L753.93 226.86Z"/>
<path d="M751.95 222.86L749.8 226.84L754.1 226.84Z"/>
<path d="M752.12 223.3L749.97 227.28L754.27 227.28Z"/>
<path d="M752.3 222.69L750.15 226.67L754.45 226.67Z"/>
<path d="M752.47 221.12L750.32 225.1L754.62 225.1Z"/>
<path d="M752.64 222.6L750.49 226.58L754.79 226.58Z"/>
<path d="M752.81 221.97L750.66 225.94L754.96 225.94Z"/>
<path d="M752.97 222.9L750.82 226.88L755.12 226.88Z"/>
<path d="M753.14 222.01L750.99 225.98L755.29 225.98Z"/>
<path d="M753.31 222.43L751.16 226.41L755.46 226.41Z"/>
<path d="M753.48 223.68L751.33 227.65L755.63 227.65Z"/>
<path d="M753.64 221.51L751.49 225.49L755.79 225.49Z"/>
<path d="M753.81 221.38L751.66 225.36L755.96 225.36Z"/>
<path d="M753.98 221.12L751.83 225.1L756.13 225.1Z"/>
<path d="M754.14 220.41L751.99 224.39L756.29 224.39Z"/>
<path d="M754.31 220.67L752.16 224.65L756.46 224.65Z"/>
<path d="M754.47 222.05L752.32 226.03L756.62 226.03Z"/>
<path d="M754.63 221.32L752.48 225.3L756.78 225.3Z"/>
<path d="M754.8 220.44L752.65 224.42L756.95 224.42Z"/>
<path d="M754.96 220.61L752.81 224.58L757.11 224.58Z"/>
<path d="M755.12 221.89L752.97 225.86L757.27 225.86Z"/>
<path d="M755.28 220.89L753.13 224.87L757.43 224.87Z"/>
<path d="M755.44 221.07L753.29 225.05L757.59 225.05Z"/>
<path d="M755.6 221.43L753.45 225.41L757.75 225.41Z"/>
<path d="M755.76 222.01L753.61 225.99L757.91 225.99Z"/>
<path d="M755.92 222.3L753.77 226.28L758.07 226.28Z"/>
<path d="M756.08 221.62L753.93 225.59L758.23 225.59Z"/>
<path d="M756.24 220.95L754.09 224.92L758.39 224.92Z"/>
<path d="M756.4 220.88L754.25 224.86L758.55 224.86Z"/>
<path d="M756.55 221.84L754.4 225.82L758.7 225.82Z"/>
<path d="M756.71 221.51L754.56 225.49L758.86 225.49Z"/>
<path d="M756.87 220.29L754.72 224.26L759.02 224.26Z"/>
<path d="M757.02 220.7L754.87 224.68L759.17 224.68Z"/>
<path d="M757.18 220.5L755.03 224.48L759.33 224.48Z"/>
<path d="M757.33 220.26L755.18 224.24L759.48 224.24Z"/>
<path d="M757.49 219.82L755.34 223.8L759.64 223.8Z"/>
<path d="M757.64 219.2L755.49 223.18L759.79 223.18Z"/>
<path d="M757.8 219.63L755.65 223.61L759.95 223.61Z"/>
<path d="M757.95 218.9L755.8 222.88L760.1 222.88Z"/>
<path d="M758.1 220.62L755.95 224.6L760.25 224.6Z"/>
<path d="M758.25 220.11L756.1 224.08L760.4 224.08Z"/>
<path d="M758.41 218.9L756.26 222.88L760.56 222.88Z"/>
<path d="M758.56 220.53L756.41 224.51L760.71 224.51Z"/>
<path d="M758.71 220.14L756.56 224.12L760.86 224.12Z"/>
<path d="M758.86 218.26L756.71 222.24L761.01 222.24Z"/>
<path d="M759.01 220.64L756.86 224.62L761.16 224.62Z"/>
<path d="M759.16 219.92L757.01 223.9L761.31 223.9Z"/>
<path d="M759.31 220.68L757.16 224.66L761.46 224.66Z"/>
<path d="M759.46 218.48L757.31 222.46L761.61 222.46Z"/>
<path d="M759.6 219.57L757.45 223.55L761.75 223.55Z"/>
<path d="M759.75 219.45L757.6 223.43L761.9 223.43Z"/>
<path d="M759.9 219.25L757.75 223.23L762.05 223.23Z"/>
<path d="M760.05 219.18L757.9 223.15L762.2 223.15Z"/>
<path d="M760.19 219.7L758.04 223.67L762.34 223.67Z"/>
<path d="M760.34 217.99L758.19 221.97L762.49 221.97Z"/>
<path d="M760.48 218.1L758.33 222.08L762.63 222.08Z"/>
<path d="M760.63 217.95L758.48 221.93L762.78 221.93Z"/>
<path d="M760.78 218.45L758.63 222.43L762.93 222.43Z"/>
<path d="M760.92 218.37L758.77 222.35L763.07 222.35Z"/>
<path d="M761.06 218.96L758.91 222.94L763.21 222.94Z"/>
<path d="M761.21 218.85L759.06 222.83L763.36 222.83Z"/>
<path d="M761.35 218.66L759.2 222.64L763.5 222.64Z"/>
<path d="M761.49 218.17L759.34 222.14L763.64 222.14Z"/>
<path d="M761.64 218.29L759.49 222.26L763.79 222.26Z"/>
<path d="M761.78 219.16L759.63 223.14L763.93 223.14Z"/>
<path d="M761.92 219.02L759.77 222.99L764.07 222.99Z"/>
<path d="M762.06 218.56L759.91 222.54L764.21 222.54Z"/>
<path d="M762.2 218.27L760.05 222.25L764.35 222.25Z"/>
<path d="M762.34 219.47L760.19 223.45L764.49 223.45Z"/>
<path d="M762.48 218.07L760.33 222.05L764.63 222.05Z"/>
<path d="M762.62 218.87L760.47 222.85L764.77 222.85Z"/>
<path d="M762.76 219.2L760.61 223.18L764.91 223.18Z"/>
<path d="M762.9 218.29L760.75 222.27L765.05 222.27Z"/>
<path d="M763.04 219.02L760.89 223L765.19 223Z"/>
<path d="M763.18 217.8L761.03 221.78L765.33 221.78Z"/>
<path d="M763.31 219.23L761.16 223.21L765.46 223.21Z"/>
<path d="M763.45 218.76L761.3 222.74L765.6 222.74Z"/>
<path d="M763.59 217.66L761.44 221.64L765.74 221.64Z"/>
<path d="M763.73 219.21L761.58 223.18L765.88 223.18Z"/>
<path d="M763.86 218.27L761.71 222.25L766.01 222.25Z"/>
<path d="M764 219.78L761.85 223.76L766.15 223.76Z"/>
<path d="M764.13 218.6L761.98 222.58L766.28 222.58Z"/>
<path d="M764.27 219.04L762.12 223.02L766.42 223.02Z"/>
<path d="M764.4 219.44L762.25 223.42L766.55 223.42Z"/>
<path d="M764.54 219.16L762.39 223.14L766.69 223.14Z"/>
<path d="M764.67 219.66L762.52 223.64L766.82 223.64Z"/>
<path d="M764.81 219.26L762.66 223.24L766.96 223.24Z"/>
<path d="M764.94 220.18L762.79 224.16L767.09 224.16Z"/>
<path d="M765.07 219.88L762.92 223.86L767.22 223.86Z"/>
<path d="M765.21 220.14L763.06 224.12L767.36 224.12Z"/>
<path d="M765.34 218.35L763.19 222.33L767.49 222.33Z"/>
<path d="M765.47 221.03L763.32 225.01L767.62 225.01Z"/>
<path d="M765.6 220.43L763.45 224.41L767.75 224.41Z"/>
<path d="M765.73 219.39L763.58 223.36L767.88 223.36Z"/>
<path d="M765.86 220.74L763.71 224.72L768.01 224.72Z"/>
<path d="M766 221.12L763.85 225.09L768.15 225.09Z"/>
<path d="M766.13 221.64L763.98 225.62L768.28 225.62Z"/>
<path d="M766.26 220.37L764.11 224.35L768.41 224.35Z"/>
<path d="M766.39 222.21L764.24 226.19L768.54 226.19Z"/>
<path d="M766.52 221.22L764.37 225.2L768.67 225.2Z"/>
<path d="M766.64 223L764.49 226.98L768.79 226.98Z"/>
<path d="M766.77 221.47L764.62 225.45L768.92 225.45Z"/>
<path d="M766.9 222.12L764.75 226.1L769.05 226.1Z"/>
<path d="M767.03 221.55L764.88 225.52L769.18 225.52Z"/>
<path d="M767.16 221.16L765.01 225.14L769.31 225.14Z"/>
<path d="M767.28 222.69L765.13 226.67L769.43 226.67Z"/>
<path d="M767.41 222.66L765.26 226.64L769.56 226.64Z"/>
<path d="M767.54 223.15L765.39 227.13L769.69 227.13Z"/>
<path d="M767.67 222.79L765.52 226.77L769.82 226.77Z"/>
<path d="M767.79 221.93L765.64 225.91L769.94 225.91Z"/>
<path d="M767.92 221.29L765.77 225.27L770.07 225.27Z"/>
<path d="M768.04 222.02L765.89 226L770.19 226Z"/>
<path d="M768.17 222.08L766.02 226.06L770.32 226.06Z"/>
<path d="M768.29 222.06L766.14 226.04L770.44 226.04Z"/>
<path d="M768.42 223.05L766.27 227.02L770.57 227.02Z"/>
<path d="M768.54 222.95L766.39 226.93L770.69 226.93Z"/>
<path d="M768.67 222.64L766.52 226.62L770.82 226.62Z"/>
<path d="M768.79 223L766.64 226.98L770.94 226.98Z"/>
<path d="M768.91 222.87L766.76 226.85L771.06 226.85Z"/>
<path d="M769.04 223.18L766.89 227.15L771.19 227.15Z"/>
<path d="M769.16 223.6L767.01 227.58L771.31 227.58Z"/>
<path d="M769.28 223.81L767.13 227.78L771.43 227.78Z"/>
<path d="M769.4 222.81L767.25 226.79L771.55 226.79Z"/>
<path d="M769.53 222.35L767.38 226.32L771.68 226.32Z"/>
<path d="M769.65 224.32L767.5 228.3L771.8 228.3Z"/>
<path d="M769.77 223.54L767.62 227.52L771.92 227.52Z"/>
<path d="M769.89 224.25L767.74 228.23L772.04 228.23Z"/>
<path d="M770.01 222.53L767.86 226.51L772.16 226.51Z"/>
<path d="M770.13 223.45L767.98 227.43L772.28 227.43Z"/>
<path d="M770.25 223.74L768.1 227.72L772.4 227.72Z"/>
<path d="M770.37 222.85L768.22 226.83L772.52 226.83Z"/>
<path d="M770.49 223.51L768.34 227.49L772.64 227.49Z"/>
<path d="M770.61 224.37L768.46 228.35L772.76 228.35Z"/>
<path d="M770.73 224.66L768.58 228.64L772.88 228.64Z"/>
<path d="M770.85 225.05L768.7 229.02L773 229.02Z"/>
<path d="M770.97 223.5L768.82 227.48L773.12 227.48Z"/>
<path d="M771.09 223.2L768.94 227.17L773.24 227.17Z"/>
<path d="M771.2 224.49L769.05 228.47L773.35 228.47Z"/>
<path d="M771.32 224.81L769.17 228.78L773.47 228.78Z"/>
<path d="M771.44 224.36L769.29 228.34L773.59 228.34Z"/>
<path d="M771.56 223.42L769.41 227.4L773.71 227.4Z"/>
<path d="M771.67 224.81L769.52 228.79L773.82 228.79Z"/>
<path d="M771.79 224.85L769.64 228.83L773.94 228.83Z"/>
<path d="M771.91 224.72L769.76 228.7L774.06 228.7Z"/>
<path d="M772.02 224.07L769.87 228.05L774.17 228.05Z"/>
<path d="M772.14 224.6L769.99 228.58L774.29 228.58Z"/>
<path d="M772.25 224.93L770.1 228.91L774.4 228.91Z"/>
<path d="M772.37 224.07L770.22 228.05L774.52 228.05Z"/>
<path d="M772.49 223.24L770.34 227.22L774.64 227.22Z"/>
<path d="M772.6 224.66L770.45 228.64L774.75 228.64Z"/>
<path d="M772.71 224.76L770.56 228.74L774.86 228.74Z"/>
<path d="M772.83 224.45L770.68 228.43L774.98 228.43Z"/>
<path d="M772.94 225.01L770.79 228.99L775.09 228.99Z"/>
<path d="M773.06 224.04L770.91 228.02L775.21 228.02Z"/>
<path d="M773.17 224.35L771.02 228.32L775.32 228.32Z"/>
<path d="M773.28 224.18L771.13 228.15L775.43 228.15Z"/>
<path d="M773.4 224.71L771.25 228.69L775.55 228.69Z"/>
<path d="M773.51 225.34L771.36 229.32L775.66 229.32Z"/>
<path d="M773.62 224.1L771.47 228.08L775.77 228.08Z"/>
<path d="M773.73 225.55L771.58 229.53L775.88 229.53Z"/>
<path d="M773.85 225.16L771.7 229.14L776 229.14Z"/>
<path d="M773.96 224.63L771.81 228.61L776.11 228.61Z"/>
<path d="M774.07 224.44L771.92 228.42L776.22 228.42Z"/>
<path d="M774.18 225.15L772.03 229.12L776.33 229.12Z"/>
<path d="M774.29 223.81L772.14 227.79L776.44 227.79Z"/>
<path d="M774.4 223.79L772.25 227.77L776.55 227.77Z"/>
<path d="M774.51 223.1L772.36 227.08L776.66 227.08Z"/>
<path d="M774.62 224.02L772.47 228L776.77 228Z"/>
<path d="M774.73 224.51L772.58 228.49L776.88 228.49Z"/>
<path d="M774.84 223.9L772.69 227.88L776.99 227.88Z"/>
<path d="M774.95 223.75L772.8 227.73L777.1 227.73Z"/>
<path d="M775.06 223.26L772.91 227.24L777.21 227.24Z"/>
<path d="M775.17 223.41L773.02 227.39L777.32 227.39Z"/>
<path d="M775.28 222.28L773.13 226.26L777.43 226.26Z"/>
<path d="M775.39 223.8L773.24 227.78L777.54 227.78Z"/>
<path d="M775.5 222.76L773.35 226.74L777.65 226.74Z"/>
<path d="M775.61 222.21L773.46 226.19L777.76 226.19Z"/>
<path d="M775.72 222.35L773.57 226.33L777.87 226.33Z"/>
<path d="M775.82 222.19L773.67 226.17L777.97 226.17Z"/>
<path d="M775.93 223.15L773.78 227.13L778.08 227.13Z"/>
<path d="M776.04 223.14L773.89 227.12L778.19 227.12Z"/>
<path d="M776.15 221.4L774 225.38L778.3 225.38Z"/>
<path d="M776.25 222.71L774.1 226.68L778.4 226.68Z"/>
<path d="M776.36 222.48L774.21 226.46L778.51 226.46Z"/>
<path d="M776.47 221.32L774.32 225.3L778.62 225.3Z"/>
<path d="M776.57 220.5L774.42 224.48L778.72 224.48Z"/>
<path d="M776.68 220.74L774.53 224.72L778.83 224.72Z"/>
<path d="M776.78 220.56L774.63 224.54L778.93 224.54Z"/>
<path d="M776.89 220.93L774.74 224.91L779.04 224.91Z"/>
<path d="M776.99 220.2L774.84 224.18L779.14 224.18Z"/>
<path d="M777.1 218.83L774.95 222.81L779.25 222.81Z"/>
<path d="M777.2 220.01L775.05 223.98L779.35 223.98Z"/>
<path d="M777.31 218.55L775.16 222.53L779.46 222.53Z"/>
<path d="M777.41 219.83L775.26 223.8L779.56 223.8Z"/>
<path d="M777.52 218.13L775.37 222.11L779.67 222.11Z"/>
<path d="M777.62 218.14L775.47 222.12L779.77 222.12Z"/>
<path d="M777.73 217.71L775.58 221.69L779.88 221.69Z"/>
<path d="M777.83 217.57L775.68 221.55L779.98 221.55Z"/>
<path d="M777.93 218.43L775.78 222.41L780.08 222.41Z"/>
<path d="M778.04 217.8L775.89 221.77L780.19 221.77Z"/>
<path d="M778.14 217.29L775.99 221.27L780.29 221.27Z"/>
<path d="M778.24 216.76L776.09 220.73L780.39 220.73Z"/>
<path d="M778.34 215.34L776.19 219.32L780.49 219.32Z"/>
<path d="M778.45 216.01L776.3 219.99L780.6 219.99Z"/>
<path d="M778.55 215.99L776.4 219.97L780.7 219.97Z"/>
</g>
<path d="M461.7 111.8L462.15 111.8L462.61 111.81L463.06 111.81L463.51 111.82L463.96 111.82L464.42 111.83L464.87 111.84L465.32 111.84L465.77 111.85L466.23 111.86L466.68 111.87L467.13 111.88L467.59 111.89L468.04 111.9L468.49 111.91L468.94 111.92L469.4 111.94L469.85 111.95L470.3 111.96L470.75 111.98L471.21 111.99L471.66 112L472.11 112.02L472.57 112.03L473.02 112.05L473.47 112.06L473.92 112.08L474.38 112.1L474.83 112.11L475.28 112.13L475.73 112.15L476.19 112.16L476.64 112.18L477.09 112.2L477.55 112.22L478 112.24L478.45 112.26L478.9 112.27L479.36 112.29L479.81 112.31L480.26 112.33L480.71 112.35L481.17 112.37L481.62 112.39L482.07 112.41L482.52 112.43L482.98 112.45L483.43 112.47L483.88 112.49L484.34 112.51L484.79 112.53L485.24 112.56L485.69 112.58L486.15 112.6L486.6 112.62L487.05 112.64L487.5 112.66L487.96 112.69L488.41 112.71L488.86 112.73L489.32 112.76L489.77 112.79L490.22 112.81L490.67 112.84L491.13 112.87L491.58 112.89L492.03 112.92L492.48 112.95L492.94 112.98L493.39 113.01L493.84 113.04L494.3 113.08L494.75 113.11L495.2 113.14L495.65 113.17L496.11 113.21L496.56 113.24L497.01 113.28L497.46 113.31L497.92 113.35L498.37 113.38L498.82 113.42L499.28 113.46L499.73 113.49L500.18 113.53L500.63 113.57L501.09 113.61L501.54 113.65L501.99 113.69L502.44 113.73L502.9 113.77L503.35 113.81L503.8 113.85L504.26 113.89L504.71 113.94L505.16 113.98L505.61 114.02L506.07 114.06L506.52 114.11L506.97 114.15L507.42 114.2L507.88 114.24L508.33 114.28L508.78 114.33L509.24 114.37L509.69 114.42L510.14 114.47L510.59 114.51L511.05 114.56L511.5 114.61L511.95 114.65L512.4 114.7L512.86 114.75L513.31 114.8L513.76 114.85L514.21 114.9L514.67 114.96L515.12 115.01L515.57 115.07L516.03 115.13L516.48 115.19L516.93 115.25L517.38 115.31L517.84 115.38L518.29 115.44L518.74 115.5L519.19 115.57L519.65 115.63L520.1 115.7L520.55 115.77L521.01 115.84L521.46 115.9L521.91 115.97L522.36 116.04L522.82 116.11L523.27 116.18L523.72 116.25L524.17 116.32L524.63 116.38L525.08 116.45L525.53 116.52L525.99 116.59L526.44 116.65L526.89 116.72L527.34 116.79L527.8 116.85L528.25 116.92L528.7 116.98L529.15 117.05L529.61 117.12L530.06 117.18L530.51 117.25L530.97 117.32L531.42 117.38L531.87 117.45L532.32 117.52L532.78 117.59L533.23 117.66L533.68 117.73L534.13 117.81L534.59 117.88L535.04 117.96L535.49 118.03L535.95 118.11L536.4 118.19L536.85 118.27L537.3 118.36L537.76 118.44L538.21 118.53L538.66 118.62L539.11 118.71L539.57 118.81L540.02 118.9L540.47 119.01L540.92 119.11L541.38 119.23L541.83 119.35L542.28 119.47L542.74 119.6L543.19 119.74L543.64 119.87L544.09 120.01L544.55 120.15L545 120.3L545.45 120.44L545.9 120.58L546.36 120.73L546.81 120.87L547.26 121.01L547.72 121.15L548.17 121.29L548.62 121.43L549.07 121.56L549.53 121.69L549.98 121.82L550.43 121.95L550.88 122.08L551.34 122.2L551.79 122.33L552.24 122.47L552.7 122.6L553.15 122.74L553.6 122.87L554.05 123.02L554.51 123.16L554.96 123.32L555.41 123.47L555.86 123.64L556.32 123.81L556.77 123.99L557.22 124.18L557.68 124.37L558.13 124.58L558.58 124.8L559.03 125.02L559.49 125.25L559.94 125.49L560.39 125.72L560.84 125.97L561.3 126.21L561.75 126.45L562.2 126.7L562.66 126.94L563.11 127.18L563.56 127.42L564.01 127.65L564.47 127.88L564.92 128.11L565.37 128.33L565.82 128.55L566.28 128.77L566.73 128.99L567.18 129.21L567.64 129.43L568.09 129.65L568.54 129.87L568.99 130.09L569.45 130.31L569.9 130.54L570.35 130.76L570.8 130.99L571.26 131.23L571.71 131.46L572.16 131.71L572.62 131.95L573.07 132.2L573.52 132.46L573.97 132.71L574.43 132.97L574.88 133.24L575.33 133.5L575.78 133.77L576.24 134.04L576.69 134.32L577.14 134.59L577.59 134.87L578.05 135.16L578.5 135.45L578.95 135.74L579.41 136.03L579.86 136.33L580.31 136.63L580.76 136.93L581.22 137.24L581.67 137.55L582.12 137.86L582.57 138.19L583.03 138.52L583.48 138.86L583.93 139.2L584.39 139.54L584.84 139.9L585.29 140.25L585.74 140.61L586.2 140.97L586.65 141.33L587.1 141.7L587.55 142.06L588.01 142.43L588.46 142.79L588.91 143.16L589.37 143.52L589.82 143.88L590.27 144.24L590.72 144.6L591.18 144.95L591.63 145.3L592.08 145.65L592.53 146L592.99 146.35L593.44 146.69L593.89 147.04L594.35 147.38L594.8 147.73L595.25 148.08L595.7 148.42L596.16 148.77L596.61 149.12L597.06 149.47L597.51 149.83L597.97 150.18L598.42 150.54L598.87 150.9L599.33 151.27L599.78 151.64L600.23 152.01L600.68 152.38L601.14 152.76L601.59 153.15L602.04 153.54L602.49 153.93L602.95 154.33L603.4 154.73L603.85 155.14L604.31 155.54L604.76 155.96L605.21 156.37L605.66 156.79L606.12 157.22L606.57 157.64L607.02 158.07L607.47 158.5L607.93 158.94L608.38 159.37L608.83 159.81L609.28 160.25L609.74 160.7L610.19 161.14L610.64 161.59L611.1 162.04L611.55 162.49L612 162.94L612.45 163.39L612.91 163.84L613.36 164.3L613.81 164.75L614.26 165.21L614.72 165.67L615.17 166.13L615.62 166.58L616.08 167.04L616.53 167.5L616.98 167.96L617.43 168.41L617.89 168.87L618.34 169.33L618.79 169.79L619.24 170.24L619.7 170.7L620.15 171.15L620.6 171.6L621.06 172.06L621.51 172.51L621.96 172.97L622.41 173.43L622.87 173.89L623.32 174.34L623.77 174.8L624.22 175.26L624.68 175.72L625.13 176.19L625.58 176.65L626.04 177.11L626.49 177.58L626.94 178.04L627.39 178.51L627.85 178.98L628.3 179.45L628.75 179.92L629.2 180.39L629.66 180.86L630.11 181.34L630.56 181.81L631.02 182.29L631.47 182.77L631.92 183.24L632.37 183.73L632.83 184.21L633.28 184.69L633.73 185.19L634.18 185.71L634.64 186.23L635.09 186.77L635.54 187.3L636 187.84L636.45 188.38L636.9 188.91L637.35 189.43L637.81 189.94L638.26 190.43L638.71 190.9L639.16 191.35L639.62 191.77L640.07 192.16L640.52 192.53L640.97 192.89L641.43 193.24L641.88 193.59L642.33 193.92L642.79 194.24L643.24 194.56L643.69 194.87L644.14 195.17L644.6 195.47L645.05 195.76L645.5 196.05L645.95 196.33L646.41 196.6L646.86 196.88L647.31 197.15L647.77 197.42L648.22 197.68L648.67 197.95L649.12 198.21L649.58 198.48L650.03 198.74L650.48 199.01L650.93 199.28L651.39 199.55L651.84 199.82L652.29 200.1L652.75 200.38L653.2 200.66L653.65 200.95L654.1 201.23L654.56 201.52L655.01 201.8L655.46 202.09L655.91 202.37L656.37 202.66L656.82 202.94L657.27 203.22L657.73 203.51L658.18 203.79L658.63 204.07L659.08 204.35L659.54 204.63L659.99 204.91L660.44 205.19L660.89 205.47L661.35 205.75L661.8 206.02L662.25 206.3L662.71 206.57L663.16 206.85L663.61 207.12L664.06 207.39L664.52 207.66L664.97 207.93L665.42 208.2L665.87 208.47L666.33 208.73L666.78 209L667.23 209.26L667.69 209.52L668.14 209.79L668.59 210.05L669.04 210.31L669.5 210.57L669.95 210.82L670.4 211.08L670.85 211.34L671.31 211.59L671.76 211.85L672.21 212.1L672.66 212.35L673.12 212.61L673.57 212.86L674.02 213.11L674.48 213.36L674.93 213.61L675.38 213.87L675.83 214.12L676.29 214.37L676.74 214.62L677.19 214.87L677.64 215.12L678.1 215.37L678.55 215.62L679 215.87L679.46 216.12L679.91 216.37L680.36 216.62L680.81 216.87L681.27 217.12L681.72 217.37L682.17 217.62L682.62 217.87L683.08 218.11L683.53 218.36L683.98 218.61L684.44 218.86L684.89 219.1L685.34 219.35L685.79 219.6L686.25 219.84L686.7 220.09L687.15 220.33L687.6 220.58L688.06 220.82L688.51 221.07L688.96 221.31L689.42 221.56L689.87 221.8L690.32 222.05L690.77 222.29L691.23 222.54L691.68 222.78L692.13 223.03L692.58 223.27L693.04 223.52L693.49 223.76L693.94 224.01L694.4 224.25L694.85 224.5L695.3 224.74L695.75 224.99L696.21 225.23L696.66 225.48L697.11 225.73L697.56 225.97L698.02 226.22L698.47 226.46L698.92 226.71L699.38 226.96L699.83 227.21L700.28 227.45L700.73 227.7L701.19 227.95L701.64 228.21L702.09 228.46L702.54 228.72L703 228.97L703.45 229.23L703.9 229.48L704.35 229.74L704.81 230L705.26 230.26L705.71 230.51L706.17 230.77L706.62 231.02L707.07 231.28L707.52 231.53L707.98 231.79L708.43 232.04L708.88 232.29L709.33 232.53L709.79 232.78L710.24 233.02L710.69 233.26L711.15 233.5L711.6 233.74L712.05 233.97L712.5 234.2L712.96 234.43L713.41 234.65L713.86 234.88L714.31 235.12L714.77 235.35L715.22 235.58L715.67 235.82L716.13 236.05L716.58 236.28L717.03 236.51L717.48 236.72L717.94 236.94L718.39 237.14L718.84 237.34L719.29 237.52L719.75 237.69L720.2 237.85L720.65 238L721.11 238.13L721.56 238.26L722.01 238.38L722.46 238.51L722.92 238.64L723.37 238.76L723.82 238.88L724.27 239L724.73 239.1L725.18 239.21L725.63 239.3L726.09 239.38L726.54 239.45L726.99 239.51L727.44 239.55L727.9 239.58L728.35 239.6L728.8 239.6L729.25 239.57L729.71 239.53L730.16 239.47L730.61 239.4L731.07 239.31L731.52 239.2L731.97 239.09L732.42 238.97L732.88 238.83L733.33 238.69L733.78 238.54L734.23 238.39L734.69 238.23L735.14 238.02L735.59 237.77L736.04 237.47L736.5 237.13L736.95 236.76L737.4 236.37L737.86 235.96L738.31 235.54L738.76 235.11L739.21 234.69L739.67 234.22L740.12 233.68L740.57 233.13L741.02 232.59L741.48 232.12L741.93 231.7L742.38 231.29L742.84 230.89L743.29 230.51L743.74 230.13L744.19 229.76L744.65 229.41L745.1 229.06L745.55 228.73L746 228.41L746.46 228.11L746.91 227.81L747.36 227.53L747.82 227.26L748.27 227.01L748.72 226.77L749.17 226.54L749.63 226.33L750.08 226.12L750.53 225.93L750.98 225.74L751.44 225.55L751.89 225.37L752.34 225.18L752.8 225L753.25 224.81L753.7 224.61L754.15 224.41L754.61 224.2L755.06 223.97L755.51 223.72L755.96 223.46L756.42 223.2L756.87 222.94L757.32 222.68L757.78 222.44L758.23 222.22L758.68 222.02L759.13 221.85L759.59 221.69L760.04 221.52L760.49 221.36L760.94 221.21L761.4 221.08L761.85 220.98L762.3 220.92L762.76 220.9L763.21 220.98L763.66 221.18L764.11 221.48L764.57 221.85L765.02 222.27L765.47 222.73L765.92 223.19L766.38 223.64L766.83 224.06L767.28 224.43L767.73 224.72L768.19 224.98L768.64 225.25L769.09 225.52L769.55 225.79L770 226.04L770.45 226.28L770.9 226.48L771.36 226.66L771.81 226.79L772.26 226.87L772.71 226.9L773.17 226.85L773.62 226.72L774.07 226.51L774.53 226.23L774.98 225.9L775.43 225.54L775.88 225.11L776.34 224.4L776.79 223.41L777.24 222.2L777.69 220.81L778.15 219.32L778.6 218.8" stroke="#000000" stroke-dasharray="0.75 1.15"/>
<g stroke="#0000ff" stroke-width="0.9">
<path d="M482.38 169.55L480.72 171.5L482.38 173.45L484.03 171.5Z"/>
<path d="M508.42 169.55L506.77 171.5L508.42 173.45L510.08 171.5Z"/>
<path d="M525.58 169.95L523.92 171.9L525.58 173.85L527.24 171.9Z"/>
<path d="M538.4 170.54L536.74 172.49L538.4 174.44L540.05 172.49Z"/>
<path d="M548.63 170.95L546.97 172.9L548.63 174.85L550.29 172.9Z"/>
<path d="M557.15 170.45L555.49 172.4L557.15 174.35L558.81 172.4Z"/>
<path d="M564.45 171.42L562.79 173.37L564.45 175.32L566.1 173.37Z"/>
<path d="M570.83 172.04L569.17 173.99L570.83 175.94L572.49 173.99Z"/>
<path d="M576.5 172.38L574.84 174.33L576.5 176.28L578.16 174.33Z"/>
<path d="M581.6 173.24L579.95 175.19L581.6 177.14L583.26 175.19Z"/>
<path d="M586.24 173.65L584.58 175.6L586.24 177.55L587.9 175.6Z"/>
<path d="M590.49 174.38L588.84 176.33L590.49 178.28L592.15 176.33Z"/>
<path d="M594.42 175.15L592.76 177.1L594.42 179.05L596.08 177.1Z"/>
<path d="M598.06 175.62L596.4 177.57L598.06 179.52L599.72 177.57Z"/>
<path d="M601.46 176.31L599.81 178.26L601.46 180.21L603.12 178.26Z"/>
<path d="M604.65 176.99L602.99 178.94L604.65 180.89L606.31 178.94Z"/>
<path d="M607.65 177.46L605.99 179.41L607.65 181.36L609.31 179.41Z"/>
<path d="M610.49 177.54L608.83 179.49L610.49 181.44L612.14 179.49Z"/>
<path d="M613.17 178.6L611.51 180.55L613.17 182.5L614.83 180.55Z"/>
<path d="M615.72 179.1L614.06 181.05L615.72 183L617.38 181.05Z"/>
<path d="M618.15 178.8L616.49 180.75L618.15 182.7L619.81 180.75Z"/>
<path d="M620.47 179.8L618.81 181.75L620.47 183.7L622.12 181.75Z"/>
<path d="M622.68 179.93L621.03 181.88L622.68 183.83L624.34 181.88Z"/>
<path d="M624.81 181.07L623.15 183.02L624.81 184.97L626.47 183.02Z"/>
<path d="M626.85 181.97L625.19 183.92L626.85 185.87L628.51 183.92Z"/>
<path d="M628.81 181.74L627.15 183.69L628.81 185.64L630.47 183.69Z"/>
<path d="M630.7 181.78L629.04 183.73L630.7 185.68L632.36 183.73Z"/>
<path d="M632.52 184.06L630.86 186.01L632.52 187.96L634.18 186.01Z"/>
<path d="M634.28 184.11L632.62 186.06L634.28 188.01L635.94 186.06Z"/>
<path d="M635.98 185.23L634.32 187.18L635.98 189.13L637.64 187.18Z"/>
<path d="M637.62 184.14L635.97 186.09L637.62 188.04L639.28 186.09Z"/>
<path d="M639.22 186.09L637.56 188.04L639.22 189.99L640.88 188.04Z"/>
<path d="M640.76 187.33L639.11 189.28L640.76 191.23L642.42 189.28Z"/>
<path d="M642.26 187.97L640.61 189.92L642.26 191.87L643.92 189.92Z"/>
<path d="M643.72 187.28L642.06 189.23L643.72 191.18L645.38 189.23Z"/>
<path d="M645.14 188.32L643.48 190.27L645.14 192.22L646.79 190.27Z"/>
<path d="M646.52 188.79L644.86 190.74L646.52 192.69L648.17 190.74Z"/>
<path d="M647.86 190.32L646.2 192.27L647.86 194.22L649.51 192.27Z"/>
<path d="M649.16 191.11L647.51 193.06L649.16 195.01L650.82 193.06Z"/>
<path d="M650.44 191.19L648.78 193.14L650.44 195.09L652.1 193.14Z"/>
<path d="M651.68 190.89L650.03 192.84L651.68 194.79L653.34 192.84Z"/>
<path d="M652.9 193.05L651.24 195L652.9 196.95L654.56 195Z"/>
<path d="M654.08 192.89L652.43 194.84L654.08 196.79L655.74 194.84Z"/>
<path d="M655.24 194.34L653.58 196.29L655.24 198.24L656.9 196.29Z"/>
<path d="M656.38 194.77L654.72 196.72L656.38 198.67L658.03 196.72Z"/>
<path d="M657.48 196.41L655.83 198.36L657.48 200.31L659.14 198.36Z"/>
<path d="M658.57 196.74L656.91 198.69L658.57 200.64L660.23 198.69Z"/>
<path d="M659.63 196.3L657.97 198.25L659.63 200.2L661.29 198.25Z"/>
<path d="M660.67 197.51L659.01 199.46L660.67 201.41L662.33 199.46Z"/>
<path d="M661.69 199.14L660.03 201.09L661.69 203.04L663.35 201.09Z"/>
<path d="M662.69 198.15L661.03 200.1L662.69 202.05L664.35 200.1Z"/>
<path d="M663.67 199.43L662.02 201.38L663.67 203.33L665.33 201.38Z"/>
<path d="M664.63 200.53L662.98 202.48L664.63 204.43L666.29 202.48Z"/>
<path d="M665.58 201.13L663.92 203.08L665.58 205.03L667.24 203.08Z"/>
<path d="M666.51 201.14L664.85 203.09L666.51 205.04L668.16 203.09Z"/>
<path d="M667.42 200.38L665.76 202.33L667.42 204.28L669.07 202.33Z"/>
<path d="M668.31 200.93L666.65 202.88L668.31 204.83L669.97 202.88Z"/>
<path d="M669.19 202.48L667.53 204.43L669.19 206.38L670.85 204.43Z"/>
<path d="M670.06 203.07L668.4 205.02L670.06 206.97L671.71 205.02Z"/>
<path d="M670.91 205.05L669.25 207L670.91 208.95L672.56 207Z"/>
<path d="M671.74 203.13L670.08 205.08L671.74 207.03L673.4 205.08Z"/>
<path d="M672.56 204.98L670.91 206.93L672.56 208.88L674.22 206.93Z"/>
<path d="M673.37 205.16L671.72 207.11L673.37 209.06L675.03 207.11Z"/>
<path d="M674.17 203.88L672.51 205.83L674.17 207.78L675.83 205.83Z"/>
<path d="M674.95 204.89L673.3 206.84L674.95 208.79L676.61 206.84Z"/>
<path d="M675.73 205.98L674.07 207.93L675.73 209.88L677.38 207.93Z"/>
<path d="M676.49 205.9L674.83 207.85L676.49 209.8L678.15 207.85Z"/>
<path d="M677.24 206.51L675.58 208.46L677.24 210.41L678.9 208.46Z"/>
<path d="M677.98 207.31L676.32 209.26L677.98 211.21L679.63 209.26Z"/>
<path d="M678.71 206.76L677.05 208.71L678.71 210.66L680.36 208.71Z"/>
<path d="M679.42 207.98L677.77 209.93L679.42 211.88L681.08 209.93Z"/>
<path d="M680.13 207.51L678.47 209.46L680.13 211.41L681.79 209.46Z"/>
<path d="M680.83 207.86L679.17 209.81L680.83 211.76L682.49 209.81Z"/>
<path d="M681.52 208.89L679.86 210.84L681.52 212.79L683.18 210.84Z"/>
<path d="M682.2 208.38L680.54 210.33L682.2 212.28L683.86 210.33Z"/>
<path d="M682.87 209.25L681.21 211.2L682.87 213.15L684.53 211.2Z"/>
<path d="M683.53 210.43L681.88 212.38L683.53 214.33L685.19 212.38Z"/>
<path d="M684.19 209.6L682.53 211.55L684.19 213.5L685.84 211.55Z"/>
<path d="M684.83 209.76L683.17 211.71L684.83 213.66L686.49 211.71Z"/>
<path d="M685.47 210.67L683.81 212.62L685.47 214.57L687.13 212.62Z"/>
<path d="M686.1 210.19L684.44 212.14L686.1 214.09L687.76 212.14Z"/>
<path d="M686.72 211.49L685.06 213.44L686.72 215.39L688.38 213.44Z"/>
<path d="M687.34 210.12L685.68 212.07L687.34 214.02L688.99 212.07Z"/>
<path d="M687.94 211.74L686.28 213.69L687.94 215.64L689.6 213.69Z"/>
<path d="M688.54 211.24L686.88 213.19L688.54 215.14L690.2 213.19Z"/>
<path d="M689.14 211.33L687.48 213.28L689.14 215.23L690.79 213.28Z"/>
<path d="M689.72 213.42L688.06 215.37L689.72 217.32L691.38 215.37Z"/>
<path d="M690.3 211.89L688.64 213.84L690.3 215.79L691.96 213.84Z"/>
<path d="M690.87 214.01L689.22 215.96L690.87 217.91L692.53 215.96Z"/>
<path d="M691.44 213.54L689.78 215.49L691.44 217.44L693.1 215.49Z"/>
<path d="M692 214.39L690.34 216.34L692 218.29L693.66 216.34Z"/>
<path d="M692.55 213L690.9 214.95L692.55 216.9L694.21 214.95Z"/>
<path d="M693.1 214.82L691.45 216.77L693.1 218.72L694.76 216.77Z"/>
<path d="M693.65 215.31L691.99 217.26L693.65 219.21L695.3 217.26Z"/>
<path d="M694.18 214.52L692.52 216.47L694.18 218.42L695.84 216.47Z"/>
<path d="M694.71 214.83L693.06 216.78L694.71 218.73L696.37 216.78Z"/>
<path d="M695.24 216.96L693.58 218.91L695.24 220.86L696.9 218.91Z"/>
<path d="M695.76 215.71L694.1 217.66L695.76 219.61L697.42 217.66Z"/>
<path d="M696.27 215.64L694.62 217.59L696.27 219.54L697.93 217.59Z"/>
<path d="M696.78 215.86L695.13 217.81L696.78 219.76L698.44 217.81Z"/>
<path d="M697.29 216.97L695.63 218.92L697.29 220.87L698.95 218.92Z"/>
<path d="M697.79 217.25L696.13 219.2L697.79 221.15L699.45 219.2Z"/>
<path d="M698.28 217.5L696.63 219.45L698.28 221.4L699.94 219.45Z"/>
<path d="M698.77 218.93L697.12 220.88L698.77 222.83L700.43 220.88Z"/>
<path d="M699.26 217.83L697.6 219.78L699.26 221.73L700.92 219.78Z"/>
<path d="M699.74 218.71L698.08 220.66L699.74 222.61L701.4 220.66Z"/>
<path d="M700.22 219.71L698.56 221.66L700.22 223.61L701.88 221.66Z"/>
<path d="M700.69 218.29L699.03 220.24L700.69 222.19L702.35 220.24Z"/>
<path d="M701.16 220.02L699.5 221.97L701.16 223.92L702.82 221.97Z"/>
<path d="M701.62 220.88L699.96 222.83L701.62 224.78L703.28 222.83Z"/>
<path d="M702.08 218.94L700.42 220.89L702.08 222.84L703.74 220.89Z"/>
<path d="M702.54 219.41L700.88 221.36L702.54 223.31L704.19 221.36Z"/>
<path d="M702.99 219.74L701.33 221.69L702.99 223.64L704.65 221.69Z"/>
<path d="M703.43 219.46L701.78 221.41L703.43 223.36L705.09 221.41Z"/>
<path d="M703.88 221.35L702.22 223.3L703.88 225.25L705.54 223.3Z"/>
<path d="M704.32 220.01L702.66 221.96L704.32 223.91L705.98 221.96Z"/>
<path d="M704.75 221.93L703.1 223.88L704.75 225.83L706.41 223.88Z"/>
<path d="M705.19 222.87L703.53 224.82L705.19 226.77L706.84 224.82Z"/>
<path d="M705.61 220.99L703.96 222.94L705.61 224.89L707.27 222.94Z"/>
<path d="M706.04 222.16L704.38 224.11L706.04 226.06L707.7 224.11Z"/>
<path d="M706.46 221.3L704.8 223.25L706.46 225.2L708.12 223.25Z"/>
<path d="M706.88 223.44L705.22 225.39L706.88 227.34L708.54 225.39Z"/>
<path d="M707.29 222.63L705.64 224.58L707.29 226.53L708.95 224.58Z"/>
<path d="M707.7 223.21L706.05 225.16L707.7 227.11L709.36 225.16Z"/>
<path d="M708.11 223.67L706.46 225.62L708.11 227.57L709.77 225.62Z"/>
<path d="M708.52 224.25L706.86 226.2L708.52 228.15L710.17 226.2Z"/>
<path d="M708.92 223.86L707.26 225.81L708.92 227.76L710.58 225.81Z"/>
<path d="M709.32 224.34L707.66 226.29L709.32 228.24L710.97 226.29Z"/>
<path d="M709.71 224.17L708.05 226.12L709.71 228.07L711.37 226.12Z"/>
<path d="M710.1 224.85L708.45 226.8L710.1 228.75L711.76 226.8Z"/>
<path d="M710.49 224.17L708.84 226.12L710.49 228.07L712.15 226.12Z"/>
<path d="M710.88 225.24L709.22 227.19L710.88 229.14L712.54 227.19Z"/>
<path d="M711.26 224.05L709.61 226L711.26 227.95L712.92 226Z"/>
<path d="M711.64 225.26L709.99 227.21L711.64 229.16L713.3 227.21Z"/>
<path d="M712.02 227.15L710.36 229.1L712.02 231.05L713.68 229.1Z"/>
<path d="M712.4 226.05L710.74 228L712.4 229.95L714.05 228Z"/>
<path d="M712.77 225.3L711.11 227.25L712.77 229.2L714.43 227.25Z"/>
<path d="M713.14 226.55L711.48 228.5L713.14 230.45L714.8 228.5Z"/>
<path d="M713.51 225.87L711.85 227.82L713.51 229.77L715.16 227.82Z"/>
<path d="M713.87 225.58L712.21 227.53L713.87 229.48L715.53 227.53Z"/>
<path d="M714.23 226.4L712.57 228.35L714.23 230.3L715.89 228.35Z"/>
<path d="M714.59 227.61L712.93 229.56L714.59 231.51L716.25 229.56Z"/>
<path d="M714.95 227.54L713.29 229.49L714.95 231.44L716.6 229.49Z"/>
<path d="M715.3 227.37L713.64 229.32L715.3 231.27L716.96 229.32Z"/>
<path d="M715.65 226.96L714 228.91L715.65 230.86L717.31 228.91Z"/>
<path d="M716 227.03L714.34 228.98L716 230.93L717.66 228.98Z"/>
<path d="M716.35 228.89L714.69 230.84L716.35 232.79L718.01 230.84Z"/>
<path d="M716.69 228.28L715.04 230.23L716.69 232.18L718.35 230.23Z"/>
<path d="M717.04 227.6L715.38 229.55L717.04 231.5L718.69 229.55Z"/>
<path d="M717.38 226.94L715.72 228.89L717.38 230.84L719.03 228.89Z"/>
<path d="M717.71 227.61L716.06 229.56L717.71 231.51L719.37 229.56Z"/>
<path d="M718.05 230.44L716.39 232.39L718.05 234.34L719.71 232.39Z"/>
<path d="M718.38 228.04L716.72 229.99L718.38 231.94L720.04 229.99Z"/>
<path d="M718.71 228.93L717.06 230.88L718.71 232.83L720.37 230.88Z"/>
<path d="M719.04 229.26L717.38 231.21L719.04 233.16L720.7 231.21Z"/>
<path d="M719.37 229.12L717.71 231.07L719.37 233.02L721.03 231.07Z"/>
<path d="M719.69 229.15L718.04 231.1L719.69 233.05L721.35 231.1Z"/>
<path d="M720.02 228.49L718.36 230.44L720.02 232.39L721.67 230.44Z"/>
<path d="M720.34 228.82L718.68 230.77L720.34 232.72L722 230.77Z"/>
<path d="M720.66 230.84L719 232.79L720.66 234.74L722.31 232.79Z"/>
<path d="M720.97 229.21L719.32 231.16L720.97 233.11L722.63 231.16Z"/>
<path d="M721.29 230.42L719.63 232.37L721.29 234.32L722.95 232.37Z"/>
<path d="M721.6 228.73L719.94 230.68L721.6 232.63L723.26 230.68Z"/>
<path d="M721.91 229.81L720.25 231.76L721.91 233.71L723.57 231.76Z"/>
<path d="M722.22 230.27L720.56 232.22L722.22 234.17L723.88 232.22Z"/>
<path d="M722.53 230.9L720.87 232.85L722.53 234.8L724.19 232.85Z"/>
<path d="M722.83 229.47L721.18 231.42L722.83 233.37L724.49 231.42Z"/>
<path d="M723.14 230.75L721.48 232.7L723.14 234.65L724.79 232.7Z"/>
<path d="M723.44 230.68L721.78 232.63L723.44 234.58L725.1 232.63Z"/>
<path d="M723.74 229.97L722.08 231.92L723.74 233.87L725.4 231.92Z"/>
<path d="M724.04 230.89L722.38 232.84L724.04 234.79L725.69 232.84Z"/>
<path d="M724.33 230L722.68 231.95L724.33 233.9L725.99 231.95Z"/>
<path d="M724.63 230.13L722.97 232.08L724.63 234.03L726.29 232.08Z"/>
<path d="M724.92 230.73L723.26 232.68L724.92 234.63L726.58 232.68Z"/>
<path d="M725.21 228.89L723.55 230.84L725.21 232.79L726.87 230.84Z"/>
<path d="M725.5 230.76L723.84 232.71L725.5 234.66L727.16 232.71Z"/>
<path d="M725.79 230.18L724.13 232.13L725.79 234.08L727.45 232.13Z"/>
<path d="M726.08 229.88L724.42 231.83L726.08 233.78L727.73 231.83Z"/>
<path d="M726.36 230.63L724.7 232.58L726.36 234.53L728.02 232.58Z"/>
<path d="M726.64 231.48L724.99 233.43L726.64 235.38L728.3 233.43Z"/>
<path d="M726.93 230.67L725.27 232.62L726.93 234.57L728.58 232.62Z"/>
<path d="M727.21 231.83L725.55 233.78L727.21 235.73L728.86 233.78Z"/>
<path d="M727.49 230.12L725.83 232.07L727.49 234.02L729.14 232.07Z"/>
<path d="M727.76 229.99L726.1 231.94L727.76 233.89L729.42 231.94Z"/>
<path d="M728.04 231.96L726.38 233.91L728.04 235.86L729.7 233.91Z"/>
<path d="M728.31 231.11L726.65 233.06L728.31 235.01L729.97 233.06Z"/>
<path d="M728.58 231.43L726.93 233.38L728.58 235.33L730.24 233.38Z"/>
<path d="M728.86 230.13L727.2 232.08L728.86 234.03L730.51 232.08Z"/>
<path d="M729.13 231.2L727.47 233.15L729.13 235.1L730.78 233.15Z"/>
<path d="M729.39 230.75L727.74 232.7L729.39 234.65L731.05 232.7Z"/>
<path d="M729.66 230.94L728 232.89L729.66 234.84L731.32 232.89Z"/>
<path d="M729.93 230.41L728.27 232.36L729.93 234.31L731.58 232.36Z"/>
<path d="M730.19 231.14L728.53 233.09L730.19 235.04L731.85 233.09Z"/>
<path d="M730.45 229.75L728.8 231.7L730.45 233.65L732.11 231.7Z"/>
<path d="M730.72 229.43L729.06 231.38L730.72 233.33L732.37 231.38Z"/>
<path d="M730.98 228.96L729.32 230.91L730.98 232.86L732.63 230.91Z"/>
<path d="M731.23 230.7L729.58 232.65L731.23 234.6L732.89 232.65Z"/>
<path d="M731.49 229.26L729.83 231.21L731.49 233.16L733.15 231.21Z"/>
<path d="M731.75 228.93L730.09 230.88L731.75 232.83L733.41 230.88Z"/>
<path d="M732 228.89L730.35 230.84L732 232.79L733.66 230.84Z"/>
<path d="M732.26 229.12L730.6 231.07L732.26 233.02L733.91 231.07Z"/>
<path d="M732.51 228.42L730.85 230.37L732.51 232.32L734.17 230.37Z"/>
<path d="M732.76 228.99L731.1 230.94L732.76 232.89L734.42 230.94Z"/>
<path d="M733.01 228.64L731.35 230.59L733.01 232.54L734.67 230.59Z"/>
<path d="M733.26 228.58L731.6 230.53L733.26 232.48L734.92 230.53Z"/>
<path d="M733.51 228.18L731.85 230.13L733.51 232.08L735.16 230.13Z"/>
<path d="M733.75 228.75L732.1 230.7L733.75 232.65L735.41 230.7Z"/>
<path d="M734 228.26L732.34 230.21L734 232.16L735.66 230.21Z"/>
<path d="M734.24 228.52L732.58 230.47L734.24 232.42L735.9 230.47Z"/>
<path d="M734.49 228.45L732.83 230.4L734.49 232.35L736.14 230.4Z"/>
<path d="M734.73 228.34L733.07 230.29L734.73 232.24L736.38 230.29Z"/>
<path d="M734.97 226.39L733.31 228.34L734.97 230.29L736.62 228.34Z"/>
<path d="M735.21 227.36L733.55 229.31L735.21 231.26L736.86 229.31Z"/>
<path d="M735.44 226.98L733.79 228.93L735.44 230.88L737.1 228.93Z"/>
<path d="M735.68 227.88L734.02 229.83L735.68 231.78L737.34 229.83Z"/>
<path d="M735.92 226.03L734.26 227.98L735.92 229.93L737.58 227.98Z"/>
<path d="M736.15 226.42L734.5 228.37L736.15 230.32L737.81 228.37Z"/>
<path d="M736.39 226.51L734.73 228.46L736.39 230.41L738.04 228.46Z"/>
<path d="M736.62 226.26L734.96 228.21L736.62 230.16L738.28 228.21Z"/>
<path d="M736.85 226.98L735.19 228.93L736.85 230.88L738.51 228.93Z"/>
<path d="M737.08 225.76L735.42 227.71L737.08 229.66L738.74 227.71Z"/>
<path d="M737.31 226.53L735.65 228.48L737.31 230.43L738.97 228.48Z"/>
<path d="M737.54 224.62L735.88 226.57L737.54 228.52L739.2 226.57Z"/>
<path d="M737.77 224.17L736.11 226.12L737.77 228.07L739.43 226.12Z"/>
<path d="M738 226.09L736.34 228.04L738 229.99L739.65 228.04Z"/>
<path d="M738.22 225.35L736.56 227.3L738.22 229.25L739.88 227.3Z"/>
<path d="M738.45 225.19L736.79 227.14L738.45 229.09L740.1 227.14Z"/>
<path d="M738.67 224.75L737.01 226.7L738.67 228.65L740.33 226.7Z"/>
<path d="M738.89 224.82L737.23 226.77L738.89 228.72L740.55 226.77Z"/>
<path d="M739.11 223.46L737.46 225.41L739.11 227.36L740.77 225.41Z"/>
<path d="M739.33 224.82L737.68 226.77L739.33 228.72L740.99 226.77Z"/>
<path d="M739.55 223.62L737.9 225.57L739.55 227.52L741.21 225.57Z"/>
<path d="M739.77 224.52L738.12 226.47L739.77 228.42L741.43 226.47Z"/>
<path d="M739.99 223.74L738.33 225.69L739.99 227.64L741.65 225.69Z"/>
<path d="M740.21 222.15L738.55 224.1L740.21 226.05L741.87 224.1Z"/>
<path d="M740.42 222.48L738.77 224.43L740.42 226.38L742.08 224.43Z"/>
<path d="M740.64 224.02L738.98 225.97L740.64 227.92L742.3 225.97Z"/>
<path d="M740.85 222.99L739.2 224.94L740.85 226.89L742.51 224.94Z"/>
<path d="M741.07 222.66L739.41 224.61L741.07 226.56L742.72 224.61Z"/>
<path d="M741.28 222.97L739.62 224.92L741.28 226.87L742.94 224.92Z"/>
<path d="M741.49 222.36L739.83 224.31L741.49 226.26L743.15 224.31Z"/>
<path d="M741.7 222.14L740.04 224.09L741.7 226.04L743.36 224.09Z"/>
<path d="M741.91 222.45L740.25 224.4L741.91 226.35L743.57 224.4Z"/>
<path d="M742.12 222.34L740.46 224.29L742.12 226.24L743.78 224.29Z"/>
<path d="M742.33 223.16L740.67 225.11L742.33 227.06L743.99 225.11Z"/>
<path d="M742.54 221.99L740.88 223.94L742.54 225.89L744.19 223.94Z"/>
<path d="M742.74 223.14L741.08 225.09L742.74 227.04L744.4 225.09Z"/>
<path d="M742.95 222.94L741.29 224.89L742.95 226.84L744.61 224.89Z"/>
<path d="M743.15 222.75L741.49 224.7L743.15 226.65L744.81 224.7Z"/>
<path d="M743.36 222.15L741.7 224.1L743.36 226.05L745.01 224.1Z"/>
<path d="M743.56 221.36L741.9 223.31L743.56 225.26L745.22 223.31Z"/>
<path d="M743.76 221.23L742.1 223.18L743.76 225.13L745.42 223.18Z"/>
<path d="M743.96 220.9L742.31 222.85L743.96 224.8L745.62 222.85Z"/>
<path d="M744.16 220.36L742.51 222.31L744.16 224.26L745.82 222.31Z"/>
<path d="M744.36 220.69L742.71 222.64L744.36 224.59L746.02 222.64Z"/>
<path d="M744.56 220.16L742.91 222.11L744.56 224.06L746.22 222.11Z"/>
<path d="M744.76 221.63L743.1 223.58L744.76 225.53L746.42 223.58Z"/>
<path d="M744.96 220.73L743.3 222.68L744.96 224.63L746.62 222.68Z"/>
<path d="M745.16 219.91L743.5 221.86L745.16 223.81L746.81 221.86Z"/>
<path d="M745.35 218.76L743.69 220.71L745.35 222.66L747.01 220.71Z"/>
<path d="M745.55 219.94L743.89 221.89L745.55 223.84L747.21 221.89Z"/>
<path d="M745.74 219.57L744.08 221.52L745.74 223.47L747.4 221.52Z"/>
<path d="M745.94 218.98L744.28 220.93L745.94 222.88L747.59 220.93Z"/>
<path d="M746.13 218.83L744.47 220.78L746.13 222.73L747.79 220.78Z"/>
<path d="M746.32 217.94L744.66 219.89L746.32 221.84L747.98 219.89Z"/>
<path d="M746.51 219.8L744.86 221.75L746.51 223.7L748.17 221.75Z"/>
<path d="M746.7 219.24L745.05 221.19L746.7 223.14L748.36 221.19Z"/>
<path d="M746.89 220.99L745.24 222.94L746.89 224.89L748.55 222.94Z"/>
<path d="M747.08 219.06L745.43 221.01L747.08 222.96L748.74 221.01Z"/>
<path d="M747.27 218.87L745.62 220.82L747.27 222.77L748.93 220.82Z"/>
<path d="M747.46 219.89L745.8 221.84L747.46 223.79L749.12 221.84Z"/>
<path d="M747.65 218.87L745.99 220.82L747.65 222.77L749.31 220.82Z"/>
<path d="M747.84 218.8L746.18 220.75L747.84 222.7L749.49 220.75Z"/>
<path d="M748.02 218.33L746.36 220.28L748.02 222.23L749.68 220.28Z"/>
<path d="M748.21 218.07L746.55 220.02L748.21 221.97L749.86 220.02Z"/>
<path d="M748.39 219.46L746.73 221.41L748.39 223.36L750.05 221.41Z"/>
<path d="M748.58 219.03L746.92 220.98L748.58 222.93L750.23 220.98Z"/>
<path d="M748.76 219.45L747.1 221.4L748.76 223.35L750.42 221.4Z"/>
<path d="M748.94 217.92L747.28 219.87L748.94 221.82L750.6 219.87Z"/>
<path d="M749.12 218.11L747.47 220.06L749.12 222.01L750.78 220.06Z"/>
<path d="M749.31 217.39L747.65 219.34L749.31 221.29L750.96 219.34Z"/>
<path d="M749.49 218.61L747.83 220.56L749.49 222.51L751.14 220.56Z"/>
<path d="M749.67 216.89L748.01 218.84L749.67 220.79L751.32 218.84Z"/>
<path d="M749.85 218.19L748.19 220.14L749.85 222.09L751.5 220.14Z"/>
<path d="M750.03 218.49L748.37 220.44L750.03 222.39L751.68 220.44Z"/>
<path d="M750.2 218.64L748.55 220.59L750.2 222.54L751.86 220.59Z"/>
<path d="M750.38 216.93L748.72 218.88L750.38 220.83L752.04 218.88Z"/>
<path d="M750.56 218.29L748.9 220.24L750.56 222.19L752.22 220.24Z"/>
<path d="M750.73 216.96L749.08 218.91L750.73 220.86L752.39 218.91Z"/>
<path d="M750.91 216.86L749.25 218.81L750.91 220.76L752.57 218.81Z"/>
<path d="M751.09 216.4L749.43 218.35L751.09 220.3L752.74 218.35Z"/>
<path d="M751.26 218.07L749.6 220.02L751.26 221.97L752.92 220.02Z"/>
<path d="M751.43 218.36L749.78 220.31L751.43 222.26L753.09 220.31Z"/>
<path d="M751.61 216.72L749.95 218.67L751.61 220.62L753.27 218.67Z"/>
<path d="M751.78 216.55L750.12 218.5L751.78 220.45L753.44 218.5Z"/>
<path d="M751.95 216.78L750.3 218.73L751.95 220.68L753.61 218.73Z"/>
<path d="M752.12 218.71L750.47 220.66L752.12 222.61L753.78 220.66Z"/>
<path d="M752.3 217.59L750.64 219.54L752.3 221.49L753.95 219.54Z"/>
<path d="M752.47 216.45L750.81 218.4L752.47 220.35L754.12 218.4Z"/>
<path d="M752.64 215.51L750.98 217.46L752.64 219.41L754.29 217.46Z"/>
<path d="M752.81 216.23L751.15 218.18L752.81 220.13L754.46 218.18Z"/>
<path d="M752.97 217.47L751.32 219.42L752.97 221.37L754.63 219.42Z"/>
<path d="M753.14 217.88L751.49 219.83L753.14 221.78L754.8 219.83Z"/>
<path d="M753.31 216.32L751.65 218.27L753.31 220.22L754.97 218.27Z"/>
<path d="M753.48 215.95L751.82 217.9L753.48 219.85L755.14 217.9Z"/>
<path d="M753.64 216.01L751.99 217.96L753.64 219.91L755.3 217.96Z"/>
<path d="M753.81 214.98L752.15 216.93L753.81 218.88L755.47 216.93Z"/>
<path d="M753.98 216.86L752.32 218.81L753.98 220.76L755.63 218.81Z"/>
<path d="M754.14 215.4L752.48 217.35L754.14 219.3L755.8 217.35Z"/>
<path d="M754.31 216.83L752.65 218.78L754.31 220.73L755.96 218.78Z"/>
<path d="M754.47 214.81L752.81 216.76L754.47 218.71L756.13 216.76Z"/>
<path d="M754.63 215.05L752.98 217L754.63 218.95L756.29 217Z"/>
<path d="M754.8 216.06L753.14 218.01L754.8 219.96L756.45 218.01Z"/>
<path d="M754.96 215.24L753.3 217.19L754.96 219.14L756.62 217.19Z"/>
<path d="M755.12 216.23L753.46 218.18L755.12 220.13L756.78 218.18Z"/>
<path d="M755.28 215.6L753.62 217.55L755.28 219.5L756.94 217.55Z"/>
<path d="M755.44 214.68L753.79 216.63L755.44 218.58L757.1 216.63Z"/>
<path d="M755.6 215.85L753.95 217.8L755.6 219.75L757.26 217.8Z"/>
<path d="M755.76 215.9L754.11 217.85L755.76 219.8L757.42 217.85Z"/>
<path d="M755.92 213.88L754.26 215.83L755.92 217.78L757.58 215.83Z"/>
<path d="M756.08 216.4L754.42 218.35L756.08 220.3L757.74 218.35Z"/>
<path d="M756.24 215.37L754.58 217.32L756.24 219.27L757.9 217.32Z"/>
<path d="M756.4 215.45L754.74 217.4L756.4 219.35L758.05 217.4Z"/>
<path d="M756.55 213.52L754.9 215.47L756.55 217.42L758.21 215.47Z"/>
<path d="M756.71 214.22L755.05 216.17L756.71 218.12L758.37 216.17Z"/>
<path d="M756.87 214.38L755.21 216.33L756.87 218.28L758.53 216.33Z"/>
<path d="M757.02 215.28L755.37 217.23L757.02 219.18L758.68 217.23Z"/>
<path d="M757.18 213.41L755.52 215.36L757.18 217.31L758.84 215.36Z"/>
<path d="M757.33 213.72L755.68 215.67L757.33 217.62L758.99 215.67Z"/>
<path d="M757.49 212.83L755.83 214.78L757.49 216.73L759.15 214.78Z"/>
<path d="M757.64 214L755.99 215.95L757.64 217.9L759.3 215.95Z"/>
<path d="M757.8 214.32L756.14 216.27L757.8 218.22L759.45 216.27Z"/>
<path d="M757.95 212.82L756.29 214.77L757.95 216.72L759.61 214.77Z"/>
<path d="M758.1 213.51L756.44 215.46L758.1 217.41L759.76 215.46Z"/>
<path d="M758.25 214.2L756.6 216.15L758.25 218.1L759.91 216.15Z"/>
<path d="M758.41 214.89L756.75 216.84L758.41 218.79L760.06 216.84Z"/>
<path d="M758.56 214.18L756.9 216.13L758.56 218.08L760.22 216.13Z"/>
<path d="M758.71 213.44L757.05 215.39L758.71 217.34L760.37 215.39Z"/>
<path d="M758.86 212.77L757.2 214.72L758.86 216.67L760.52 214.72Z"/>
<path d="M759.01 212.89L757.35 214.84L759.01 216.79L760.67 214.84Z"/>
<path d="M759.16 213.03L757.5 214.98L759.16 216.93L760.82 214.98Z"/>
<path d="M759.31 213.55L757.65 215.5L759.31 217.45L760.97 215.5Z"/>
<path d="M759.46 213.37L757.8 215.32L759.46 217.27L761.11 215.32Z"/>
<path d="M759.6 214.52L757.95 216.47L759.6 218.42L761.26 216.47Z"/>
<path d="M759.75 213.51L758.09 215.46L759.75 217.41L761.41 215.46Z"/>
<path d="M759.9 212.51L758.24 214.46L759.9 216.41L761.56 214.46Z"/>
<path d="M760.05 214.3L758.39 216.25L760.05 218.2L761.7 216.25Z"/>
<path d="M760.19 213.83L758.54 215.78L760.19 217.73L761.85 215.78Z"/>
<path d="M760.34 213.2L758.68 215.15L760.34 217.1L762 215.15Z"/>
<path d="M760.48 212.58L758.83 214.53L760.48 216.48L762.14 214.53Z"/>
<path d="M760.63 211.73L758.97 213.68L760.63 215.63L762.29 213.68Z"/>
<path d="M760.78 212.29L759.12 214.24L760.78 216.19L762.43 214.24Z"/>
<path d="M760.92 213.61L759.26 215.56L760.92 217.51L762.58 215.56Z"/>
<path d="M761.06 212.37L759.41 214.32L761.06 216.27L762.72 214.32Z"/>
<path d="M761.21 211.98L759.55 213.93L761.21 215.88L762.86 213.93Z"/>
<path d="M761.35 213.01L759.69 214.96L761.35 216.91L763.01 214.96Z"/>
<path d="M761.49 213.02L759.84 214.97L761.49 216.92L763.15 214.97Z"/>
<path d="M761.64 213.25L759.98 215.2L761.64 217.15L763.29 215.2Z"/>
<path d="M761.78 213.26L760.12 215.21L761.78 217.16L763.44 215.21Z"/>
<path d="M761.92 213.77L760.26 215.72L761.92 217.67L763.58 215.72Z"/>
<path d="M762.06 212.18L760.4 214.13L762.06 216.08L763.72 214.13Z"/>
<path d="M762.2 213.44L760.54 215.39L762.2 217.34L763.86 215.39Z"/>
<path d="M762.34 212.06L760.68 214.01L762.34 215.96L764 214.01Z"/>
<path d="M762.48 213.24L760.82 215.19L762.48 217.14L764.14 215.19Z"/>
<path d="M762.62 212.88L760.96 214.83L762.62 216.78L764.28 214.83Z"/>
<path d="M762.76 212.94L761.1 214.89L762.76 216.84L764.42 214.89Z"/>
<path d="M762.9 213.48L761.24 215.43L762.9 217.38L764.56 215.43Z"/>
<path d="M763.04 212.84L761.38 214.79L763.04 216.74L764.7 214.79Z"/>
<path d="M763.18 213.68L761.52 215.63L763.18 217.58L764.83 215.63Z"/>
<path d="M763.31 213.58L761.66 215.53L763.31 217.48L764.97 215.53Z"/>
<path d="M763.45 213.14L761.79 215.09L763.45 217.04L765.11 215.09Z"/>
<path d="M763.59 212.73L761.93 214.68L763.59 216.63L765.25 214.68Z"/>
<path d="M763.73 212.69L762.07 214.64L763.73 216.59L765.38 214.64Z"/>
<path d="M763.86 212.95L762.2 214.9L763.86 216.85L765.52 214.9Z"/>
<path d="M764 213.28L762.34 215.23L764 217.18L765.66 215.23Z"/>
<path d="M764.13 213.52L762.48 215.47L764.13 217.42L765.79 215.47Z"/>
<path d="M764.27 215.74L762.61 217.69L764.27 219.64L765.93 217.69Z"/>
<path d="M764.4 214.23L762.75 216.18L764.4 218.13L766.06 216.18Z"/>
<path d="M764.54 214.45L762.88 216.4L764.54 218.35L766.2 216.4Z"/>
<path d="M764.67 213.44L763.02 215.39L764.67 217.34L766.33 215.39Z"/>
<path d="M764.81 213.69L763.15 215.64L764.81 217.59L766.46 215.64Z"/>
<path d="M764.94 214.1L763.28 216.05L764.94 218L766.6 216.05Z"/>
<path d="M765.07 214.6L763.42 216.55L765.07 218.5L766.73 216.55Z"/>
<path d="M765.21 213.89L763.55 215.84L765.21 217.79L766.86 215.84Z"/>
<path d="M765.34 215.89L763.68 217.84L765.34 219.79L767 217.84Z"/>
<path d="M765.47 214.51L763.81 216.46L765.47 218.41L767.13 216.46Z"/>
<path d="M765.6 215.81L763.94 217.76L765.6 219.71L767.26 217.76Z"/>
<path d="M765.73 213.56L764.08 215.51L765.73 217.46L767.39 215.51Z"/>
<path d="M765.86 215.34L764.21 217.29L765.86 219.24L767.52 217.29Z"/>
<path d="M766 215.68L764.34 217.63L766 219.58L767.65 217.63Z"/>
<path d="M766.13 215.76L764.47 217.71L766.13 219.66L767.78 217.71Z"/>
<path d="M766.26 216.19L764.6 218.14L766.26 220.09L767.91 218.14Z"/>
<path d="M766.39 216.1L764.73 218.05L766.39 220L768.04 218.05Z"/>
<path d="M766.52 216.16L764.86 218.11L766.52 220.06L768.17 218.11Z"/>
<path d="M766.64 214.85L764.99 216.8L766.64 218.75L768.3 216.8Z"/>
<path d="M766.77 215.8L765.12 217.75L766.77 219.7L768.43 217.75Z"/>
<path d="M766.9 214.78L765.24 216.73L766.9 218.68L768.56 216.73Z"/>
<path d="M767.03 216.98L765.37 218.93L767.03 220.88L768.69 218.93Z"/>
<path d="M767.16 216.86L765.5 218.81L767.16 220.76L768.82 218.81Z"/>
<path d="M767.28 216.62L765.63 218.57L767.28 220.52L768.94 218.57Z"/>
<path d="M767.41 216.28L765.75 218.23L767.41 220.18L769.07 218.23Z"/>
<path d="M767.54 216.54L765.88 218.49L767.54 220.44L769.2 218.49Z"/>
<path d="M767.67 218.32L766.01 220.27L767.67 222.22L769.32 220.27Z"/>
<path d="M767.79 218.32L766.13 220.27L767.79 222.22L769.45 220.27Z"/>
<path d="M767.92 217.15L766.26 219.1L767.92 221.05L769.58 219.1Z"/>
<path d="M768.04 218.17L766.39 220.12L768.04 222.07L769.7 220.12Z"/>
<path d="M768.17 216.24L766.51 218.19L768.17 220.14L769.83 218.19Z"/>
<path d="M768.29 216.08L766.64 218.03L768.29 219.98L769.95 218.03Z"/>
<path d="M768.42 217.18L766.76 219.13L768.42 221.08L770.08 219.13Z"/>
<path d="M768.54 216.99L766.89 218.94L768.54 220.89L770.2 218.94Z"/>
<path d="M768.67 217.29L767.01 219.24L768.67 221.19L770.32 219.24Z"/>
<path d="M768.79 217.9L767.13 219.85L768.79 221.8L770.45 219.85Z"/>
<path d="M768.91 219.97L767.26 221.92L768.91 223.87L770.57 221.92Z"/>
<path d="M769.04 217.47L767.38 219.42L769.04 221.37L770.69 219.42Z"/>
<path d="M769.16 218.06L767.5 220.01L769.16 221.96L770.82 220.01Z"/>
<path d="M769.28 218.3L767.63 220.25L769.28 222.2L770.94 220.25Z"/>
<path d="M769.4 218.16L767.75 220.11L769.4 222.06L771.06 220.11Z"/>
<path d="M769.53 218.92L767.87 220.87L769.53 222.82L771.18 220.87Z"/>
<path d="M769.65 219.59L767.99 221.54L769.65 223.49L771.31 221.54Z"/>
<path d="M769.77 217.55L768.11 219.5L769.77 221.45L771.43 219.5Z"/>
<path d="M769.89 218.61L768.23 220.56L769.89 222.51L771.55 220.56Z"/>
<path d="M770.01 218.39L768.35 220.34L770.01 222.29L771.67 220.34Z"/>
<path d="M770.13 218.9L768.47 220.85L770.13 222.8L771.79 220.85Z"/>
<path d="M770.25 217.65L768.6 219.6L770.25 221.55L771.91 219.6Z"/>
<path d="M770.37 217.56L768.72 219.51L770.37 221.46L772.03 219.51Z"/>
<path d="M770.49 217.24L768.83 219.19L770.49 221.14L772.15 219.19Z"/>
<path d="M770.61 219.29L768.95 221.24L770.61 223.19L772.27 221.24Z"/>
<path d="M770.73 219.12L769.07 221.07L770.73 223.02L772.39 221.07Z"/>
<path d="M770.85 219.1L769.19 221.05L770.85 223L772.51 221.05Z"/>
<path d="M770.97 217.45L769.31 219.4L770.97 221.35L772.63 219.4Z"/>
<path d="M771.09 218.9L769.43 220.85L771.09 222.8L772.74 220.85Z"/>
<path d="M771.2 218.68L769.55 220.63L771.2 222.58L772.86 220.63Z"/>
<path d="M771.32 218.27L769.67 220.22L771.32 222.17L772.98 220.22Z"/>
<path d="M771.44 218.66L769.78 220.61L771.44 222.56L773.1 220.61Z"/>
<path d="M771.56 219.83L769.9 221.78L771.56 223.73L773.21 221.78Z"/>
<path d="M771.67 219.76L770.02 221.71L771.67 223.66L773.33 221.71Z"/>
<path d="M771.79 219.4L770.13 221.35L771.79 223.3L773.45 221.35Z"/>
<path d="M771.91 219.81L770.25 221.76L771.91 223.71L773.56 221.76Z"/>
<path d="M772.02 219.05L770.37 221L772.02 222.95L773.68 221Z"/>
<path d="M772.14 219.55L770.48 221.5L772.14 223.45L773.8 221.5Z"/>
<path d="M772.25 219.54L770.6 221.49L772.25 223.44L773.91 221.49Z"/>
<path d="M772.37 219.92L770.71 221.87L772.37 223.82L774.03 221.87Z"/>
<path d="M772.49 219.49L770.83 221.44L772.49 223.39L774.14 221.44Z"/>
<path d="M772.6 219.45L770.94 221.4L772.6 223.35L774.26 221.4Z"/>
<path d="M772.71 219.46L771.06 221.41L772.71 223.36L774.37 221.41Z"/>
<path d="M772.83 219.09L771.17 221.04L772.83 222.99L774.49 221.04Z"/>
<path d="M772.94 221.1L771.29 223.05L772.94 225L774.6 223.05Z"/>
<path d="M773.06 219.88L771.4 221.83L773.06 223.78L774.71 221.83Z"/>
<path d="M773.17 219.8L771.51 221.75L773.17 223.7L774.83 221.75Z"/>
<path d="M773.28 221.08L771.63 223.03L773.28 224.98L774.94 223.03Z"/>
<path d="M773.4 220.43L771.74 222.38L773.4 224.33L775.05 222.38Z"/>
<path d="M773.51 218.32L771.85 220.27L773.51 222.22L775.17 220.27Z"/>
<path d="M773.62 219.86L771.96 221.81L773.62 223.76L775.28 221.81Z"/>
<path d="M773.73 219.92L772.08 221.87L773.73 223.82L775.39 221.87Z"/>
<path d="M773.85 220.6L772.19 222.55L773.85 224.5L775.5 222.55Z"/>
<path d="M773.96 220.15L772.3 222.1L773.96 224.05L775.62 222.1Z"/>
<path d="M774.07 219.72L772.41 221.67L774.07 223.62L775.73 221.67Z"/>
<path d="M774.18 218.3L772.52 220.25L774.18 222.2L775.84 220.25Z"/>
<path d="M774.29 218.46L772.64 220.41L774.29 222.36L775.95 220.41Z"/>
<path d="M774.4 219.19L772.75 221.14L774.4 223.09L776.06 221.14Z"/>
<path d="M774.51 219.29L772.86 221.24L774.51 223.19L776.17 221.24Z"/>
<path d="M774.62 218.16L772.97 220.11L774.62 222.06L776.28 220.11Z"/>
<path d="M774.73 218.54L773.08 220.49L774.73 222.44L776.39 220.49Z"/>
<path d="M774.84 218.46L773.19 220.41L774.84 222.36L776.5 220.41Z"/>
<path d="M774.95 218.71L773.3 220.66L774.95 222.61L776.61 220.66Z"/>
<path d="M775.06 218.83L773.41 220.78L775.06 222.73L776.72 220.78Z"/>
<path d="M775.17 218.32L773.52 220.27L775.17 222.22L776.83 220.27Z"/>
<path d="M775.28 217.58L773.62 219.53L775.28 221.48L776.94 219.53Z"/>
<path d="M775.39 219.24L773.73 221.19L775.39 223.14L777.05 221.19Z"/>
<path d="M775.5 219.41L773.84 221.36L775.5 223.31L777.16 221.36Z"/>
<path d="M775.61 218.14L773.95 220.09L775.61 222.04L777.26 220.09Z"/>
<path d="M775.72 218.86L774.06 220.81L775.72 222.76L777.37 220.81Z"/>
<path d="M775.82 218.37L774.17 220.32L775.82 222.27L777.48 220.32Z"/>
<path d="M775.93 218.43L774.27 220.38L775.93 222.33L777.59 220.38Z"/>
<path d="M776.04 218.21L774.38 220.16L776.04 222.11L777.7 220.16Z"/>
<path d="M776.15 217.23L774.49 219.18L776.15 221.13L777.8 219.18Z"/>
<path d="M776.25 218.06L774.59 220.01L776.25 221.96L777.91 220.01Z"/>
<path d="M776.36 218.25L774.7 220.2L776.36 222.15L778.02 220.2Z"/>
<path d="M776.47 216.79L774.81 218.74L776.47 220.69L778.12 218.74Z"/>
<path d="M776.57 218.66L774.91 220.61L776.57 222.56L778.23 220.61Z"/>
<path d="M776.68 218.62L775.02 220.57L776.68 222.52L778.33 220.57Z"/>
<path d="M776.78 218.29L775.13 220.24L776.78 222.19L778.44 220.24Z"/>
<path d="M776.89 218.26L775.23 220.21L776.89 222.16L778.55 220.21Z"/>
<path d="M776.99 217.24L775.34 219.19L776.99 221.14L778.65 219.19Z"/>
<path d="M777.1 216.33L775.44 218.28L777.1 220.23L778.76 218.28Z"/>
<path d="M777.2 215.98L775.55 217.93L777.2 219.88L778.86 217.93Z"/>
<path d="M777.31 215.67L775.65 217.62L777.31 219.57L778.97 217.62Z"/>
<path d="M777.41 216.16L775.76 218.11L777.41 220.06L779.07 218.11Z"/>
<path d="M777.52 215.88L775.86 217.83L777.52 219.78L779.18 217.83Z"/>
<path d="M777.62 216.2L775.96 218.15L777.62 220.1L779.28 218.15Z"/>
<path d="M777.73 214.15L776.07 216.1L777.73 218.05L779.38 216.1Z"/>
<path d="M777.83 217L776.17 218.95L777.83 220.9L779.49 218.95Z"/>
<path d="M777.93 216.8L776.28 218.75L777.93 220.7L779.59 218.75Z"/>
<path d="M778.04 215L776.38 216.95L778.04 218.9L779.69 216.95Z"/>
<path d="M778.14 215.31L776.48 217.26L778.14 219.21L779.8 217.26Z"/>
<path d="M778.24 214.99L776.58 216.94L778.24 218.89L779.9 216.94Z"/>
<path d="M778.34 214.74L776.69 216.69L778.34 218.64L780 216.69Z"/>
<path d="M778.45 214.4L776.79 216.35L778.45 218.3L780.1 216.35Z"/>
<path d="M778.55 214.46L776.89 216.41L778.55 218.36L780.21 216.41Z"/>
</g>
<path d="M461.7 171.5L462.15 171.5L462.61 171.5L463.06 171.5L463.51 171.5L463.96 171.5L464.42 171.5L464.87 171.5L465.32 171.5L465.77 171.5L466.23 171.5L466.68 171.5L467.13 171.5L467.59 171.5L468.04 171.5L468.49 171.5L468.94 171.5L469.4 171.5L469.85 171.5L470.3 171.5L470.75 171.5L471.21 171.5L471.66 171.5L472.11 171.5L472.57 171.5L473.02 171.5L473.47 171.5L473.92 171.5L474.38 171.5L474.83 171.5L475.28 171.5L475.73 171.5L476.19 171.5L476.64 171.5L477.09 171.5L477.55 171.5L478 171.5L478.45 171.5L478.9 171.5L479.36 171.5L479.81 171.5L480.26 171.5L480.71 171.5L481.17 171.5L481.62 171.5L482.07 171.5L482.52 171.5L482.98 171.5L483.43 171.5L483.88 171.5L484.34 171.5L484.79 171.5L485.24 171.5L485.69 171.5L486.15 171.5L486.6 171.5L487.05 171.5L487.5 171.5L487.96 171.5L488.41 171.5L488.86 171.5L489.32 171.5L489.77 171.5L490.22 171.5L490.67 171.5L491.13 171.5L491.58 171.5L492.03 171.5L492.48 171.5L492.94 171.5L493.39 171.5L493.84 171.5L494.3 171.5L494.75 171.5L495.2 171.5L495.65 171.5L496.11 171.5L496.56 171.5L497.01 171.5L497.46 171.5L497.92 171.5L498.37 171.5L498.82 171.5L499.28 171.5L499.73 171.5L500.18 171.5L500.63 171.5L501.09 171.5L501.54 171.5L501.99 171.5L502.44 171.5L502.9 171.5L503.35 171.5L503.8 171.5L504.26 171.5L504.71 171.5L505.16 171.5L505.61 171.5L506.07 171.5L506.52 171.5L506.97 171.5L507.42 171.5L507.88 171.5L508.33 171.5L508.78 171.5L509.24 171.5L509.69 171.5L510.14 171.5L510.59 171.5L511.05 171.5L511.5 171.5L511.95 171.5L512.4 171.5L512.86 171.5L513.31 171.5L513.76 171.5L514.21 171.5L514.67 171.5L515.12 171.5L515.57 171.5L516.03 171.5L516.48 171.5L516.93 171.5L517.38 171.5L517.84 171.5L518.29 171.5L518.74 171.5L519.19 171.5L519.65 171.5L520.1 171.5L520.55 171.5L521.01 171.5L521.46 171.51L521.91 171.51L522.36 171.52L522.82 171.53L523.27 171.54L523.72 171.55L524.17 171.56L524.63 171.58L525.08 171.59L525.53 171.61L525.99 171.63L526.44 171.64L526.89 171.66L527.34 171.68L527.8 171.7L528.25 171.72L528.7 171.74L529.15 171.76L529.61 171.79L530.06 171.81L530.51 171.83L530.97 171.86L531.42 171.88L531.87 171.9L532.32 171.93L532.78 171.95L533.23 171.98L533.68 172L534.13 172.02L534.59 172.05L535.04 172.07L535.49 172.1L535.95 172.12L536.4 172.14L536.85 172.16L537.3 172.18L537.76 172.21L538.21 172.23L538.66 172.25L539.11 172.27L539.57 172.28L540.02 172.3L540.47 172.32L540.92 172.33L541.38 172.35L541.83 172.37L542.28 172.38L542.74 172.4L543.19 172.41L543.64 172.42L544.09 172.44L544.55 172.45L545 172.47L545.45 172.48L545.9 172.49L546.36 172.51L546.81 172.52L547.26 172.53L547.72 172.55L548.17 172.56L548.62 172.57L549.07 172.59L549.53 172.6L549.98 172.61L550.43 172.63L550.88 172.64L551.34 172.66L551.79 172.67L552.24 172.69L552.7 172.7L553.15 172.72L553.6 172.73L554.05 172.75L554.51 172.76L554.96 172.78L555.41 172.8L555.86 172.81L556.32 172.83L556.77 172.85L557.22 172.87L557.68 172.89L558.13 172.91L558.58 172.93L559.03 172.95L559.49 172.97L559.94 173L560.39 173.02L560.84 173.05L561.3 173.07L561.75 173.1L562.2 173.13L562.66 173.16L563.11 173.19L563.56 173.22L564.01 173.26L564.47 173.29L564.92 173.33L565.37 173.36L565.82 173.4L566.28 173.44L566.73 173.48L567.18 173.52L567.64 173.56L568.09 173.6L568.54 173.65L568.99 173.69L569.45 173.73L569.9 173.78L570.35 173.83L570.8 173.87L571.26 173.92L571.71 173.97L572.16 174.02L572.62 174.06L573.07 174.11L573.52 174.16L573.97 174.21L574.43 174.26L574.88 174.31L575.33 174.36L575.78 174.42L576.24 174.47L576.69 174.52L577.14 174.57L577.59 174.62L578.05 174.68L578.5 174.73L578.95 174.78L579.41 174.83L579.86 174.88L580.31 174.94L580.76 174.99L581.22 175.04L581.67 175.1L582.12 175.16L582.57 175.21L583.03 175.27L583.48 175.33L583.93 175.39L584.39 175.45L584.84 175.51L585.29 175.57L585.74 175.64L586.2 175.7L586.65 175.77L587.1 175.83L587.55 175.9L588.01 175.96L588.46 176.03L588.91 176.1L589.37 176.16L589.82 176.23L590.27 176.3L590.72 176.37L591.18 176.44L591.63 176.51L592.08 176.58L592.53 176.65L592.99 176.72L593.44 176.79L593.89 176.86L594.35 176.93L594.8 177L595.25 177.07L595.7 177.14L596.16 177.21L596.61 177.28L597.06 177.35L597.51 177.42L597.97 177.49L598.42 177.57L598.87 177.64L599.33 177.71L599.78 177.78L600.23 177.85L600.68 177.92L601.14 177.99L601.59 178.06L602.04 178.13L602.49 178.21L602.95 178.28L603.4 178.35L603.85 178.43L604.31 178.5L604.76 178.58L605.21 178.65L605.66 178.73L606.12 178.81L606.57 178.89L607.02 178.97L607.47 179.05L607.93 179.14L608.38 179.22L608.83 179.31L609.28 179.39L609.74 179.48L610.19 179.57L610.64 179.66L611.1 179.76L611.55 179.85L612 179.94L612.45 180.04L612.91 180.14L613.36 180.24L613.81 180.34L614.26 180.44L614.72 180.54L615.17 180.64L615.62 180.75L616.08 180.85L616.53 180.96L616.98 181.07L617.43 181.17L617.89 181.28L618.34 181.39L618.79 181.5L619.24 181.61L619.7 181.72L620.15 181.84L620.6 181.95L621.06 182.07L621.51 182.18L621.96 182.3L622.41 182.42L622.87 182.54L623.32 182.66L623.77 182.79L624.22 182.91L624.68 183.04L625.13 183.16L625.58 183.29L626.04 183.42L626.49 183.55L626.94 183.68L627.39 183.81L627.85 183.94L628.3 184.07L628.75 184.2L629.2 184.34L629.66 184.47L630.11 184.6L630.56 184.74L631.02 184.87L631.47 185.01L631.92 185.15L632.37 185.28L632.83 185.42L633.28 185.55L633.73 185.69L634.18 185.82L634.64 185.96L635.09 186.09L635.54 186.22L636 186.36L636.45 186.49L636.9 186.63L637.35 186.78L637.81 186.92L638.26 187.07L638.71 187.23L639.16 187.39L639.62 187.55L640.07 187.73L640.52 187.91L640.97 188.09L641.43 188.29L641.88 188.49L642.33 188.7L642.79 188.91L643.24 189.13L643.69 189.35L644.14 189.58L644.6 189.81L645.05 190.05L645.5 190.29L645.95 190.53L646.41 190.78L646.86 191.03L647.31 191.29L647.77 191.54L648.22 191.8L648.67 192.06L649.12 192.32L649.58 192.58L650.03 192.84L650.48 193.1L650.93 193.36L651.39 193.62L651.84 193.88L652.29 194.14L652.75 194.4L653.2 194.66L653.65 194.91L654.1 195.18L654.56 195.44L655.01 195.71L655.46 195.98L655.91 196.25L656.37 196.53L656.82 196.81L657.27 197.09L657.73 197.37L658.18 197.65L658.63 197.93L659.08 198.22L659.54 198.5L659.99 198.79L660.44 199.07L660.89 199.36L661.35 199.64L661.8 199.92L662.25 200.2L662.71 200.48L663.16 200.76L663.61 201.03L664.06 201.31L664.52 201.58L664.97 201.85L665.42 202.11L665.87 202.37L666.33 202.63L666.78 202.89L667.23 203.14L667.69 203.4L668.14 203.66L668.59 203.92L669.04 204.17L669.5 204.43L669.95 204.68L670.4 204.94L670.85 205.19L671.31 205.44L671.76 205.7L672.21 205.94L672.66 206.19L673.12 206.44L673.57 206.68L674.02 206.92L674.48 207.16L674.93 207.4L675.38 207.64L675.83 207.87L676.29 208.1L676.74 208.32L677.19 208.55L677.64 208.77L678.1 208.99L678.55 209.2L679 209.41L679.46 209.62L679.91 209.81L680.36 210L680.81 210.19L681.27 210.37L681.72 210.54L682.17 210.72L682.62 210.9L683.08 211.08L683.53 211.26L683.98 211.45L684.44 211.64L684.89 211.84L685.34 212.04L685.79 212.25L686.25 212.46L686.7 212.67L687.15 212.88L687.6 213.1L688.06 213.32L688.51 213.53L688.96 213.76L689.42 213.98L689.87 214.21L690.32 214.44L690.77 214.68L691.23 214.91L691.68 215.15L692.13 215.4L692.58 215.65L693.04 215.9L693.49 216.15L693.94 216.41L694.4 216.68L694.85 216.95L695.3 217.23L695.75 217.53L696.21 217.84L696.66 218.16L697.11 218.48L697.56 218.81L698.02 219.13L698.47 219.46L698.92 219.77L699.38 220.09L699.83 220.39L700.28 220.68L700.73 220.97L701.19 221.26L701.64 221.55L702.09 221.84L702.54 222.13L703 222.42L703.45 222.71L703.9 223L704.35 223.29L704.81 223.57L705.26 223.85L705.71 224.13L706.17 224.41L706.62 224.69L707.07 224.96L707.52 225.23L707.98 225.5L708.43 225.77L708.88 226.03L709.33 226.29L709.79 226.55L710.24 226.8L710.69 227.05L711.15 227.29L711.6 227.53L712.05 227.77L712.5 228L712.96 228.23L713.41 228.45L713.86 228.68L714.31 228.9L714.77 229.13L715.22 229.35L715.67 229.57L716.13 229.79L716.58 230L717.03 230.21L717.48 230.42L717.94 230.61L718.39 230.8L718.84 230.98L719.29 231.15L719.75 231.31L720.2 231.46L720.65 231.6L721.11 231.73L721.56 231.85L722.01 231.98L722.46 232.1L722.92 232.23L723.37 232.35L723.82 232.46L724.27 232.56L724.73 232.66L725.18 232.74L725.63 232.81L726.09 232.86L726.54 232.89L726.99 232.9L727.44 232.89L727.9 232.84L728.35 232.77L728.8 232.67L729.25 232.56L729.71 232.42L730.16 232.26L730.61 232.09L731.07 231.91L731.52 231.71L731.97 231.51L732.42 231.3L732.88 231.09L733.33 230.88L733.78 230.66L734.23 230.39L734.69 230.08L735.14 229.74L735.59 229.36L736.04 228.97L736.5 228.56L736.95 228.14L737.4 227.73L737.86 227.31L738.31 226.92L738.76 226.54L739.21 226.19L739.67 225.86L740.12 225.54L740.57 225.22L741.02 224.92L741.48 224.61L741.93 224.31L742.38 224.01L742.84 223.71L743.29 223.4L743.74 223.1L744.19 222.8L744.65 222.5L745.1 222.21L745.55 221.93L746 221.65L746.46 221.38L746.91 221.12L747.36 220.88L747.82 220.64L748.27 220.42L748.72 220.21L749.17 220.02L749.63 219.83L750.08 219.65L750.53 219.48L750.98 219.32L751.44 219.15L751.89 218.99L752.34 218.82L752.8 218.65L753.25 218.48L753.7 218.29L754.15 218.1L754.61 217.9L755.06 217.67L755.51 217.41L755.96 217.14L756.42 216.86L756.87 216.57L757.32 216.3L757.78 216.04L758.23 215.81L758.68 215.61L759.13 215.46L759.59 215.31L760.04 215.17L760.49 215.03L760.94 214.91L761.4 214.81L761.85 214.74L762.3 214.7L762.76 214.72L763.21 214.87L763.66 215.12L764.11 215.47L764.57 215.89L765.02 216.36L765.47 216.85L765.92 217.36L766.38 217.85L766.83 218.3L767.28 218.7L767.73 219.02L768.19 219.31L768.64 219.62L769.09 219.93L769.55 220.23L770 220.52L770.45 220.78L770.9 221.02L771.36 221.22L771.81 221.37L772.26 221.47L772.71 221.5L773.17 221.45L773.62 221.32L774.07 221.13L774.53 220.88L774.98 220.6L775.43 220.29L775.88 219.96L776.34 219.52L776.79 218.95L777.24 218.3L777.69 217.56L778.15 216.77L778.6 216.5" stroke="#0000ff" stroke-dasharray="3.4 1.7"/>
</g>
<path d="M614.4 132.7L691 204" stroke="#008b00" stroke-width="1.5" stroke-dasharray="6.8 3.5" fill="none"/>
<g stroke="#000" stroke-width="1" fill="none">
<path d="M59.5 12H385.5V251.09H59.5Z"/><path d="M59.5 251.09h-4.4"/><path d="M385.5 251.09h4.4"/><path d="M59.5 231.48h-4.4"/><path d="M385.5 231.48h4.4"/><path d="M59.5 216.26h-4.4"/><path d="M385.5 216.26h4.4"/><path d="M59.5 203.83h-4.4"/><path d="M385.5 203.83h4.4"/><path d="M59.5 193.32h-4.4"/><path d="M385.5 193.32h4.4"/><path d="M59.5 184.21h-4.4"/><path d="M385.5 184.21h4.4"/><path d="M59.5 176.18h-4.4"/><path d="M385.5 176.18h4.4"/><path d="M59.5 169h-8.6"/><path d="M385.5 169h8.6"/><path d="M59.5 121.74h-4.4"/><path d="M385.5 121.74h4.4"/><path d="M59.5 94.09h-4.4"/><path d="M385.5 94.09h4.4"/><path d="M59.5 74.48h-4.4"/><path d="M385.5 74.48h4.4"/><path d="M59.5 59.26h-4.4"/><path d="M385.5 59.26h4.4"/><path d="M59.5 46.83h-4.4"/><path d="M385.5 46.83h4.4"/><path d="M59.5 36.32h-4.4"/><path d="M385.5 36.32h4.4"/><path d="M59.5 27.21h-4.4"/><path d="M385.5 27.21h4.4"/><path d="M59.5 19.18h-4.4"/><path d="M385.5 19.18h4.4"/><path d="M59.5 12h-8.6"/><path d="M385.5 12h8.6"/><path d="M59.5 251.09v8.6"/><path d="M59.5 12v-8.6"/><path d="M141 251.09v8.6"/><path d="M141 12v-8.6"/><path d="M222.5 251.09v8.6"/><path d="M222.5 12v-8.6"/><path d="M304 251.09v8.6"/><path d="M304 12v-8.6"/><path d="M385.5 251.09v8.6"/><path d="M385.5 12v-8.6"/><path d="M100.25 251.09v4.4"/><path d="M100.25 12v-4.4"/><path d="M181.75 251.09v4.4"/><path d="M181.75 12v-4.4"/><path d="M263.25 251.09v4.4"/><path d="M263.25 12v-4.4"/><path d="M344.75 251.09v4.4"/><path d="M344.75 12v-4.4"/>
<path d="M461.7 12H778.6V251.09H461.7Z"/><path d="M461.7 251.09h-4.4"/><path d="M778.6 251.09h4.4"/><path d="M461.7 231.48h-4.4"/><path d="M778.6 231.48h4.4"/><path d="M461.7 216.26h-4.4"/><path d="M778.6 216.26h4.4"/><path d="M461.7 203.83h-4.4"/><path d="M778.6 203.83h4.4"/><path d="M461.7 193.32h-4.4"/><path d="M778.6 193.32h4.4"/><path d="M461.7 184.21h-4.4"/><path d="M778.6 184.21h4.4"/><path d="M461.7 176.18h-4.4"/><path d="M778.6 176.18h4.4"/><path d="M461.7 169h-8.6"/><path d="M778.6 169h8.6"/><path d="M461.7 121.74h-4.4"/><path d="M778.6 121.74h4.4"/><path d="M461.7 94.09h-4.4"/><path d="M778.6 94.09h4.4"/><path d="M461.7 74.48h-4.4"/><path d="M778.6 74.48h4.4"/><path d="M461.7 59.26h-4.4"/><path d="M778.6 59.26h4.4"/><path d="M461.7 46.83h-4.4"/><path d="M778.6 46.83h4.4"/><path d="M461.7 36.32h-4.4"/><path d="M778.6 36.32h4.4"/><path d="M461.7 27.21h-4.4"/><path d="M778.6 27.21h4.4"/><path d="M461.7 19.18h-4.4"/><path d="M778.6 19.18h4.4"/><path d="M461.7 12h-8.6"/><path d="M778.6 12h8.6"/><path d="M461.7 251.09v8.6"/><path d="M461.7 12v-8.6"/><path d="M579.12 251.09v8.6"/><path d="M579.12 12v-8.6"/><path d="M696.53 251.09v8.6"/><path d="M696.53 12v-8.6"/><path d="M497.05 251.09v4.4"/><path d="M497.05 12v-4.4"/><path d="M517.72 251.09v4.4"/><path d="M517.72 12v-4.4"/><path d="M532.39 251.09v4.4"/><path d="M532.39 12v-4.4"/><path d="M543.77 251.09v4.4"/><path d="M543.77 12v-4.4"/><path d="M553.07 251.09v4.4"/><path d="M553.07 12v-4.4"/><path d="M560.93 251.09v4.4"/><path d="M560.93 12v-4.4"/><path d="M567.74 251.09v4.4"/><path d="M567.74 12v-4.4"/><path d="M573.74 251.09v4.4"/><path d="M573.74 12v-4.4"/><path d="M614.46 251.09v4.4"/><path d="M614.46 12v-4.4"/><path d="M635.14 251.09v4.4"/><path d="M635.14 12v-4.4"/><path d="M649.81 251.09v4.4"/><path d="M649.81 12v-4.4"/><path d="M661.18 251.09v4.4"/><path d="M661.18 12v-4.4"/><path d="M670.48 251.09v4.4"/><path d="M670.48 12v-4.4"/><path d="M678.34 251.09v4.4"/><path d="M678.34 12v-4.4"/><path d="M685.15 251.09v4.4"/><path d="M685.15 12v-4.4"/><path d="M691.16 251.09v4.4"/><path d="M691.16 12v-4.4"/><path d="M731.88 251.09v4.4"/><path d="M731.88 12v-4.4"/><path d="M752.55 251.09v4.4"/><path d="M752.55 12v-4.4"/><path d="M767.22 251.09v4.4"/><path d="M767.22 12v-4.4"/><path d="M778.6 251.09v4.4"/><path d="M778.6 12v-4.4"/>
</g>
<g font-family="'Liberation Serif', serif" fill="#000">
<text x="59.5" y="277.9" font-size="18.5" text-anchor="middle">-0.5</text>
<text x="141" y="277.9" font-size="18.5" text-anchor="middle">-0.25</text>
<text x="222.5" y="277.9" font-size="18.5" text-anchor="middle">0</text>
<text x="304" y="277.9" font-size="18.5" text-anchor="middle">0.25</text>
<text x="385.5" y="277.9" font-size="18.5" text-anchor="middle">0.5</text>
<text x="461.7" y="277.9" font-size="18.5" text-anchor="middle">0.001</text>
<text x="579.12" y="277.9" font-size="18.5" text-anchor="middle">0.01</text>
<text x="696.53" y="277.9" font-size="18.5" text-anchor="middle">0.1</text>
<text x="46.6" y="18.3" font-size="18.5" text-anchor="end">10</text>
<text x="46.6" y="175.6" font-size="18.5" text-anchor="end">1</text>
<text x="449.2" y="18.3" font-size="18.5" text-anchor="end">10</text>
<text x="449.2" y="175.6" font-size="18.5" text-anchor="end">1</text>
<text x="7" y="23.4" font-size="19">a)</text>
<text x="412.2" y="23.4" font-size="18.5">b)</text>
<use href="#xi" transform="translate(218 298.4)"/>
<use href="#xi" transform="translate(615.6 298.4)"/>
<text transform="translate(18.4 150.9) rotate(-90)" font-size="20.5">U(</text>
<use href="#xi" transform="translate(18.4 128.7) rotate(-90)"/>
<text transform="translate(18.4 118.3) rotate(-90)" font-size="20.5">)</text>
<text transform="translate(422.2 151.5) rotate(-90)" font-size="20.5">U(</text>
<use href="#xi" transform="translate(422.2 129.3) rotate(-90)"/>
<text transform="translate(422.2 118.9) rotate(-90)" font-size="20.5">)</text>
<use href="#xi" transform="translate(680.9 162) scale(0.92)"/>
<text x="689.8" y="150.7" font-size="13.2">-0.71</text>
</g>
<rect x="250.4" y="18.5" width="127.8" height="110.7" fill="#fff" stroke="#000" stroke-width="1"/><circle cx="264.3" cy="29.4" r="1.35" fill="none" stroke="#ff0000"/><text x="281.7" y="35.6" font-size="12.1" font-family="'Liberation Serif', serif">Sim D = 9 x 10<tspan dy="-6.3" font-size="8.4">-7</tspan></text><path d="M255.5 47.5h17.4" stroke="#ff0000" fill="none"/><text x="281.7" y="53.35" font-size="12.1" font-family="'Liberation Serif', serif">FPE D = 9 x 10<tspan dy="-6.3" font-size="8.4">-8</tspan></text><g fill="none" stroke="#000000" stroke-width="0.9"><path d="M264.3 63.1L262.5 66.43L266.1 66.43Z"/></g><text x="281.7" y="71.1" font-size="12.1" font-family="'Liberation Serif', serif">Sim D = 1 x 10<tspan dy="-6.3" font-size="8.4">-6</tspan></text><path d="M255.5 82.5h17.4" stroke="#000000" stroke-dasharray="0.75 1.15" fill="none"/><text x="281.7" y="88.85" font-size="12.1" font-family="'Liberation Serif', serif">FPE D = 1 x 10<tspan dy="-6.3" font-size="8.4">-6</tspan></text><g fill="none" stroke="#0000ff" stroke-width="0.9"><path d="M264.3 98.65L262.81 100.4L264.3 102.15L265.79 100.4Z"/></g><text x="281.7" y="106.6" font-size="12.1" font-family="'Liberation Serif', serif">Sim D = 2.5 x 10<tspan dy="-6.3" font-size="8.4">-5</tspan></text><path d="M255.5 118.5h17.4" stroke="#0000ff" stroke-dasharray="3.4 1.7" fill="none"/><text x="281.7" y="124.35" font-size="12.1" font-family="'Liberation Serif', serif">FPE D = 2.5 x 10<tspan dy="-6.3" font-size="8.4">-5</tspan></text>
<g transform="translate(647.4 0) scale(0.9725 1) translate(-250.4 0)"><rect x="250.4" y="18.5" width="127.8" height="110.7" fill="#fff" stroke="#000" stroke-width="1"/><circle cx="264.3" cy="29.4" r="1.35" fill="none" stroke="#ff0000"/><text x="281.7" y="35.6" font-size="12.1" font-family="'Liberation Serif', serif">Sim D = 9 x 10<tspan dy="-6.3" font-size="8.4">-8</tspan></text><path d="M255.5 47.5h17.4" stroke="#ff0000" fill="none"/><text x="281.7" y="53.35" font-size="12.1" font-family="'Liberation Serif', serif">FPE D = 9 x 10<tspan dy="-6.3" font-size="8.4">-8</tspan></text><g fill="none" stroke="#000000" stroke-width="0.9"><path d="M264.3 63.1L262.5 66.43L266.1 66.43Z"/></g><text x="281.7" y="71.1" font-size="12.1" font-family="'Liberation Serif', serif">Sim D = 1 x 10<tspan dy="-6.3" font-size="8.4">-6</tspan></text><path d="M255.5 82.5h17.4" stroke="#000000" stroke-dasharray="0.75 1.15" fill="none"/><text x="281.7" y="88.85" font-size="12.1" font-family="'Liberation Serif', serif">FPE D = 1 x 10<tspan dy="-6.3" font-size="8.4">-6</tspan></text><g fill="none" stroke="#0000ff" stroke-width="0.9"><path d="M264.3 98.65L262.81 100.4L264.3 102.15L265.79 100.4Z"/></g><text x="281.7" y="106.6" font-size="12.1" font-family="'Liberation Serif', serif">Sim D = 2.5 x 10<tspan dy="-6.3" font-size="8.4">-5</tspan></text><path d="M255.5 118.5h17.4" stroke="#0000ff" stroke-dasharray="3.4 1.7" fill="none"/><text x="281.7" y="124.35" font-size="12.1" font-family="'Liberation Serif', serif">FPE D = 2.5 x 10<tspan dy="-6.3" font-size="8.4">-5</tspan></text></g>
</svg>
</body></html>
